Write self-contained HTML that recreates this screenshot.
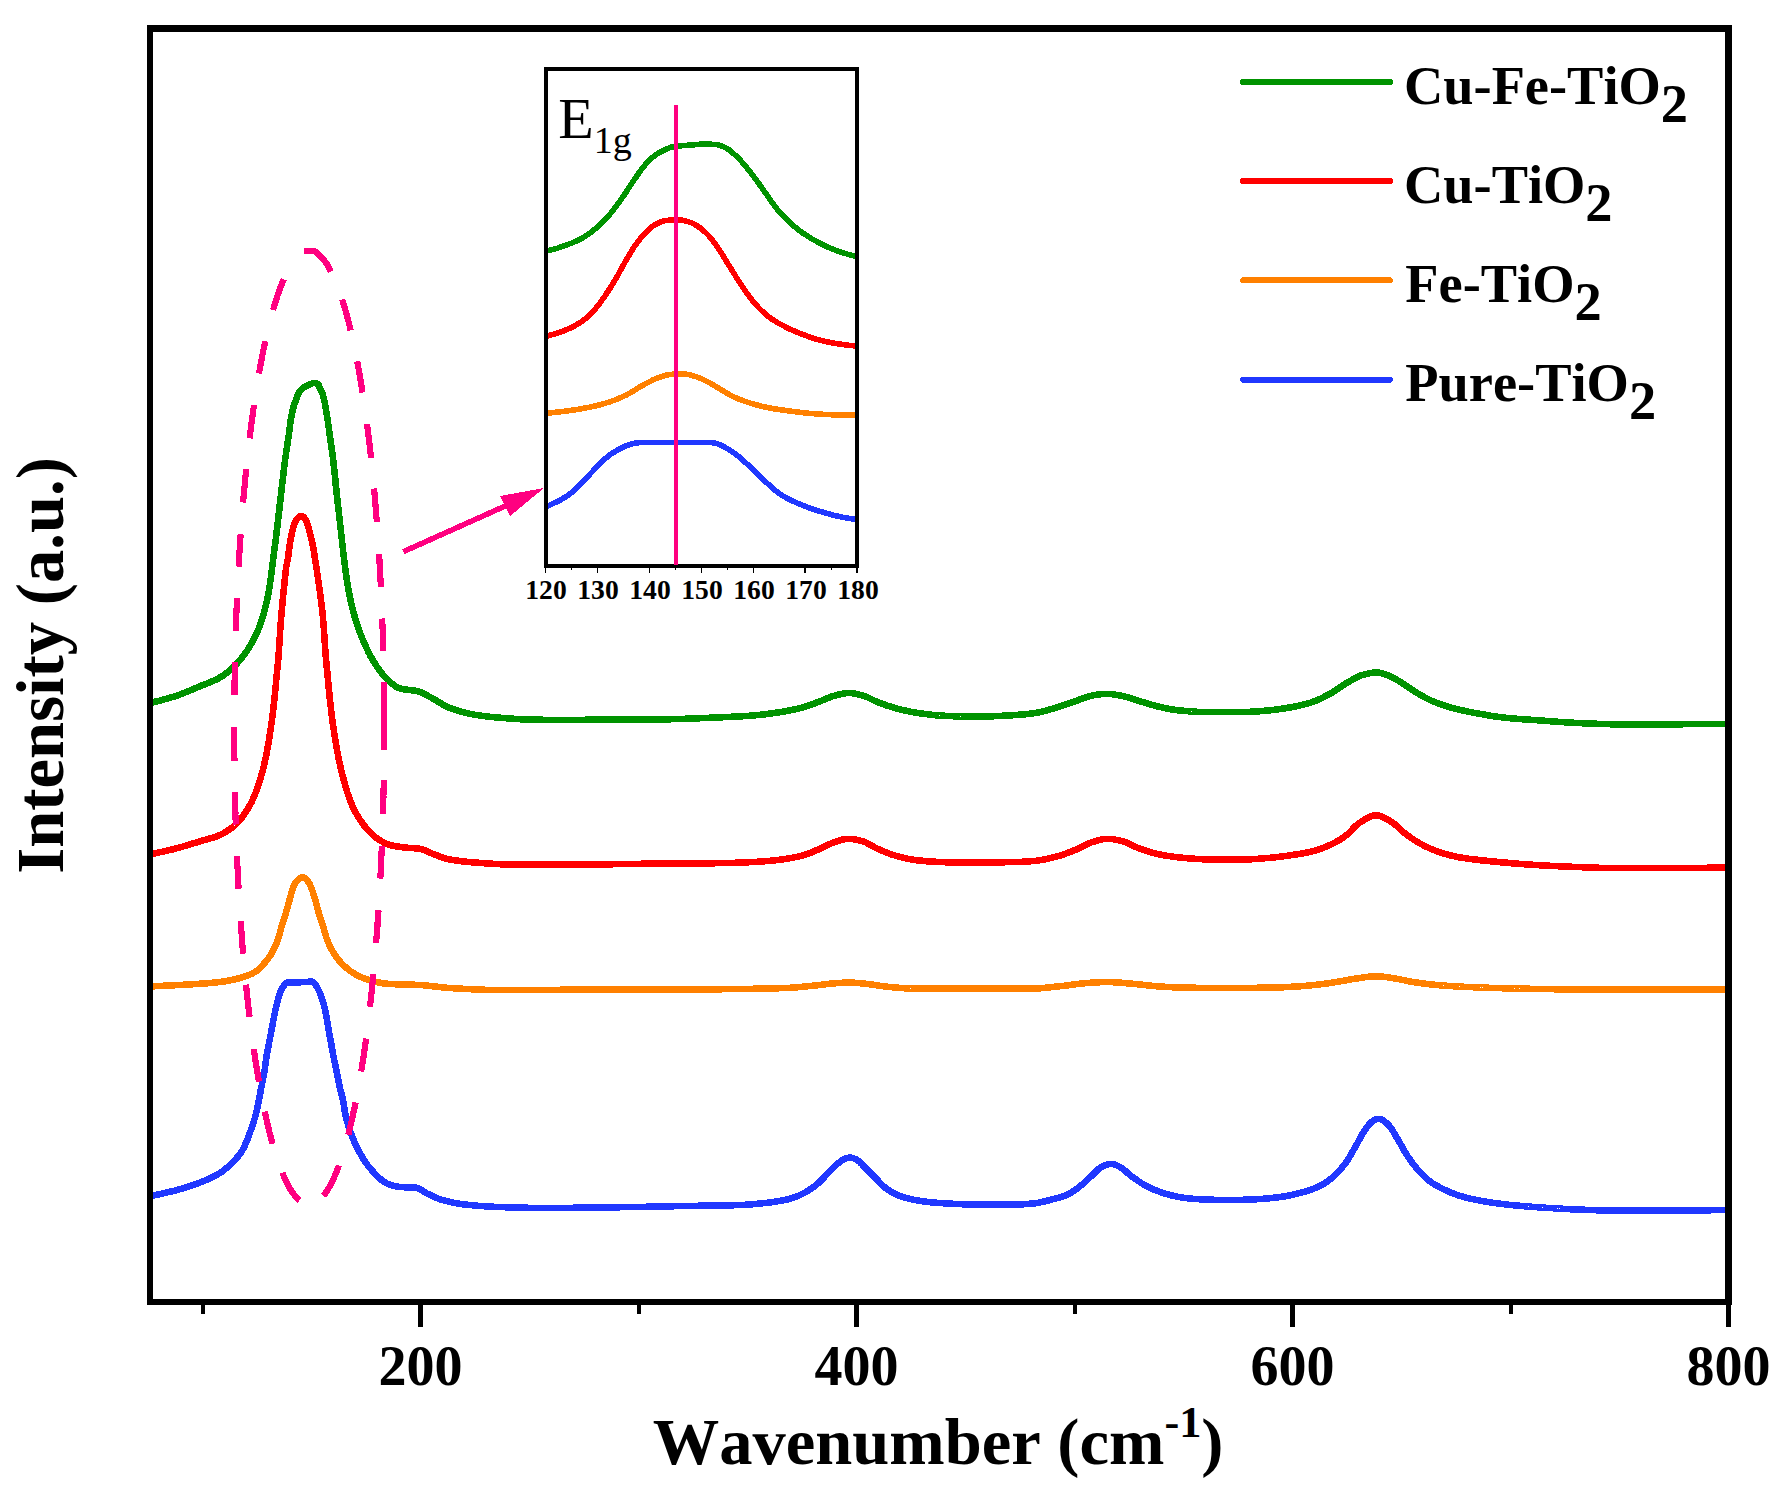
<!DOCTYPE html>
<html lang="en"><head><meta charset="utf-8"><title>Raman spectra</title>
<style>html,body{margin:0;padding:0;background:#fff}svg{display:block}text{font-kerning:none}</style></head>
<body>
<svg width="1788" height="1494" viewBox="0 0 1788 1494" shape-rendering="crispEdges">
<rect x="0" y="0" width="1788" height="1494" fill="#fff"/>
<defs>
<clipPath id="cm"><rect x="153" y="32" width="1572" height="1267"/></clipPath>
<clipPath id="ci"><rect x="548" y="71" width="307" height="493"/></clipPath>
</defs>
<g clip-path="url(#cm)" shape-rendering="crispEdges" fill="none" stroke-width="6.6" stroke-linejoin="round" stroke-linecap="butt">
<path d="M148.4,1196.4 L149.1,1196.3 L150.0,1196.1 L150.9,1195.9 L151.9,1195.7 L152.9,1195.5 L153.9,1195.3 L154.9,1195.1 L155.8,1194.9 L156.8,1194.7 L157.8,1194.5 L158.8,1194.3 L159.8,1194.1 L160.7,1193.9 L161.7,1193.7 L162.7,1193.4 L163.7,1193.2 L164.6,1193.0 L165.6,1192.8 L166.6,1192.6 L167.6,1192.3 L168.5,1192.1 L169.5,1191.9 L170.5,1191.6 L171.5,1191.4 L172.4,1191.2 L173.4,1190.9 L174.4,1190.7 L175.3,1190.4 L176.3,1190.2 L177.3,1189.9 L178.2,1189.6 L179.2,1189.4 L180.1,1189.1 L181.1,1188.8 L182.1,1188.5 L183.0,1188.2 L184.0,1187.9 L184.9,1187.7 L185.9,1187.4 L186.9,1187.1 L187.8,1186.8 L188.8,1186.4 L189.7,1186.1 L190.7,1185.8 L191.6,1185.5 L192.6,1185.2 L193.5,1184.9 L194.5,1184.5 L195.4,1184.2 L196.3,1183.9 L197.3,1183.5 L198.2,1183.2 L199.2,1182.8 L200.1,1182.5 L201.0,1182.1 L201.9,1181.7 L202.9,1181.4 L203.8,1181.0 L204.8,1180.6 L205.7,1180.2 L206.6,1179.9 L207.5,1179.5 L208.5,1179.1 L209.4,1178.6 L210.3,1178.2 L211.2,1177.8 L212.1,1177.4 L213.0,1176.9 L213.9,1176.5 L214.8,1176.0 L215.7,1175.5 L216.5,1175.1 L217.4,1174.6 L218.2,1174.1 L219.0,1173.5 L219.9,1173.0 L220.7,1172.4 L221.5,1171.9 L222.3,1171.3 L223.2,1170.7 L224.0,1170.1 L224.8,1169.4 L225.5,1168.8 L226.3,1168.2 L227.1,1167.5 L227.9,1166.8 L228.6,1166.2 L229.4,1165.5 L230.1,1164.8 L230.8,1164.1 L231.5,1163.4 L232.2,1162.7 L232.9,1162.0 L233.6,1161.3 L234.3,1160.6 L235.0,1159.9 L235.7,1159.1 L236.4,1158.4 L237.0,1157.6 L237.7,1156.8 L238.3,1156.0 L238.9,1155.2 L239.5,1154.4 L240.1,1153.6 L240.7,1152.8 L241.3,1152.0 L241.8,1151.1 L242.3,1150.3 L242.8,1149.5 L243.3,1148.6 L243.7,1147.7 L244.2,1146.8 L244.6,1146.0 L245.0,1145.1 L245.4,1144.1 L245.8,1143.2 L246.2,1142.3 L246.6,1141.4 L247.0,1140.4 L247.4,1139.5 L247.7,1138.5 L248.1,1137.6 L248.5,1136.7 L248.8,1135.7 L249.2,1134.8 L249.5,1133.8 L249.9,1132.9 L250.2,1131.9 L250.5,1131.0 L250.9,1130.1 L251.2,1129.1 L251.5,1128.2 L251.9,1127.2 L252.2,1126.3 L252.5,1125.3 L252.8,1124.4 L253.2,1123.4 L253.5,1122.5 L253.8,1121.5 L254.1,1120.6 L254.3,1119.6 L254.6,1118.7 L254.9,1117.7 L255.2,1116.7 L255.4,1115.8 L255.7,1114.8 L256.0,1113.8 L256.2,1112.9 L256.4,1111.9 L256.7,1110.9 L256.9,1110.0 L257.1,1109.0 L257.3,1108.0 L257.5,1107.0 L257.7,1106.0 L257.9,1105.1 L258.1,1104.1 L258.3,1103.1 L258.5,1102.1 L258.7,1101.1 L258.9,1100.2 L259.1,1099.2 L259.3,1098.2 L259.5,1097.2 L259.7,1096.2 L259.9,1095.2 L260.0,1094.3 L260.2,1093.3 L260.4,1092.3 L260.6,1091.3 L260.7,1090.3 L260.9,1089.3 L261.1,1088.4 L261.3,1087.4 L261.5,1086.4 L261.7,1085.4 L261.9,1084.4 L262.1,1083.4 L262.3,1082.5 L262.5,1081.5 L262.7,1080.5 L262.9,1079.5 L263.1,1078.6 L263.3,1077.6 L263.5,1076.6 L263.7,1075.6 L263.9,1074.6 L264.1,1073.6 L264.2,1072.7 L264.4,1071.7 L264.5,1070.7 L264.7,1069.7 L264.8,1068.7 L264.9,1067.7 L265.1,1066.7 L265.2,1065.7 L265.3,1064.7 L265.5,1063.7 L265.6,1062.8 L265.7,1061.8 L265.9,1060.8 L266.0,1059.8 L266.2,1058.8 L266.3,1057.8 L266.5,1056.8 L266.6,1055.8 L266.8,1054.8 L267.0,1053.9 L267.2,1052.9 L267.3,1051.9 L267.5,1050.9 L267.7,1049.9 L267.9,1048.9 L268.1,1048.0 L268.3,1047.0 L268.5,1046.0 L268.7,1045.0 L268.9,1044.0 L269.0,1043.1 L269.2,1042.1 L269.4,1041.1 L269.6,1040.1 L269.8,1039.1 L270.0,1038.1 L270.2,1037.2 L270.4,1036.2 L270.6,1035.2 L270.8,1034.2 L271.0,1033.2 L271.1,1032.3 L271.3,1031.3 L271.5,1030.3 L271.7,1029.3 L271.9,1028.3 L272.1,1027.3 L272.2,1026.4 L272.4,1025.4 L272.6,1024.4 L272.8,1023.4 L273.0,1022.4 L273.1,1021.4 L273.3,1020.5 L273.5,1019.5 L273.7,1018.5 L273.9,1017.5 L274.1,1016.5 L274.3,1015.6 L274.5,1014.6 L274.7,1013.6 L274.9,1012.6 L275.1,1011.6 L275.3,1010.7 L275.6,1009.7 L275.8,1008.7 L276.0,1007.7 L276.2,1006.8 L276.5,1005.8 L276.7,1004.8 L276.9,1003.8 L277.2,1002.9 L277.4,1001.9 L277.7,1000.9 L277.9,999.9 L278.2,999.0 L278.4,998.0 L278.7,997.0 L278.9,996.0 L279.2,995.1 L279.5,994.1 L279.8,993.2 L280.2,992.2 L280.5,991.3 L280.9,990.4 L281.3,989.5 L281.8,988.7 L282.3,987.8 L282.9,987.0 L283.5,986.1 L284.0,985.3 L284.6,984.5 L285.3,983.8 L286.1,983.2 L287.0,982.7 L287.9,982.4 L288.8,982.2 L289.8,982.2 L290.8,982.2 L291.8,982.2 L292.8,982.2 L293.8,982.2 L294.8,982.2 L295.8,982.2 L296.8,982.2 L297.9,982.2 L298.9,982.2 L299.9,982.2 L300.9,982.2 L301.9,982.1 L302.9,982.1 L303.9,982.1 L304.9,982.1 L305.9,982.0 L306.9,981.9 L307.9,981.8 L308.9,981.6 L309.8,981.5 L310.8,981.5 L311.7,981.6 L312.6,982.0 L313.5,982.6 L314.2,983.2 L314.9,984.0 L315.5,984.7 L316.1,985.6 L316.6,986.5 L317.1,987.3 L317.6,988.2 L318.0,989.1 L318.5,990.0 L318.9,990.9 L319.4,991.8 L319.8,992.7 L320.1,993.6 L320.5,994.6 L320.9,995.5 L321.2,996.4 L321.6,997.4 L321.9,998.3 L322.2,999.3 L322.5,1000.2 L322.8,1001.2 L323.1,1002.1 L323.4,1003.1 L323.6,1004.1 L323.9,1005.0 L324.1,1006.0 L324.4,1007.0 L324.6,1007.9 L324.8,1008.9 L325.0,1009.9 L325.3,1010.9 L325.5,1011.8 L325.7,1012.8 L325.9,1013.8 L326.1,1014.8 L326.3,1015.8 L326.4,1016.8 L326.6,1017.7 L326.8,1018.7 L327.0,1019.7 L327.1,1020.7 L327.3,1021.7 L327.5,1022.7 L327.6,1023.7 L327.8,1024.6 L327.9,1025.6 L328.1,1026.6 L328.2,1027.6 L328.4,1028.6 L328.6,1029.6 L328.7,1030.6 L328.9,1031.6 L329.1,1032.5 L329.3,1033.5 L329.4,1034.5 L329.6,1035.5 L329.8,1036.5 L330.0,1037.4 L330.2,1038.4 L330.4,1039.4 L330.6,1040.4 L330.7,1041.4 L330.9,1042.4 L331.1,1043.3 L331.3,1044.3 L331.5,1045.3 L331.6,1046.3 L331.8,1047.3 L332.0,1048.3 L332.2,1049.3 L332.3,1050.2 L332.5,1051.2 L332.7,1052.2 L332.9,1053.2 L333.0,1054.2 L333.2,1055.2 L333.4,1056.1 L333.6,1057.1 L333.8,1058.1 L334.0,1059.1 L334.2,1060.1 L334.4,1061.0 L334.6,1062.0 L334.8,1063.0 L335.0,1064.0 L335.3,1064.9 L335.5,1065.9 L335.7,1066.9 L335.9,1067.9 L336.1,1068.9 L336.3,1069.8 L336.5,1070.8 L336.7,1071.8 L336.9,1072.8 L337.1,1073.8 L337.3,1074.7 L337.5,1075.7 L337.7,1076.7 L337.9,1077.7 L338.0,1078.7 L338.2,1079.7 L338.4,1080.6 L338.6,1081.6 L338.8,1082.6 L339.0,1083.6 L339.2,1084.6 L339.4,1085.5 L339.6,1086.5 L339.9,1087.5 L340.1,1088.5 L340.3,1089.4 L340.6,1090.4 L340.8,1091.4 L341.1,1092.3 L341.3,1093.3 L341.6,1094.3 L341.8,1095.2 L342.1,1096.2 L342.3,1097.2 L342.5,1098.2 L342.7,1099.1 L343.0,1100.1 L343.1,1101.1 L343.3,1102.1 L343.5,1103.1 L343.7,1104.0 L343.8,1105.0 L344.0,1106.0 L344.1,1107.0 L344.3,1108.0 L344.4,1109.0 L344.6,1110.0 L344.7,1111.0 L344.9,1112.0 L345.1,1112.9 L345.3,1113.9 L345.5,1114.9 L345.7,1115.9 L345.9,1116.8 L346.2,1117.8 L346.4,1118.8 L346.6,1119.7 L346.9,1120.7 L347.2,1121.7 L347.4,1122.6 L347.7,1123.6 L348.0,1124.6 L348.3,1125.5 L348.6,1126.5 L348.9,1127.5 L349.2,1128.4 L349.5,1129.4 L349.9,1130.3 L350.2,1131.3 L350.5,1132.2 L350.9,1133.1 L351.2,1134.1 L351.6,1135.0 L351.9,1136.0 L352.3,1136.9 L352.6,1137.8 L353.0,1138.7 L353.4,1139.6 L353.8,1140.6 L354.1,1141.5 L354.5,1142.4 L355.0,1143.3 L355.4,1144.2 L355.8,1145.2 L356.2,1146.1 L356.7,1147.0 L357.1,1147.9 L357.6,1148.8 L358.0,1149.7 L358.5,1150.5 L359.0,1151.4 L359.5,1152.3 L360.0,1153.2 L360.5,1154.1 L361.0,1154.9 L361.5,1155.8 L362.0,1156.6 L362.5,1157.5 L363.0,1158.3 L363.5,1159.2 L364.1,1160.0 L364.6,1160.8 L365.2,1161.7 L365.8,1162.5 L366.4,1163.3 L366.9,1164.1 L367.5,1165.0 L368.1,1165.8 L368.8,1166.6 L369.4,1167.4 L370.0,1168.1 L370.7,1168.9 L371.3,1169.7 L372.0,1170.5 L372.6,1171.2 L373.3,1171.9 L374.0,1172.7 L374.6,1173.4 L375.3,1174.1 L376.0,1174.8 L376.7,1175.5 L377.5,1176.2 L378.2,1176.9 L379.0,1177.7 L379.7,1178.4 L380.5,1179.1 L381.3,1179.7 L382.1,1180.4 L382.9,1181.0 L383.7,1181.6 L384.5,1182.1 L385.3,1182.6 L386.2,1183.1 L387.0,1183.5 L387.9,1183.9 L388.8,1184.3 L389.7,1184.6 L390.7,1184.9 L391.6,1185.2 L392.6,1185.6 L393.6,1185.8 L394.6,1186.1 L395.6,1186.3 L396.6,1186.5 L397.6,1186.7 L398.6,1186.8 L399.5,1186.9 L400.5,1187.0 L401.5,1187.1 L402.5,1187.1 L403.5,1187.2 L404.6,1187.2 L405.6,1187.2 L406.6,1187.2 L407.6,1187.2 L408.6,1187.3 L409.6,1187.3 L410.6,1187.3 L411.6,1187.3 L412.6,1187.4 L413.6,1187.4 L414.5,1187.5 L415.5,1187.6 L416.4,1187.8 L417.3,1188.1 L418.2,1188.4 L419.1,1188.8 L420.0,1189.3 L420.9,1189.8 L421.8,1190.3 L422.7,1190.9 L423.5,1191.5 L424.4,1192.0 L425.3,1192.6 L426.2,1193.1 L427.1,1193.5 L428.0,1194.0 L428.9,1194.4 L429.8,1194.8 L430.7,1195.3 L431.7,1195.7 L432.6,1196.1 L433.5,1196.5 L434.4,1196.9 L435.3,1197.3 L436.2,1197.7 L437.2,1198.1 L438.1,1198.5 L439.0,1198.9 L440.0,1199.2 L440.9,1199.5 L441.9,1199.8 L442.8,1200.1 L443.8,1200.3 L444.7,1200.6 L445.7,1200.8 L446.6,1201.1 L447.6,1201.3 L448.6,1201.6 L449.6,1201.8 L450.5,1202.0 L451.5,1202.2 L452.5,1202.5 L453.5,1202.7 L454.5,1202.9 L455.5,1203.1 L456.4,1203.2 L457.4,1203.4 L458.4,1203.6 L459.4,1203.7 L460.4,1203.9 L461.4,1204.0 L462.4,1204.2 L463.4,1204.3 L464.4,1204.4 L465.4,1204.5 L466.4,1204.6 L467.3,1204.7 L468.3,1204.9 L469.3,1205.0 L470.3,1205.0 L471.3,1205.1 L472.3,1205.2 L473.3,1205.3 L474.3,1205.4 L475.3,1205.5 L476.3,1205.6 L477.3,1205.7 L478.3,1205.8 L479.3,1205.8 L480.3,1205.9 L481.3,1206.0 L482.3,1206.1 L483.3,1206.1 L484.3,1206.2 L485.3,1206.3 L486.3,1206.3 L487.3,1206.4 L488.3,1206.5 L489.3,1206.5 L490.3,1206.6 L491.3,1206.6 L492.3,1206.7 L493.3,1206.7 L494.3,1206.8 L495.3,1206.8 L496.3,1206.9 L497.3,1206.9 L498.3,1206.9 L499.3,1207.0 L500.3,1207.0 L501.3,1207.0 L502.3,1207.1 L503.3,1207.1 L504.3,1207.1 L505.3,1207.2 L506.3,1207.2 L507.3,1207.2 L508.3,1207.3 L509.3,1207.3 L510.3,1207.3 L511.3,1207.3 L512.3,1207.4 L513.3,1207.4 L514.3,1207.4 L515.3,1207.5 L516.3,1207.5 L517.3,1207.5 L518.3,1207.5 L519.3,1207.6 L520.3,1207.6 L521.3,1207.6 L522.3,1207.6 L523.3,1207.7 L524.3,1207.7 L525.3,1207.7 L526.3,1207.7 L527.3,1207.7 L528.3,1207.8 L529.3,1207.8 L530.3,1207.8 L531.3,1207.8 L532.3,1207.8 L533.3,1207.9 L534.3,1207.9 L535.3,1207.9 L536.3,1207.9 L537.3,1207.9 L538.3,1207.9 L539.3,1207.9 L540.3,1207.9 L541.3,1208.0 L542.3,1208.0 L543.3,1208.0 L544.3,1208.0 L545.3,1208.0 L546.3,1208.0 L547.3,1208.0 L548.3,1208.0 L549.3,1208.0 L550.3,1208.0 L551.3,1208.0 L552.3,1208.0 L553.3,1208.0 L554.3,1208.0 L555.3,1208.0 L556.3,1208.0 L557.3,1208.0 L558.3,1208.0 L559.3,1208.0 L560.3,1207.9 L561.3,1207.9 L562.3,1207.9 L563.3,1207.9 L564.3,1207.9 L565.3,1207.9 L566.3,1207.9 L567.3,1207.9 L568.3,1207.8 L569.3,1207.8 L570.3,1207.8 L571.3,1207.8 L572.3,1207.8 L573.3,1207.8 L574.3,1207.7 L575.3,1207.7 L576.3,1207.7 L577.3,1207.7 L578.3,1207.7 L579.3,1207.7 L580.3,1207.6 L581.3,1207.6 L582.3,1207.6 L583.3,1207.6 L584.3,1207.6 L585.3,1207.6 L586.3,1207.5 L587.3,1207.5 L588.3,1207.5 L589.3,1207.5 L590.3,1207.5 L591.3,1207.5 L592.3,1207.5 L593.3,1207.5 L594.3,1207.4 L595.3,1207.4 L596.3,1207.4 L597.3,1207.4 L598.3,1207.4 L599.3,1207.4 L600.3,1207.4 L601.3,1207.4 L602.3,1207.4 L603.3,1207.4 L604.3,1207.3 L605.3,1207.3 L606.3,1207.3 L607.3,1207.3 L608.3,1207.3 L609.3,1207.3 L610.3,1207.3 L611.3,1207.3 L612.3,1207.3 L613.3,1207.2 L614.3,1207.2 L615.3,1207.2 L616.3,1207.2 L617.3,1207.2 L618.3,1207.2 L619.3,1207.2 L620.3,1207.2 L621.3,1207.1 L622.3,1207.1 L623.3,1207.1 L624.3,1207.1 L625.3,1207.1 L626.3,1207.1 L627.3,1207.1 L628.3,1207.1 L629.3,1207.0 L630.3,1207.0 L631.3,1207.0 L632.3,1207.0 L633.3,1207.0 L634.3,1207.0 L635.3,1207.0 L636.3,1206.9 L637.3,1206.9 L638.3,1206.9 L639.3,1206.9 L640.3,1206.9 L641.3,1206.9 L642.3,1206.8 L643.3,1206.8 L644.3,1206.8 L645.3,1206.8 L646.3,1206.8 L647.3,1206.7 L648.3,1206.7 L649.3,1206.7 L650.3,1206.7 L651.3,1206.7 L652.3,1206.6 L653.3,1206.6 L654.3,1206.6 L655.3,1206.6 L656.3,1206.6 L657.3,1206.5 L658.3,1206.5 L659.3,1206.5 L660.3,1206.5 L661.3,1206.4 L662.3,1206.4 L663.3,1206.4 L664.3,1206.4 L665.3,1206.4 L666.3,1206.3 L667.3,1206.3 L668.3,1206.3 L669.3,1206.3 L670.3,1206.2 L671.3,1206.2 L672.3,1206.2 L673.3,1206.2 L674.3,1206.2 L675.3,1206.1 L676.3,1206.1 L677.3,1206.1 L678.3,1206.1 L679.3,1206.1 L680.3,1206.0 L681.3,1206.0 L682.3,1206.0 L683.2,1206.0 L684.2,1206.0 L685.2,1206.0 L686.2,1205.9 L687.2,1205.9 L688.2,1205.9 L689.3,1205.9 L690.3,1205.9 L691.3,1205.9 L692.3,1205.8 L693.3,1205.8 L694.3,1205.8 L695.3,1205.8 L696.3,1205.8 L697.3,1205.8 L698.3,1205.8 L699.3,1205.7 L700.3,1205.7 L701.3,1205.7 L702.3,1205.7 L703.3,1205.7 L704.3,1205.7 L705.3,1205.7 L706.3,1205.7 L707.3,1205.6 L708.3,1205.6 L709.3,1205.6 L710.3,1205.6 L711.3,1205.6 L712.3,1205.6 L713.3,1205.6 L714.3,1205.5 L715.3,1205.5 L716.3,1205.5 L717.3,1205.5 L718.3,1205.5 L719.3,1205.5 L720.3,1205.5 L721.3,1205.4 L722.3,1205.4 L723.3,1205.4 L724.3,1205.4 L725.3,1205.4 L726.3,1205.3 L727.3,1205.3 L728.3,1205.3 L729.3,1205.3 L730.3,1205.3 L731.3,1205.2 L732.3,1205.2 L733.3,1205.2 L734.3,1205.2 L735.2,1205.1 L736.2,1205.1 L737.2,1205.1 L738.2,1205.1 L739.2,1205.0 L740.2,1205.0 L741.2,1205.0 L742.2,1204.9 L743.2,1204.9 L744.2,1204.8 L745.2,1204.8 L746.2,1204.7 L747.2,1204.6 L748.2,1204.6 L749.2,1204.5 L750.2,1204.4 L751.2,1204.3 L752.2,1204.3 L753.2,1204.2 L754.2,1204.1 L755.2,1204.0 L756.2,1203.9 L757.2,1203.8 L758.2,1203.7 L759.2,1203.6 L760.2,1203.5 L761.2,1203.4 L762.2,1203.3 L763.2,1203.2 L764.2,1203.1 L765.2,1203.0 L766.2,1202.9 L767.1,1202.8 L768.1,1202.6 L769.1,1202.5 L770.1,1202.4 L771.1,1202.3 L772.1,1202.1 L773.1,1202.0 L774.1,1201.8 L775.1,1201.7 L776.1,1201.5 L777.1,1201.4 L778.1,1201.2 L779.1,1201.0 L780.1,1200.9 L781.1,1200.7 L782.1,1200.5 L783.0,1200.3 L784.0,1200.1 L785.0,1199.9 L786.0,1199.7 L786.9,1199.5 L787.9,1199.3 L788.9,1199.0 L789.8,1198.8 L790.8,1198.5 L791.7,1198.3 L792.7,1198.0 L793.6,1197.6 L794.6,1197.3 L795.5,1197.0 L796.4,1196.6 L797.4,1196.2 L798.3,1195.8 L799.2,1195.4 L800.1,1194.9 L801.0,1194.5 L801.9,1194.1 L802.8,1193.6 L803.7,1193.2 L804.6,1192.7 L805.5,1192.2 L806.3,1191.7 L807.2,1191.2 L808.0,1190.7 L808.9,1190.2 L809.7,1189.6 L810.6,1189.1 L811.4,1188.5 L812.2,1187.9 L813.0,1187.3 L813.8,1186.7 L814.6,1186.1 L815.4,1185.5 L816.2,1184.8 L817.0,1184.2 L817.7,1183.6 L818.5,1182.9 L819.2,1182.2 L819.9,1181.6 L820.6,1180.9 L821.3,1180.2 L822.0,1179.4 L822.7,1178.7 L823.4,1178.0 L824.1,1177.3 L824.8,1176.5 L825.5,1175.8 L826.2,1175.1 L826.9,1174.4 L827.6,1173.6 L828.3,1172.9 L829.0,1172.2 L829.7,1171.5 L830.4,1170.7 L831.1,1170.0 L831.8,1169.3 L832.4,1168.5 L833.1,1167.8 L833.8,1167.1 L834.6,1166.4 L835.3,1165.7 L836.0,1165.0 L836.8,1164.4 L837.5,1163.7 L838.3,1163.1 L839.1,1162.5 L839.9,1161.9 L840.7,1161.2 L841.5,1160.7 L842.4,1160.1 L843.2,1159.6 L844.1,1159.2 L845.0,1158.8 L845.9,1158.4 L846.9,1158.1 L847.9,1157.9 L848.9,1157.7 L849.8,1157.6 L850.8,1157.6 L851.8,1157.8 L852.8,1158.1 L853.8,1158.4 L854.7,1158.8 L855.6,1159.2 L856.5,1159.7 L857.3,1160.1 L858.1,1160.7 L858.8,1161.3 L859.6,1161.9 L860.3,1162.6 L861.0,1163.4 L861.8,1164.1 L862.5,1164.9 L863.2,1165.6 L863.9,1166.4 L864.6,1167.1 L865.3,1167.8 L866.0,1168.5 L866.7,1169.2 L867.5,1169.9 L868.2,1170.6 L868.9,1171.3 L869.6,1172.0 L870.3,1172.7 L871.0,1173.4 L871.7,1174.1 L872.4,1174.9 L873.1,1175.6 L873.8,1176.3 L874.5,1177.0 L875.2,1177.7 L875.9,1178.4 L876.6,1179.2 L877.3,1179.9 L878.0,1180.6 L878.7,1181.4 L879.3,1182.1 L880.0,1182.8 L880.7,1183.6 L881.4,1184.3 L882.1,1185.0 L882.9,1185.7 L883.6,1186.3 L884.4,1187.0 L885.1,1187.6 L885.9,1188.2 L886.7,1188.8 L887.5,1189.3 L888.3,1189.9 L889.2,1190.5 L890.0,1191.0 L890.9,1191.6 L891.8,1192.1 L892.6,1192.6 L893.5,1193.1 L894.4,1193.6 L895.3,1194.0 L896.2,1194.4 L897.1,1194.8 L898.0,1195.2 L898.9,1195.5 L899.9,1195.9 L900.8,1196.2 L901.7,1196.6 L902.7,1196.9 L903.6,1197.2 L904.6,1197.5 L905.6,1197.8 L906.5,1198.1 L907.5,1198.3 L908.5,1198.6 L909.5,1198.8 L910.5,1199.1 L911.4,1199.3 L912.4,1199.5 L913.4,1199.7 L914.4,1199.9 L915.4,1200.1 L916.3,1200.2 L917.3,1200.4 L918.3,1200.5 L919.3,1200.7 L920.3,1200.9 L921.3,1201.0 L922.2,1201.1 L923.2,1201.3 L924.2,1201.4 L925.2,1201.6 L926.2,1201.7 L927.2,1201.8 L928.2,1201.9 L929.2,1202.0 L930.2,1202.2 L931.2,1202.3 L932.2,1202.4 L933.2,1202.5 L934.2,1202.6 L935.2,1202.6 L936.2,1202.7 L937.2,1202.8 L938.2,1202.9 L939.2,1202.9 L940.2,1203.0 L941.2,1203.1 L942.2,1203.1 L943.2,1203.2 L944.2,1203.3 L945.2,1203.3 L946.2,1203.4 L947.2,1203.4 L948.2,1203.5 L949.2,1203.5 L950.2,1203.6 L951.2,1203.7 L952.2,1203.7 L953.2,1203.8 L954.2,1203.8 L955.2,1203.9 L956.2,1203.9 L957.2,1204.0 L958.2,1204.0 L959.2,1204.1 L960.2,1204.1 L961.2,1204.1 L962.2,1204.2 L963.2,1204.2 L964.2,1204.3 L965.2,1204.3 L966.2,1204.3 L967.2,1204.3 L968.2,1204.4 L969.2,1204.4 L970.2,1204.4 L971.2,1204.4 L972.2,1204.5 L973.2,1204.5 L974.2,1204.5 L975.2,1204.5 L976.2,1204.5 L977.2,1204.5 L978.2,1204.5 L979.2,1204.5 L980.2,1204.5 L981.2,1204.5 L982.2,1204.5 L983.2,1204.5 L984.2,1204.5 L985.2,1204.5 L986.2,1204.5 L987.2,1204.5 L988.2,1204.5 L989.2,1204.5 L990.2,1204.5 L991.2,1204.5 L992.2,1204.5 L993.2,1204.5 L994.2,1204.5 L995.2,1204.5 L996.2,1204.5 L997.2,1204.5 L998.2,1204.5 L999.2,1204.5 L1000.2,1204.5 L1001.2,1204.5 L1002.2,1204.5 L1003.2,1204.5 L1004.2,1204.5 L1005.2,1204.5 L1006.2,1204.5 L1007.2,1204.5 L1008.2,1204.5 L1009.2,1204.5 L1010.2,1204.5 L1011.2,1204.5 L1012.2,1204.5 L1013.2,1204.5 L1014.2,1204.5 L1015.2,1204.5 L1016.2,1204.5 L1017.2,1204.5 L1018.2,1204.5 L1019.2,1204.4 L1020.2,1204.4 L1021.2,1204.3 L1022.2,1204.3 L1023.2,1204.2 L1024.2,1204.2 L1025.2,1204.1 L1026.2,1204.1 L1027.2,1204.0 L1028.2,1203.9 L1029.2,1203.8 L1030.1,1203.7 L1031.1,1203.7 L1032.1,1203.6 L1033.1,1203.5 L1034.1,1203.4 L1035.1,1203.3 L1036.1,1203.1 L1037.1,1203.0 L1038.1,1202.8 L1039.0,1202.6 L1040.0,1202.4 L1041.0,1202.2 L1042.0,1202.0 L1043.0,1201.8 L1043.9,1201.5 L1044.9,1201.3 L1045.9,1201.0 L1046.9,1200.8 L1047.8,1200.5 L1048.8,1200.3 L1049.8,1200.1 L1050.7,1199.8 L1051.7,1199.6 L1052.7,1199.3 L1053.7,1199.1 L1054.6,1198.8 L1055.6,1198.5 L1056.6,1198.3 L1057.6,1198.0 L1058.5,1197.7 L1059.5,1197.4 L1060.5,1197.1 L1061.4,1196.8 L1062.4,1196.5 L1063.3,1196.2 L1064.2,1195.8 L1065.2,1195.5 L1066.1,1195.1 L1067.0,1194.7 L1067.9,1194.3 L1068.8,1193.9 L1069.6,1193.4 L1070.5,1192.9 L1071.3,1192.4 L1072.2,1191.9 L1073.0,1191.4 L1073.9,1190.8 L1074.7,1190.2 L1075.5,1189.6 L1076.4,1189.0 L1077.2,1188.4 L1078.0,1187.8 L1078.8,1187.2 L1079.6,1186.6 L1080.3,1186.0 L1081.1,1185.4 L1081.9,1184.7 L1082.7,1184.1 L1083.4,1183.4 L1084.1,1182.8 L1084.9,1182.1 L1085.6,1181.4 L1086.4,1180.7 L1087.1,1180.0 L1087.8,1179.3 L1088.5,1178.7 L1089.3,1178.0 L1090.0,1177.3 L1090.7,1176.6 L1091.5,1175.9 L1092.2,1175.2 L1093.0,1174.6 L1093.7,1173.9 L1094.4,1173.1 L1095.2,1172.4 L1095.9,1171.6 L1096.6,1170.9 L1097.3,1170.2 L1098.1,1169.5 L1098.8,1168.8 L1099.6,1168.2 L1100.3,1167.6 L1101.1,1167.0 L1102.0,1166.6 L1102.8,1166.1 L1103.7,1165.7 L1104.6,1165.4 L1105.6,1165.0 L1106.6,1164.7 L1107.6,1164.4 L1108.5,1164.1 L1109.5,1163.9 L1110.5,1163.8 L1111.5,1163.8 L1112.4,1163.9 L1113.4,1164.1 L1114.4,1164.4 L1115.3,1164.7 L1116.3,1165.1 L1117.2,1165.6 L1118.1,1166.0 L1119.0,1166.5 L1119.9,1167.0 L1120.8,1167.5 L1121.6,1168.0 L1122.4,1168.5 L1123.2,1169.1 L1123.9,1169.8 L1124.7,1170.4 L1125.5,1171.1 L1126.2,1171.8 L1127.0,1172.5 L1127.7,1173.1 L1128.5,1173.8 L1129.3,1174.4 L1130.1,1175.1 L1130.9,1175.7 L1131.7,1176.3 L1132.5,1176.9 L1133.3,1177.5 L1134.1,1178.1 L1134.9,1178.7 L1135.7,1179.2 L1136.5,1179.8 L1137.4,1180.4 L1138.2,1181.0 L1139.0,1181.5 L1139.8,1182.1 L1140.7,1182.6 L1141.5,1183.2 L1142.4,1183.7 L1143.2,1184.2 L1144.1,1184.7 L1145.0,1185.2 L1145.8,1185.6 L1146.7,1186.1 L1147.6,1186.6 L1148.5,1187.0 L1149.4,1187.5 L1150.3,1187.9 L1151.2,1188.3 L1152.1,1188.8 L1153.0,1189.2 L1154.0,1189.6 L1154.9,1189.9 L1155.8,1190.3 L1156.7,1190.7 L1157.7,1191.0 L1158.6,1191.4 L1159.5,1191.7 L1160.5,1192.1 L1161.4,1192.4 L1162.4,1192.7 L1163.3,1193.1 L1164.3,1193.4 L1165.2,1193.7 L1166.2,1194.0 L1167.2,1194.2 L1168.1,1194.5 L1169.1,1194.8 L1170.1,1195.0 L1171.0,1195.3 L1172.0,1195.5 L1173.0,1195.7 L1173.9,1196.0 L1174.9,1196.2 L1175.9,1196.4 L1176.9,1196.6 L1177.9,1196.8 L1178.8,1197.0 L1179.8,1197.2 L1180.8,1197.4 L1181.8,1197.6 L1182.8,1197.7 L1183.8,1197.8 L1184.8,1198.0 L1185.8,1198.1 L1186.7,1198.2 L1187.7,1198.3 L1188.7,1198.4 L1189.7,1198.5 L1190.7,1198.6 L1191.7,1198.7 L1192.7,1198.8 L1193.7,1198.8 L1194.7,1198.9 L1195.7,1199.0 L1196.7,1199.1 L1197.7,1199.1 L1198.7,1199.2 L1199.7,1199.3 L1200.7,1199.3 L1201.7,1199.4 L1202.7,1199.4 L1203.7,1199.5 L1204.7,1199.5 L1205.7,1199.5 L1206.7,1199.6 L1207.7,1199.6 L1208.7,1199.6 L1209.7,1199.6 L1210.7,1199.7 L1211.7,1199.7 L1212.7,1199.7 L1213.7,1199.8 L1214.7,1199.8 L1215.7,1199.8 L1216.7,1199.8 L1217.7,1199.9 L1218.7,1199.9 L1219.7,1199.9 L1220.7,1199.9 L1221.7,1199.9 L1222.7,1199.9 L1223.7,1200.0 L1224.7,1200.0 L1225.7,1200.0 L1226.7,1200.0 L1227.7,1200.0 L1228.7,1200.0 L1229.7,1200.0 L1230.7,1200.0 L1231.7,1200.0 L1232.7,1200.0 L1233.7,1200.0 L1234.7,1200.0 L1235.7,1199.9 L1236.7,1199.9 L1237.7,1199.9 L1238.7,1199.9 L1239.7,1199.9 L1240.7,1199.8 L1241.7,1199.8 L1242.7,1199.8 L1243.7,1199.7 L1244.7,1199.7 L1245.7,1199.6 L1246.7,1199.6 L1247.7,1199.6 L1248.7,1199.5 L1249.7,1199.5 L1250.7,1199.4 L1251.7,1199.4 L1252.7,1199.4 L1253.7,1199.3 L1254.7,1199.3 L1255.7,1199.2 L1256.7,1199.2 L1257.7,1199.1 L1258.7,1199.1 L1259.7,1199.0 L1260.7,1198.9 L1261.7,1198.9 L1262.7,1198.8 L1263.7,1198.7 L1264.7,1198.6 L1265.7,1198.5 L1266.7,1198.5 L1267.7,1198.4 L1268.7,1198.3 L1269.7,1198.2 L1270.7,1198.1 L1271.7,1198.0 L1272.6,1197.9 L1273.6,1197.8 L1274.6,1197.6 L1275.6,1197.5 L1276.6,1197.4 L1277.6,1197.3 L1278.6,1197.2 L1279.6,1197.0 L1280.6,1196.9 L1281.6,1196.8 L1282.6,1196.6 L1283.5,1196.5 L1284.5,1196.3 L1285.5,1196.2 L1286.5,1196.0 L1287.5,1195.8 L1288.5,1195.6 L1289.5,1195.4 L1290.4,1195.2 L1291.4,1195.0 L1292.4,1194.8 L1293.4,1194.6 L1294.4,1194.4 L1295.3,1194.1 L1296.3,1193.9 L1297.3,1193.7 L1298.3,1193.4 L1299.2,1193.2 L1300.2,1192.9 L1301.1,1192.7 L1302.1,1192.4 L1303.1,1192.2 L1304.0,1191.9 L1305.0,1191.6 L1306.0,1191.3 L1306.9,1191.0 L1307.9,1190.7 L1308.9,1190.4 L1309.8,1190.1 L1310.8,1189.7 L1311.7,1189.4 L1312.6,1189.0 L1313.6,1188.7 L1314.5,1188.3 L1315.4,1187.9 L1316.3,1187.5 L1317.2,1187.1 L1318.1,1186.7 L1319.0,1186.3 L1319.9,1185.8 L1320.8,1185.4 L1321.7,1184.9 L1322.5,1184.4 L1323.4,1183.9 L1324.3,1183.4 L1325.2,1182.8 L1326.0,1182.3 L1326.8,1181.7 L1327.7,1181.1 L1328.5,1180.6 L1329.3,1180.0 L1330.1,1179.4 L1330.9,1178.8 L1331.7,1178.2 L1332.4,1177.5 L1333.2,1176.9 L1333.9,1176.3 L1334.7,1175.6 L1335.4,1174.9 L1336.1,1174.2 L1336.8,1173.5 L1337.5,1172.8 L1338.2,1172.0 L1338.9,1171.3 L1339.5,1170.5 L1340.2,1169.8 L1340.9,1169.0 L1341.5,1168.2 L1342.2,1167.4 L1342.8,1166.6 L1343.4,1165.8 L1344.0,1165.1 L1344.6,1164.3 L1345.2,1163.5 L1345.8,1162.7 L1346.3,1161.8 L1346.9,1161.0 L1347.5,1160.2 L1348.0,1159.4 L1348.5,1158.5 L1349.1,1157.7 L1349.6,1156.8 L1350.1,1155.9 L1350.6,1155.1 L1351.1,1154.2 L1351.6,1153.3 L1352.1,1152.5 L1352.6,1151.6 L1353.1,1150.7 L1353.6,1149.9 L1354.1,1149.0 L1354.6,1148.1 L1355.1,1147.3 L1355.6,1146.4 L1356.1,1145.5 L1356.6,1144.6 L1357.1,1143.8 L1357.6,1142.9 L1358.1,1142.0 L1358.5,1141.1 L1359.0,1140.2 L1359.5,1139.3 L1359.9,1138.4 L1360.4,1137.6 L1360.9,1136.7 L1361.4,1135.8 L1361.9,1134.9 L1362.4,1134.1 L1362.9,1133.2 L1363.4,1132.4 L1364.0,1131.5 L1364.5,1130.7 L1365.1,1129.9 L1365.6,1129.1 L1366.2,1128.2 L1366.8,1127.4 L1367.4,1126.5 L1368.1,1125.7 L1368.7,1124.9 L1369.4,1124.1 L1370.0,1123.4 L1370.7,1122.7 L1371.5,1122.1 L1372.2,1121.5 L1373.0,1121.0 L1373.9,1120.4 L1374.8,1120.0 L1375.7,1119.5 L1376.7,1119.2 L1377.7,1119.0 L1378.6,1118.9 L1379.5,1118.9 L1380.4,1119.2 L1381.4,1119.5 L1382.3,1120.0 L1383.2,1120.5 L1384.1,1121.2 L1384.9,1121.8 L1385.7,1122.4 L1386.5,1123.1 L1387.2,1123.7 L1387.9,1124.4 L1388.6,1125.1 L1389.2,1125.8 L1389.8,1126.5 L1390.4,1127.3 L1391.0,1128.2 L1391.6,1129.0 L1392.1,1129.8 L1392.7,1130.7 L1393.2,1131.6 L1393.8,1132.5 L1394.3,1133.4 L1394.8,1134.3 L1395.4,1135.1 L1395.9,1136.0 L1396.4,1136.9 L1396.9,1137.7 L1397.5,1138.6 L1398.0,1139.4 L1398.5,1140.3 L1399.0,1141.2 L1399.4,1142.0 L1399.9,1142.9 L1400.4,1143.8 L1400.9,1144.7 L1401.4,1145.6 L1401.8,1146.5 L1402.3,1147.3 L1402.8,1148.2 L1403.3,1149.1 L1403.8,1150.0 L1404.3,1150.8 L1404.8,1151.7 L1405.3,1152.5 L1405.8,1153.4 L1406.3,1154.2 L1406.9,1155.1 L1407.4,1155.9 L1408.0,1156.7 L1408.5,1157.6 L1409.1,1158.4 L1409.7,1159.2 L1410.3,1160.0 L1410.9,1160.8 L1411.4,1161.7 L1412.0,1162.5 L1412.6,1163.3 L1413.3,1164.1 L1413.9,1164.9 L1414.5,1165.7 L1415.1,1166.4 L1415.7,1167.2 L1416.4,1168.0 L1417.0,1168.8 L1417.7,1169.5 L1418.3,1170.2 L1419.0,1171.0 L1419.7,1171.7 L1420.3,1172.5 L1421.0,1173.2 L1421.7,1173.9 L1422.4,1174.6 L1423.1,1175.3 L1423.9,1176.1 L1424.6,1176.8 L1425.3,1177.4 L1426.1,1178.1 L1426.8,1178.8 L1427.6,1179.5 L1428.4,1180.1 L1429.1,1180.7 L1429.9,1181.3 L1430.7,1181.9 L1431.5,1182.5 L1432.3,1183.0 L1433.1,1183.6 L1434.0,1184.1 L1434.8,1184.6 L1435.7,1185.2 L1436.6,1185.7 L1437.4,1186.1 L1438.3,1186.6 L1439.2,1187.1 L1440.1,1187.6 L1441.0,1188.0 L1441.9,1188.5 L1442.8,1188.9 L1443.7,1189.3 L1444.6,1189.8 L1445.5,1190.2 L1446.5,1190.6 L1447.4,1191.0 L1448.3,1191.4 L1449.2,1191.8 L1450.1,1192.2 L1451.0,1192.6 L1452.0,1192.9 L1452.9,1193.3 L1453.8,1193.7 L1454.8,1194.1 L1455.7,1194.4 L1456.7,1194.8 L1457.6,1195.1 L1458.6,1195.4 L1459.5,1195.7 L1460.5,1196.0 L1461.4,1196.3 L1462.4,1196.6 L1463.3,1196.9 L1464.3,1197.1 L1465.2,1197.4 L1466.2,1197.6 L1467.2,1197.9 L1468.1,1198.1 L1469.1,1198.3 L1470.1,1198.6 L1471.0,1198.8 L1472.0,1199.0 L1473.0,1199.2 L1474.0,1199.4 L1475.0,1199.7 L1475.9,1199.9 L1476.9,1200.1 L1477.9,1200.2 L1478.9,1200.4 L1479.9,1200.6 L1480.9,1200.8 L1481.9,1201.0 L1482.9,1201.2 L1483.8,1201.3 L1484.8,1201.5 L1485.8,1201.7 L1486.8,1201.8 L1487.8,1202.0 L1488.8,1202.2 L1489.8,1202.3 L1490.8,1202.5 L1491.7,1202.6 L1492.7,1202.8 L1493.7,1202.9 L1494.7,1203.0 L1495.7,1203.2 L1496.7,1203.3 L1497.7,1203.4 L1498.7,1203.6 L1499.7,1203.7 L1500.7,1203.8 L1501.6,1204.0 L1502.6,1204.1 L1503.6,1204.2 L1504.6,1204.3 L1505.6,1204.4 L1506.6,1204.5 L1507.6,1204.7 L1508.6,1204.8 L1509.6,1204.9 L1510.6,1205.0 L1511.6,1205.1 L1512.6,1205.2 L1513.6,1205.3 L1514.6,1205.4 L1515.6,1205.5 L1516.6,1205.6 L1517.6,1205.6 L1518.6,1205.7 L1519.6,1205.8 L1520.6,1205.9 L1521.5,1206.0 L1522.5,1206.1 L1523.5,1206.2 L1524.5,1206.2 L1525.5,1206.3 L1526.5,1206.4 L1527.5,1206.5 L1528.5,1206.6 L1529.5,1206.6 L1530.5,1206.7 L1531.5,1206.8 L1532.5,1206.9 L1533.5,1207.0 L1534.5,1207.0 L1535.5,1207.1 L1536.5,1207.2 L1537.5,1207.2 L1538.5,1207.3 L1539.5,1207.4 L1540.5,1207.4 L1541.5,1207.5 L1542.5,1207.6 L1543.5,1207.6 L1544.5,1207.7 L1545.5,1207.8 L1546.5,1207.8 L1547.5,1207.9 L1548.5,1208.0 L1549.5,1208.0 L1550.5,1208.1 L1551.5,1208.1 L1552.5,1208.2 L1553.5,1208.2 L1554.5,1208.3 L1555.5,1208.4 L1556.5,1208.4 L1557.5,1208.5 L1558.5,1208.5 L1559.5,1208.6 L1560.5,1208.6 L1561.5,1208.7 L1562.5,1208.8 L1563.5,1208.8 L1564.5,1208.9 L1565.5,1208.9 L1566.5,1209.0 L1567.5,1209.0 L1568.5,1209.1 L1569.5,1209.1 L1570.4,1209.2 L1571.4,1209.2 L1572.4,1209.3 L1573.4,1209.3 L1574.4,1209.4 L1575.4,1209.4 L1576.4,1209.5 L1577.4,1209.5 L1578.4,1209.5 L1579.4,1209.6 L1580.4,1209.6 L1581.4,1209.7 L1582.4,1209.7 L1583.4,1209.7 L1584.4,1209.8 L1585.4,1209.8 L1586.4,1209.9 L1587.4,1209.9 L1588.4,1209.9 L1589.4,1210.0 L1590.4,1210.0 L1591.4,1210.0 L1592.4,1210.0 L1593.4,1210.1 L1594.4,1210.1 L1595.4,1210.1 L1596.4,1210.2 L1597.4,1210.2 L1598.4,1210.2 L1599.4,1210.2 L1600.4,1210.3 L1601.4,1210.3 L1602.4,1210.3 L1603.4,1210.3 L1604.4,1210.4 L1605.4,1210.4 L1606.4,1210.4 L1607.4,1210.5 L1608.4,1210.5 L1609.4,1210.5 L1610.4,1210.5 L1611.4,1210.5 L1612.4,1210.6 L1613.4,1210.6 L1614.4,1210.6 L1615.4,1210.6 L1616.4,1210.6 L1617.4,1210.7 L1618.4,1210.7 L1619.4,1210.7 L1620.4,1210.7 L1621.4,1210.7 L1622.4,1210.7 L1623.4,1210.7 L1624.4,1210.7 L1625.4,1210.7 L1626.4,1210.7 L1627.4,1210.7 L1628.4,1210.7 L1629.4,1210.7 L1630.4,1210.7 L1631.4,1210.7 L1632.4,1210.7 L1633.4,1210.7 L1634.4,1210.7 L1635.4,1210.7 L1636.4,1210.7 L1637.4,1210.7 L1638.4,1210.7 L1639.4,1210.7 L1640.4,1210.7 L1641.4,1210.7 L1642.4,1210.7 L1643.4,1210.7 L1644.4,1210.7 L1645.4,1210.7 L1646.4,1210.7 L1647.4,1210.7 L1648.4,1210.6 L1649.4,1210.6 L1650.4,1210.6 L1651.4,1210.6 L1652.4,1210.6 L1653.4,1210.6 L1654.4,1210.6 L1655.4,1210.6 L1656.4,1210.6 L1657.4,1210.6 L1658.4,1210.6 L1659.4,1210.6 L1660.4,1210.5 L1661.4,1210.5 L1662.4,1210.5 L1663.4,1210.5 L1664.4,1210.5 L1665.4,1210.5 L1666.4,1210.5 L1667.4,1210.5 L1668.4,1210.5 L1669.4,1210.5 L1670.4,1210.5 L1671.4,1210.5 L1672.4,1210.5 L1673.4,1210.4 L1674.4,1210.4 L1675.4,1210.4 L1676.4,1210.4 L1677.4,1210.4 L1678.4,1210.4 L1679.4,1210.4 L1680.4,1210.4 L1681.4,1210.4 L1682.4,1210.4 L1683.4,1210.4 L1684.4,1210.4 L1685.4,1210.4 L1686.4,1210.3 L1687.4,1210.3 L1688.4,1210.3 L1689.4,1210.3 L1690.4,1210.3 L1691.4,1210.3 L1692.4,1210.3 L1693.4,1210.3 L1694.4,1210.3 L1695.4,1210.3 L1696.4,1210.3 L1697.4,1210.3 L1698.4,1210.3 L1699.4,1210.2 L1700.4,1210.2 L1701.4,1210.2 L1702.4,1210.2 L1703.4,1210.2 L1704.4,1210.2 L1705.4,1210.2 L1706.4,1210.2 L1707.4,1210.2 L1708.4,1210.2 L1709.4,1210.2 L1710.4,1210.2 L1711.4,1210.2 L1712.4,1210.1 L1713.4,1210.1 L1714.4,1210.1 L1715.4,1210.1 L1716.4,1210.1 L1717.4,1210.1 L1718.4,1210.1 L1719.4,1210.1 L1720.4,1210.1 L1721.4,1210.1 L1722.4,1210.1 L1723.4,1210.1 L1724.4,1210.0 L1725.4,1210.0 L1726.4,1210.0 L1727.4,1210.0 L1728.4,1210.0 L1729.2,1210.0 L1729.7,1210.0" stroke="#2038ff"/>
<path d="M148.4,986.5 L149.1,986.4 L150.0,986.4 L151.0,986.4 L152.0,986.3 L153.0,986.3 L154.0,986.2 L155.0,986.2 L156.0,986.1 L157.0,986.1 L158.0,986.0 L159.0,986.0 L160.0,985.9 L161.0,985.9 L162.0,985.8 L163.0,985.8 L164.0,985.7 L165.0,985.7 L166.0,985.6 L167.0,985.6 L168.0,985.5 L169.0,985.5 L170.0,985.4 L171.0,985.4 L172.0,985.3 L173.0,985.3 L174.0,985.2 L175.0,985.2 L176.0,985.1 L177.0,985.1 L178.0,985.0 L179.0,985.0 L180.0,984.9 L181.0,984.9 L182.0,984.8 L183.0,984.8 L184.0,984.7 L185.0,984.7 L186.0,984.6 L187.0,984.5 L187.9,984.5 L188.9,984.4 L189.9,984.4 L190.9,984.3 L191.9,984.2 L192.9,984.2 L193.9,984.1 L194.9,984.0 L195.9,984.0 L196.9,983.9 L197.9,983.9 L198.9,983.8 L199.9,983.7 L200.9,983.7 L201.9,983.6 L202.9,983.5 L203.9,983.5 L204.9,983.4 L205.9,983.3 L206.9,983.2 L207.9,983.2 L208.9,983.1 L209.9,983.0 L210.9,982.9 L211.9,982.8 L212.9,982.7 L213.9,982.6 L214.9,982.5 L215.9,982.4 L216.9,982.3 L217.9,982.2 L218.9,982.1 L219.9,982.0 L220.8,981.9 L221.8,981.8 L222.8,981.6 L223.8,981.5 L224.8,981.3 L225.8,981.2 L226.8,981.0 L227.8,980.8 L228.8,980.6 L229.7,980.4 L230.7,980.2 L231.7,980.0 L232.7,979.8 L233.7,979.6 L234.7,979.4 L235.6,979.1 L236.6,978.9 L237.6,978.6 L238.5,978.4 L239.5,978.1 L240.4,977.9 L241.4,977.6 L242.4,977.3 L243.3,977.0 L244.3,976.7 L245.3,976.4 L246.2,976.0 L247.2,975.7 L248.1,975.3 L249.1,974.9 L250.0,974.5 L250.9,974.1 L251.8,973.7 L252.7,973.2 L253.6,972.8 L254.4,972.3 L255.2,971.8 L256.0,971.3 L256.8,970.7 L257.6,970.1 L258.3,969.5 L259.1,968.8 L259.8,968.1 L260.5,967.4 L261.3,966.6 L262.0,965.9 L262.6,965.1 L263.3,964.4 L264.0,963.6 L264.6,962.8 L265.3,962.1 L265.9,961.3 L266.6,960.5 L267.2,959.8 L267.8,959.0 L268.4,958.2 L269.0,957.3 L269.6,956.5 L270.1,955.7 L270.7,954.8 L271.2,954.0 L271.7,953.1 L272.2,952.3 L272.7,951.4 L273.2,950.5 L273.6,949.7 L274.1,948.8 L274.5,947.9 L274.9,946.9 L275.4,946.0 L275.8,945.1 L276.2,944.2 L276.5,943.3 L276.9,942.3 L277.3,941.4 L277.6,940.4 L277.9,939.5 L278.3,938.6 L278.6,937.6 L278.9,936.7 L279.2,935.7 L279.4,934.7 L279.7,933.8 L279.9,932.8 L280.2,931.8 L280.4,930.9 L280.7,929.9 L280.9,928.9 L281.2,928.0 L281.5,927.0 L281.7,926.0 L282.0,925.1 L282.3,924.1 L282.6,923.2 L282.9,922.2 L283.2,921.3 L283.5,920.3 L283.8,919.4 L284.1,918.4 L284.5,917.5 L284.8,916.5 L285.1,915.5 L285.4,914.6 L285.7,913.6 L286.0,912.7 L286.3,911.7 L286.6,910.8 L286.8,909.8 L287.1,908.8 L287.4,907.9 L287.6,906.9 L287.9,906.0 L288.1,905.0 L288.4,904.0 L288.7,903.1 L288.9,902.1 L289.2,901.1 L289.5,900.2 L289.7,899.2 L290.0,898.2 L290.3,897.3 L290.5,896.3 L290.8,895.3 L291.1,894.3 L291.3,893.3 L291.6,892.4 L291.9,891.4 L292.1,890.4 L292.4,889.5 L292.8,888.5 L293.1,887.6 L293.4,886.7 L293.8,885.8 L294.2,884.9 L294.7,884.0 L295.2,883.1 L295.8,882.3 L296.4,881.5 L297.0,880.7 L297.7,880.0 L298.5,879.3 L299.3,878.7 L300.1,878.1 L301.0,877.6 L301.9,877.4 L302.8,877.4 L303.7,877.6 L304.6,878.1 L305.5,878.7 L306.2,879.3 L306.9,880.0 L307.5,880.8 L308.1,881.6 L308.7,882.4 L309.2,883.3 L309.7,884.2 L310.1,885.1 L310.5,886.0 L310.9,886.9 L311.3,887.9 L311.7,888.8 L312.0,889.7 L312.4,890.7 L312.7,891.6 L313.0,892.6 L313.3,893.5 L313.6,894.5 L313.9,895.5 L314.2,896.4 L314.5,897.4 L314.8,898.3 L315.1,899.3 L315.4,900.2 L315.6,901.2 L315.9,902.2 L316.2,903.1 L316.4,904.1 L316.7,905.1 L316.9,906.1 L317.2,907.0 L317.4,908.0 L317.7,909.0 L317.9,909.9 L318.2,910.9 L318.5,911.8 L318.7,912.8 L319.0,913.8 L319.3,914.7 L319.6,915.7 L319.9,916.6 L320.3,917.6 L320.6,918.5 L320.9,919.5 L321.2,920.4 L321.5,921.4 L321.8,922.3 L322.1,923.3 L322.4,924.2 L322.7,925.2 L323.0,926.1 L323.3,927.1 L323.6,928.1 L323.9,929.0 L324.1,930.0 L324.4,931.0 L324.7,931.9 L324.9,932.9 L325.2,933.9 L325.5,934.8 L325.8,935.8 L326.1,936.7 L326.4,937.7 L326.7,938.6 L327.1,939.5 L327.4,940.5 L327.8,941.4 L328.2,942.3 L328.6,943.2 L329.0,944.1 L329.4,945.1 L329.9,946.0 L330.3,946.9 L330.8,947.8 L331.2,948.7 L331.7,949.5 L332.2,950.4 L332.7,951.3 L333.2,952.1 L333.7,953.0 L334.2,953.8 L334.8,954.7 L335.3,955.5 L335.9,956.4 L336.5,957.2 L337.1,958.0 L337.7,958.8 L338.3,959.6 L338.9,960.4 L339.6,961.1 L340.2,961.9 L340.9,962.6 L341.6,963.3 L342.3,964.0 L343.0,964.8 L343.7,965.5 L344.4,966.2 L345.2,966.8 L345.9,967.5 L346.7,968.2 L347.5,968.8 L348.2,969.5 L349.0,970.1 L349.8,970.7 L350.7,971.3 L351.5,971.8 L352.3,972.4 L353.1,972.9 L354.0,973.4 L354.8,973.9 L355.7,974.4 L356.6,974.9 L357.5,975.3 L358.4,975.8 L359.3,976.2 L360.2,976.7 L361.1,977.1 L362.1,977.5 L363.0,977.9 L363.9,978.3 L364.9,978.6 L365.8,978.9 L366.7,979.3 L367.7,979.5 L368.6,979.8 L369.6,980.1 L370.5,980.4 L371.5,980.7 L372.5,980.9 L373.4,981.2 L374.4,981.4 L375.4,981.7 L376.4,981.9 L377.3,982.2 L378.3,982.4 L379.3,982.6 L380.3,982.8 L381.3,983.0 L382.3,983.1 L383.3,983.3 L384.3,983.4 L385.3,983.5 L386.3,983.6 L387.2,983.7 L388.2,983.8 L389.2,983.9 L390.2,983.9 L391.2,984.0 L392.2,984.0 L393.2,984.1 L394.2,984.1 L395.2,984.2 L396.2,984.2 L397.2,984.2 L398.2,984.3 L399.2,984.3 L400.2,984.3 L401.2,984.4 L402.2,984.4 L403.2,984.4 L404.2,984.4 L405.2,984.5 L406.2,984.5 L407.2,984.5 L408.2,984.5 L409.2,984.6 L410.2,984.6 L411.2,984.6 L412.2,984.7 L413.2,984.7 L414.2,984.7 L415.2,984.8 L416.2,984.8 L417.2,984.9 L418.2,984.9 L419.2,985.0 L420.2,985.0 L421.2,985.1 L422.2,985.1 L423.2,985.2 L424.2,985.3 L425.2,985.4 L426.2,985.5 L427.2,985.6 L428.2,985.7 L429.2,985.8 L430.2,985.9 L431.2,986.0 L432.2,986.1 L433.2,986.3 L434.2,986.4 L435.1,986.5 L436.1,986.6 L437.1,986.7 L438.1,986.9 L439.1,987.0 L440.1,987.1 L441.1,987.2 L442.1,987.3 L443.1,987.4 L444.1,987.5 L445.1,987.6 L446.1,987.7 L447.1,987.8 L448.1,987.9 L449.1,987.9 L450.1,988.0 L451.1,988.1 L452.1,988.1 L453.1,988.2 L454.1,988.2 L455.1,988.3 L456.1,988.4 L457.1,988.4 L458.1,988.5 L459.0,988.5 L460.0,988.6 L461.0,988.6 L462.0,988.7 L463.0,988.8 L464.0,988.8 L465.0,988.9 L466.0,988.9 L467.0,989.0 L468.0,989.0 L469.0,989.1 L470.0,989.1 L471.0,989.2 L472.0,989.2 L473.0,989.3 L474.0,989.3 L475.0,989.4 L476.0,989.4 L477.0,989.5 L478.0,989.5 L479.0,989.5 L480.0,989.6 L481.0,989.6 L482.0,989.7 L483.0,989.7 L484.0,989.7 L485.0,989.8 L486.0,989.8 L487.0,989.8 L488.0,989.8 L489.0,989.9 L490.0,989.9 L491.0,989.9 L492.0,989.9 L493.0,989.9 L494.0,990.0 L495.0,990.0 L496.0,990.0 L497.0,990.0 L498.0,990.0 L499.0,990.0 L500.0,990.0 L501.0,990.0 L502.0,990.0 L503.0,990.0 L504.0,990.0 L505.0,990.0 L506.0,990.0 L507.0,990.0 L508.0,990.0 L509.0,990.0 L510.0,990.0 L511.0,990.0 L512.0,990.0 L513.0,990.0 L514.0,990.0 L515.0,990.0 L516.0,990.0 L517.0,990.0 L518.0,990.0 L519.0,990.0 L520.0,990.0 L521.0,990.0 L522.0,990.0 L523.0,990.0 L524.0,989.9 L525.0,989.9 L526.0,989.9 L527.0,989.9 L528.0,989.9 L529.0,989.9 L530.0,989.9 L531.0,989.9 L532.0,989.9 L533.0,989.9 L534.0,989.9 L535.0,989.9 L536.0,989.9 L537.0,989.9 L538.0,989.9 L539.0,989.9 L540.0,989.9 L541.0,989.9 L542.0,989.9 L543.0,989.9 L544.0,989.8 L545.0,989.8 L546.0,989.8 L547.0,989.8 L548.0,989.8 L549.0,989.8 L550.0,989.8 L551.0,989.8 L552.0,989.8 L553.0,989.8 L554.0,989.8 L555.0,989.8 L556.0,989.8 L557.0,989.8 L558.0,989.8 L559.0,989.8 L560.0,989.8 L561.0,989.7 L562.0,989.7 L563.0,989.7 L564.0,989.7 L565.0,989.7 L566.0,989.7 L567.0,989.7 L568.0,989.7 L569.0,989.7 L570.0,989.7 L571.0,989.7 L572.0,989.7 L573.0,989.7 L574.0,989.7 L575.0,989.7 L576.0,989.7 L577.0,989.7 L578.0,989.7 L579.0,989.6 L580.0,989.6 L581.0,989.6 L582.0,989.6 L583.0,989.6 L584.0,989.6 L585.0,989.6 L586.0,989.6 L587.0,989.6 L588.0,989.6 L589.0,989.6 L590.0,989.6 L591.0,989.6 L592.0,989.6 L593.0,989.6 L594.0,989.6 L595.0,989.6 L596.0,989.6 L597.0,989.6 L598.0,989.6 L599.0,989.6 L600.0,989.6 L601.0,989.6 L602.0,989.6 L603.0,989.6 L604.0,989.6 L605.0,989.6 L606.0,989.5 L607.0,989.5 L608.0,989.5 L609.0,989.5 L610.0,989.5 L611.0,989.5 L612.0,989.5 L613.0,989.5 L614.0,989.5 L615.0,989.5 L616.0,989.5 L617.0,989.5 L618.0,989.5 L619.0,989.5 L620.0,989.5 L621.0,989.5 L622.0,989.5 L623.0,989.5 L624.0,989.5 L625.0,989.5 L626.0,989.5 L627.0,989.5 L628.0,989.5 L629.0,989.5 L630.0,989.5 L631.0,989.5 L632.0,989.5 L633.0,989.5 L634.0,989.5 L635.0,989.5 L636.0,989.5 L637.0,989.5 L638.0,989.5 L639.0,989.5 L640.0,989.5 L641.0,989.5 L642.0,989.5 L643.0,989.5 L644.0,989.5 L645.0,989.5 L646.0,989.5 L647.0,989.5 L648.0,989.5 L649.0,989.4 L650.0,989.4 L651.0,989.4 L652.0,989.4 L653.0,989.4 L654.0,989.4 L655.0,989.4 L656.0,989.4 L657.0,989.4 L658.0,989.4 L659.0,989.4 L660.0,989.4 L661.0,989.4 L662.0,989.4 L663.0,989.4 L664.0,989.4 L665.0,989.4 L666.0,989.4 L667.0,989.4 L668.0,989.4 L669.0,989.4 L670.0,989.4 L671.0,989.4 L672.0,989.4 L673.0,989.4 L674.0,989.4 L675.0,989.4 L676.0,989.4 L677.0,989.4 L678.0,989.4 L679.0,989.4 L680.0,989.4 L681.0,989.4 L682.0,989.4 L683.0,989.4 L684.0,989.4 L685.0,989.3 L686.0,989.3 L687.0,989.3 L688.0,989.3 L689.0,989.3 L690.0,989.3 L691.0,989.3 L692.0,989.3 L693.0,989.3 L694.0,989.3 L695.0,989.3 L696.0,989.3 L697.0,989.3 L698.0,989.3 L699.0,989.3 L700.0,989.3 L701.0,989.3 L702.0,989.3 L703.0,989.3 L704.0,989.3 L705.0,989.3 L706.0,989.3 L707.0,989.3 L708.0,989.2 L709.0,989.2 L710.0,989.2 L711.0,989.2 L712.0,989.2 L713.0,989.2 L714.0,989.2 L715.0,989.2 L716.0,989.2 L717.0,989.2 L718.0,989.2 L719.0,989.2 L720.0,989.2 L721.0,989.2 L722.0,989.2 L723.0,989.1 L724.0,989.1 L725.0,989.1 L726.0,989.1 L727.0,989.1 L728.0,989.1 L729.0,989.1 L730.0,989.1 L731.0,989.1 L732.0,989.1 L733.0,989.0 L734.0,989.0 L735.0,989.0 L736.0,989.0 L737.0,989.0 L738.0,989.0 L739.0,989.0 L740.0,989.0 L741.0,988.9 L742.0,988.9 L743.0,988.9 L744.0,988.9 L745.0,988.9 L746.0,988.9 L747.0,988.9 L748.0,988.8 L749.0,988.8 L750.0,988.8 L751.0,988.8 L752.0,988.8 L753.0,988.8 L754.0,988.7 L755.0,988.7 L756.0,988.7 L757.0,988.7 L758.0,988.7 L759.0,988.6 L760.0,988.6 L761.0,988.6 L762.0,988.6 L763.0,988.6 L764.0,988.5 L765.0,988.5 L766.0,988.5 L767.0,988.5 L768.0,988.4 L769.0,988.4 L770.0,988.4 L771.0,988.4 L772.0,988.4 L773.0,988.3 L774.0,988.3 L775.0,988.3 L776.0,988.3 L777.0,988.2 L778.0,988.2 L779.0,988.2 L780.0,988.1 L781.0,988.1 L782.0,988.1 L783.0,988.1 L784.0,988.0 L785.0,988.0 L786.0,988.0 L787.0,987.9 L788.0,987.9 L789.0,987.8 L790.0,987.8 L791.0,987.7 L792.0,987.6 L793.0,987.6 L794.0,987.5 L795.0,987.4 L796.0,987.4 L797.0,987.3 L798.0,987.2 L799.0,987.1 L800.0,987.0 L801.0,986.9 L802.0,986.8 L803.0,986.7 L804.0,986.6 L805.0,986.5 L806.0,986.4 L807.0,986.3 L807.9,986.2 L808.9,986.1 L809.9,986.0 L810.9,985.9 L811.9,985.8 L812.9,985.7 L813.9,985.6 L814.9,985.5 L815.9,985.4 L816.9,985.3 L817.9,985.2 L818.9,985.1 L819.9,985.0 L820.9,984.8 L821.9,984.7 L822.9,984.6 L823.9,984.5 L824.9,984.3 L825.8,984.2 L826.8,984.1 L827.8,984.0 L828.8,983.8 L829.8,983.7 L830.8,983.6 L831.8,983.5 L832.8,983.4 L833.8,983.3 L834.8,983.3 L835.8,983.2 L836.8,983.1 L837.8,983.0 L838.8,983.0 L839.8,982.9 L840.8,982.8 L841.8,982.8 L842.8,982.7 L843.8,982.6 L844.8,982.6 L845.8,982.6 L846.8,982.5 L847.8,982.5 L848.8,982.5 L849.8,982.5 L850.8,982.5 L851.8,982.6 L852.8,982.6 L853.8,982.7 L854.8,982.8 L855.8,982.8 L856.8,982.9 L857.7,983.0 L858.7,983.1 L859.7,983.2 L860.7,983.3 L861.7,983.4 L862.7,983.5 L863.7,983.6 L864.7,983.7 L865.7,983.8 L866.7,983.9 L867.7,984.0 L868.7,984.2 L869.7,984.3 L870.7,984.4 L871.7,984.5 L872.7,984.7 L873.7,984.8 L874.6,985.0 L875.6,985.1 L876.6,985.3 L877.6,985.4 L878.6,985.6 L879.6,985.7 L880.6,985.9 L881.6,986.0 L882.6,986.1 L883.6,986.3 L884.5,986.4 L885.5,986.5 L886.5,986.6 L887.5,986.8 L888.5,986.9 L889.5,987.0 L890.5,987.0 L891.5,987.1 L892.5,987.2 L893.5,987.3 L894.5,987.4 L895.5,987.5 L896.5,987.6 L897.5,987.7 L898.5,987.8 L899.5,987.8 L900.5,987.9 L901.5,988.0 L902.5,988.1 L903.5,988.1 L904.5,988.2 L905.5,988.3 L906.5,988.3 L907.5,988.4 L908.5,988.4 L909.5,988.4 L910.5,988.5 L911.5,988.5 L912.5,988.5 L913.5,988.5 L914.5,988.5 L915.5,988.5 L916.5,988.5 L917.5,988.5 L918.5,988.5 L919.5,988.5 L920.5,988.5 L921.5,988.5 L922.5,988.5 L923.4,988.6 L924.4,988.6 L925.4,988.6 L926.4,988.6 L927.4,988.6 L928.4,988.6 L929.4,988.6 L930.4,988.6 L931.4,988.6 L932.4,988.6 L933.4,988.6 L934.4,988.6 L935.4,988.6 L936.4,988.6 L937.4,988.6 L938.4,988.6 L939.4,988.6 L940.4,988.6 L941.4,988.6 L942.4,988.6 L943.4,988.6 L944.5,988.6 L945.5,988.6 L946.5,988.6 L947.5,988.6 L948.5,988.6 L949.5,988.6 L950.5,988.7 L951.5,988.7 L952.5,988.7 L953.5,988.7 L954.5,988.7 L955.5,988.7 L956.5,988.7 L957.5,988.7 L958.5,988.7 L959.5,988.7 L960.5,988.7 L961.5,988.7 L962.5,988.7 L963.5,988.7 L964.5,988.7 L965.5,988.7 L966.5,988.7 L967.5,988.7 L968.5,988.7 L969.5,988.7 L970.5,988.7 L971.5,988.7 L972.5,988.7 L973.5,988.7 L974.5,988.7 L975.5,988.7 L976.5,988.7 L977.5,988.7 L978.5,988.7 L979.5,988.7 L980.5,988.7 L981.5,988.7 L982.5,988.7 L983.5,988.7 L984.5,988.7 L985.5,988.7 L986.5,988.7 L987.5,988.7 L988.5,988.7 L989.5,988.7 L990.5,988.7 L991.5,988.7 L992.5,988.7 L993.5,988.7 L994.5,988.7 L995.5,988.7 L996.5,988.7 L997.5,988.7 L998.5,988.7 L999.5,988.7 L1000.5,988.7 L1001.5,988.7 L1002.5,988.7 L1003.5,988.7 L1004.5,988.7 L1005.5,988.7 L1006.5,988.7 L1007.5,988.7 L1008.5,988.7 L1009.5,988.7 L1010.5,988.7 L1011.5,988.7 L1012.5,988.7 L1013.5,988.7 L1014.5,988.7 L1015.5,988.7 L1016.5,988.7 L1017.5,988.7 L1018.5,988.7 L1019.5,988.7 L1020.5,988.7 L1021.5,988.7 L1022.5,988.7 L1023.5,988.7 L1024.5,988.7 L1025.5,988.7 L1026.5,988.7 L1027.5,988.7 L1028.5,988.7 L1029.5,988.7 L1030.5,988.7 L1031.5,988.7 L1032.5,988.7 L1033.5,988.7 L1034.4,988.7 L1035.4,988.6 L1036.4,988.6 L1037.4,988.5 L1038.4,988.4 L1039.4,988.4 L1040.4,988.3 L1041.4,988.2 L1042.4,988.1 L1043.4,988.0 L1044.4,987.9 L1045.4,987.8 L1046.4,987.7 L1047.4,987.6 L1048.4,987.5 L1049.4,987.4 L1050.4,987.3 L1051.4,987.2 L1052.4,987.1 L1053.4,987.0 L1054.4,986.8 L1055.4,986.7 L1056.4,986.6 L1057.4,986.5 L1058.4,986.4 L1059.4,986.3 L1060.4,986.2 L1061.3,986.1 L1062.3,986.0 L1063.3,985.9 L1064.3,985.8 L1065.3,985.6 L1066.3,985.5 L1067.3,985.4 L1068.3,985.3 L1069.3,985.1 L1070.3,985.0 L1071.3,984.9 L1072.3,984.7 L1073.3,984.6 L1074.3,984.5 L1075.2,984.3 L1076.2,984.2 L1077.2,984.1 L1078.2,983.9 L1079.2,983.8 L1080.2,983.7 L1081.2,983.6 L1082.2,983.5 L1083.2,983.4 L1084.2,983.3 L1085.2,983.2 L1086.2,983.1 L1087.2,983.0 L1088.2,983.0 L1089.2,982.9 L1090.2,982.8 L1091.2,982.7 L1092.2,982.7 L1093.2,982.6 L1094.1,982.5 L1095.1,982.5 L1096.1,982.4 L1097.1,982.4 L1098.1,982.3 L1099.1,982.2 L1100.1,982.2 L1101.1,982.1 L1102.1,982.1 L1103.1,982.1 L1104.1,982.0 L1105.1,982.0 L1106.1,982.0 L1107.1,982.0 L1108.1,982.0 L1109.1,982.0 L1110.1,982.0 L1111.1,982.1 L1112.1,982.1 L1113.1,982.2 L1114.1,982.2 L1115.1,982.3 L1116.1,982.3 L1117.1,982.4 L1118.1,982.5 L1119.1,982.6 L1120.1,982.6 L1121.1,982.7 L1122.1,982.8 L1123.1,982.9 L1124.1,983.0 L1125.1,983.1 L1126.1,983.2 L1127.1,983.3 L1128.1,983.3 L1129.1,983.4 L1130.1,983.5 L1131.1,983.6 L1132.1,983.7 L1133.1,983.8 L1134.1,983.9 L1135.1,984.0 L1136.1,984.1 L1137.1,984.2 L1138.1,984.3 L1139.0,984.4 L1140.0,984.5 L1141.0,984.6 L1142.0,984.7 L1143.0,984.8 L1144.0,985.0 L1145.0,985.1 L1146.0,985.2 L1147.0,985.3 L1148.0,985.4 L1149.0,985.5 L1150.0,985.6 L1151.0,985.7 L1152.0,985.8 L1153.0,985.9 L1154.0,986.0 L1155.0,986.1 L1156.0,986.2 L1157.0,986.3 L1157.9,986.4 L1158.9,986.4 L1159.9,986.5 L1160.9,986.6 L1161.9,986.6 L1162.9,986.7 L1163.9,986.7 L1164.9,986.8 L1165.9,986.9 L1166.9,986.9 L1167.9,987.0 L1168.9,987.0 L1169.9,987.1 L1170.9,987.1 L1171.9,987.2 L1172.9,987.2 L1173.9,987.3 L1174.9,987.3 L1175.9,987.4 L1176.9,987.4 L1177.9,987.5 L1178.9,987.5 L1179.9,987.6 L1180.9,987.6 L1181.9,987.6 L1182.9,987.6 L1183.9,987.7 L1184.9,987.7 L1185.9,987.7 L1186.9,987.7 L1187.9,987.7 L1188.9,987.7 L1189.9,987.7 L1190.9,987.7 L1191.9,987.7 L1192.9,987.7 L1193.9,987.7 L1194.9,987.7 L1195.9,987.8 L1196.9,987.8 L1197.9,987.8 L1198.9,987.8 L1199.9,987.8 L1200.9,987.8 L1201.9,987.8 L1202.9,987.8 L1203.9,987.8 L1204.9,987.8 L1205.9,987.8 L1206.9,987.8 L1207.9,987.8 L1208.9,987.8 L1209.9,987.8 L1210.9,987.8 L1211.9,987.8 L1212.9,987.8 L1213.9,987.8 L1214.9,987.8 L1215.9,987.8 L1216.9,987.8 L1217.9,987.8 L1218.9,987.8 L1219.9,987.8 L1220.9,987.8 L1221.9,987.8 L1222.9,987.8 L1223.9,987.8 L1224.9,987.8 L1225.9,987.8 L1226.9,987.8 L1227.9,987.8 L1228.9,987.8 L1229.9,987.8 L1230.9,987.8 L1231.9,987.8 L1232.9,987.8 L1233.9,987.8 L1234.9,987.8 L1235.9,987.8 L1236.9,987.8 L1237.9,987.8 L1238.9,987.8 L1239.9,987.8 L1240.9,987.8 L1241.9,987.8 L1242.9,987.8 L1243.9,987.8 L1244.9,987.8 L1245.9,987.8 L1246.9,987.8 L1247.9,987.8 L1248.9,987.8 L1249.9,987.8 L1250.9,987.8 L1251.9,987.8 L1252.9,987.8 L1253.9,987.8 L1254.9,987.8 L1255.9,987.8 L1256.9,987.8 L1257.9,987.7 L1258.9,987.7 L1259.9,987.7 L1260.9,987.7 L1261.9,987.7 L1262.9,987.7 L1263.9,987.7 L1264.9,987.7 L1265.9,987.7 L1266.9,987.7 L1267.9,987.7 L1268.9,987.7 L1269.9,987.7 L1270.9,987.6 L1271.9,987.6 L1272.9,987.6 L1273.9,987.6 L1274.9,987.5 L1275.9,987.5 L1276.9,987.5 L1277.9,987.4 L1278.9,987.4 L1279.9,987.3 L1280.9,987.3 L1281.9,987.2 L1282.9,987.2 L1283.9,987.2 L1284.9,987.1 L1285.9,987.1 L1286.9,987.0 L1287.9,986.9 L1288.9,986.9 L1289.9,986.8 L1290.9,986.8 L1291.9,986.7 L1292.9,986.7 L1293.9,986.6 L1294.9,986.6 L1295.9,986.5 L1296.9,986.4 L1297.9,986.4 L1298.9,986.3 L1299.9,986.3 L1300.9,986.2 L1301.9,986.1 L1302.9,986.1 L1303.9,986.0 L1304.9,985.9 L1305.9,985.8 L1306.9,985.7 L1307.9,985.6 L1308.9,985.5 L1309.8,985.5 L1310.8,985.4 L1311.8,985.2 L1312.8,985.1 L1313.8,985.0 L1314.8,984.9 L1315.8,984.8 L1316.8,984.7 L1317.8,984.6 L1318.8,984.5 L1319.8,984.3 L1320.8,984.2 L1321.8,984.1 L1322.8,984.0 L1323.8,983.8 L1324.8,983.7 L1325.7,983.6 L1326.7,983.4 L1327.7,983.3 L1328.7,983.2 L1329.7,983.0 L1330.7,982.9 L1331.7,982.8 L1332.7,982.6 L1333.7,982.5 L1334.7,982.3 L1335.6,982.1 L1336.6,982.0 L1337.6,981.8 L1338.6,981.6 L1339.6,981.4 L1340.6,981.2 L1341.5,981.1 L1342.5,980.9 L1343.5,980.7 L1344.5,980.5 L1345.5,980.3 L1346.5,980.2 L1347.5,980.0 L1348.4,979.8 L1349.4,979.6 L1350.4,979.5 L1351.4,979.3 L1352.4,979.1 L1353.4,979.0 L1354.4,978.8 L1355.3,978.7 L1356.3,978.6 L1357.3,978.4 L1358.3,978.3 L1359.3,978.1 L1360.3,978.0 L1361.3,977.8 L1362.3,977.6 L1363.3,977.5 L1364.3,977.3 L1365.3,977.2 L1366.3,977.1 L1367.3,976.9 L1368.3,976.8 L1369.2,976.7 L1370.2,976.6 L1371.2,976.5 L1372.2,976.4 L1373.2,976.4 L1374.2,976.3 L1375.2,976.3 L1376.2,976.3 L1377.2,976.3 L1378.2,976.3 L1379.2,976.3 L1380.2,976.4 L1381.2,976.5 L1382.2,976.6 L1383.2,976.7 L1384.2,976.8 L1385.2,976.9 L1386.2,977.1 L1387.1,977.2 L1388.1,977.4 L1389.1,977.5 L1390.1,977.7 L1391.1,977.9 L1392.1,978.0 L1393.1,978.2 L1394.1,978.3 L1395.1,978.5 L1396.1,978.6 L1397.0,978.8 L1398.0,979.0 L1399.0,979.2 L1400.0,979.4 L1401.0,979.6 L1401.9,979.8 L1402.9,980.0 L1403.9,980.2 L1404.9,980.4 L1405.9,980.7 L1406.8,980.9 L1407.8,981.1 L1408.8,981.3 L1409.8,981.5 L1410.8,981.7 L1411.7,981.8 L1412.7,982.0 L1413.7,982.2 L1414.7,982.3 L1415.7,982.4 L1416.7,982.6 L1417.7,982.7 L1418.7,982.9 L1419.6,983.0 L1420.6,983.1 L1421.6,983.3 L1422.6,983.4 L1423.6,983.5 L1424.6,983.6 L1425.6,983.8 L1426.6,983.9 L1427.6,984.0 L1428.6,984.1 L1429.6,984.2 L1430.6,984.4 L1431.6,984.5 L1432.6,984.6 L1433.6,984.7 L1434.6,984.8 L1435.5,984.9 L1436.5,985.0 L1437.5,985.1 L1438.5,985.2 L1439.5,985.2 L1440.5,985.3 L1441.5,985.4 L1442.5,985.5 L1443.5,985.6 L1444.5,985.6 L1445.5,985.7 L1446.5,985.8 L1447.5,985.8 L1448.5,985.9 L1449.5,986.0 L1450.5,986.0 L1451.5,986.1 L1452.5,986.2 L1453.5,986.2 L1454.5,986.3 L1455.5,986.3 L1456.5,986.4 L1457.5,986.4 L1458.5,986.5 L1459.5,986.6 L1460.5,986.6 L1461.5,986.7 L1462.5,986.7 L1463.5,986.8 L1464.5,986.8 L1465.5,986.9 L1466.5,986.9 L1467.5,986.9 L1468.5,987.0 L1469.5,987.0 L1470.5,987.1 L1471.5,987.1 L1472.5,987.2 L1473.5,987.2 L1474.5,987.2 L1475.5,987.3 L1476.5,987.3 L1477.5,987.4 L1478.5,987.4 L1479.5,987.4 L1480.5,987.5 L1481.5,987.5 L1482.5,987.6 L1483.5,987.6 L1484.5,987.6 L1485.5,987.7 L1486.5,987.7 L1487.5,987.7 L1488.5,987.8 L1489.5,987.8 L1490.5,987.8 L1491.5,987.9 L1492.5,987.9 L1493.5,987.9 L1494.5,988.0 L1495.5,988.0 L1496.5,988.0 L1497.5,988.0 L1498.5,988.1 L1499.5,988.1 L1500.5,988.1 L1501.5,988.2 L1502.5,988.2 L1503.5,988.2 L1504.5,988.2 L1505.5,988.3 L1506.5,988.3 L1507.5,988.3 L1508.5,988.3 L1509.5,988.4 L1510.5,988.4 L1511.5,988.4 L1512.5,988.4 L1513.5,988.4 L1514.5,988.5 L1515.5,988.5 L1516.5,988.5 L1517.5,988.5 L1518.5,988.5 L1519.5,988.6 L1520.5,988.6 L1521.5,988.6 L1522.5,988.6 L1523.5,988.6 L1524.5,988.7 L1525.5,988.7 L1526.5,988.7 L1527.5,988.7 L1528.5,988.7 L1529.5,988.8 L1530.5,988.8 L1531.5,988.8 L1532.5,988.8 L1533.5,988.8 L1534.5,988.9 L1535.4,988.9 L1536.4,988.9 L1537.4,988.9 L1538.4,988.9 L1539.4,988.9 L1540.4,989.0 L1541.4,989.0 L1542.4,989.0 L1543.4,989.0 L1544.4,989.0 L1545.4,989.0 L1546.4,989.0 L1547.4,989.1 L1548.4,989.1 L1549.4,989.1 L1550.4,989.1 L1551.4,989.1 L1552.4,989.1 L1553.4,989.1 L1554.4,989.2 L1555.4,989.2 L1556.4,989.2 L1557.4,989.2 L1558.4,989.2 L1559.4,989.2 L1560.4,989.2 L1561.4,989.2 L1562.4,989.2 L1563.4,989.2 L1564.4,989.2 L1565.4,989.2 L1566.4,989.3 L1567.4,989.3 L1568.4,989.3 L1569.4,989.3 L1570.4,989.3 L1571.4,989.3 L1572.4,989.3 L1573.4,989.3 L1574.4,989.3 L1575.4,989.3 L1576.4,989.3 L1577.4,989.3 L1578.4,989.3 L1579.4,989.3 L1580.4,989.3 L1581.4,989.3 L1582.4,989.3 L1583.4,989.3 L1584.4,989.3 L1585.4,989.4 L1586.4,989.4 L1587.4,989.4 L1588.4,989.4 L1589.4,989.4 L1590.4,989.4 L1591.4,989.4 L1592.4,989.4 L1593.4,989.4 L1594.4,989.4 L1595.4,989.4 L1596.4,989.4 L1597.4,989.4 L1598.4,989.4 L1599.4,989.4 L1600.4,989.4 L1601.4,989.4 L1602.4,989.4 L1603.4,989.4 L1604.4,989.4 L1605.4,989.4 L1606.4,989.4 L1607.4,989.4 L1608.4,989.4 L1609.4,989.4 L1610.4,989.5 L1611.4,989.5 L1612.4,989.5 L1613.4,989.5 L1614.4,989.5 L1615.4,989.5 L1616.4,989.5 L1617.4,989.5 L1618.4,989.5 L1619.4,989.5 L1620.4,989.5 L1621.4,989.5 L1622.4,989.5 L1623.4,989.5 L1624.4,989.5 L1625.4,989.5 L1626.4,989.5 L1627.4,989.5 L1628.4,989.5 L1629.4,989.5 L1630.4,989.5 L1631.4,989.5 L1632.4,989.5 L1633.4,989.5 L1634.4,989.5 L1635.4,989.5 L1636.4,989.5 L1637.4,989.5 L1638.4,989.5 L1639.4,989.5 L1640.4,989.5 L1641.4,989.5 L1642.4,989.5 L1643.4,989.5 L1644.4,989.5 L1645.4,989.5 L1646.4,989.5 L1647.4,989.5 L1648.4,989.5 L1649.4,989.5 L1650.4,989.5 L1651.4,989.5 L1652.4,989.5 L1653.4,989.5 L1654.4,989.5 L1655.4,989.5 L1656.4,989.5 L1657.4,989.5 L1658.4,989.5 L1659.4,989.5 L1660.4,989.5 L1661.4,989.5 L1662.4,989.5 L1663.4,989.5 L1664.4,989.5 L1665.4,989.5 L1666.4,989.5 L1667.4,989.5 L1668.4,989.5 L1669.4,989.5 L1670.4,989.5 L1671.4,989.5 L1672.4,989.5 L1673.4,989.5 L1674.4,989.5 L1675.4,989.5 L1676.4,989.5 L1677.4,989.5 L1678.4,989.5 L1679.4,989.5 L1680.4,989.5 L1681.4,989.5 L1682.4,989.5 L1683.4,989.5 L1684.4,989.5 L1685.4,989.5 L1686.4,989.5 L1687.4,989.5 L1688.4,989.5 L1689.4,989.5 L1690.4,989.5 L1691.4,989.5 L1692.4,989.5 L1693.4,989.5 L1694.4,989.5 L1695.4,989.5 L1696.4,989.5 L1697.4,989.5 L1698.4,989.5 L1699.4,989.5 L1700.4,989.5 L1701.4,989.5 L1702.4,989.5 L1703.4,989.5 L1704.4,989.5 L1705.4,989.5 L1706.4,989.5 L1707.4,989.5 L1708.4,989.5 L1709.4,989.5 L1710.4,989.5 L1711.4,989.5 L1712.4,989.5 L1713.4,989.5 L1714.4,989.5 L1715.4,989.5 L1716.4,989.5 L1717.4,989.5 L1718.4,989.5 L1719.4,989.5 L1720.4,989.5 L1721.4,989.5 L1722.4,989.5 L1723.4,989.5 L1724.4,989.5 L1725.4,989.5 L1726.4,989.5 L1727.4,989.5 L1728.4,989.5 L1729.2,989.5 L1729.7,989.5" stroke="#ff8000"/>
<path d="M148.4,854.7 L149.1,854.6 L150.0,854.4 L150.9,854.2 L151.9,854.0 L152.9,853.8 L153.9,853.6 L154.8,853.4 L155.8,853.1 L156.8,852.9 L157.8,852.7 L158.8,852.5 L159.7,852.3 L160.7,852.1 L161.7,851.9 L162.7,851.7 L163.6,851.4 L164.6,851.2 L165.6,851.0 L166.6,850.8 L167.6,850.6 L168.5,850.3 L169.5,850.1 L170.5,849.9 L171.4,849.6 L172.4,849.4 L173.4,849.2 L174.4,848.9 L175.3,848.7 L176.3,848.4 L177.2,848.2 L178.2,847.9 L179.2,847.6 L180.1,847.3 L181.1,847.1 L182.1,846.8 L183.0,846.5 L184.0,846.2 L184.9,845.9 L185.9,845.6 L186.8,845.4 L187.8,845.1 L188.8,844.8 L189.7,844.5 L190.7,844.2 L191.6,843.9 L192.6,843.6 L193.5,843.3 L194.5,843.0 L195.4,842.7 L196.4,842.4 L197.4,842.1 L198.3,841.8 L199.3,841.5 L200.2,841.2 L201.2,840.9 L202.1,840.6 L203.1,840.3 L204.1,840.1 L205.1,839.8 L206.0,839.5 L207.0,839.3 L208.0,839.0 L209.0,838.7 L209.9,838.4 L210.9,838.2 L211.9,837.9 L212.8,837.6 L213.8,837.3 L214.7,837.0 L215.7,836.7 L216.6,836.3 L217.5,836.0 L218.4,835.6 L219.3,835.3 L220.2,834.9 L221.1,834.5 L222.0,834.0 L222.9,833.6 L223.8,833.1 L224.7,832.6 L225.5,832.1 L226.4,831.5 L227.3,831.0 L228.1,830.4 L229.0,829.8 L229.8,829.2 L230.6,828.6 L231.4,828.0 L232.2,827.4 L233.0,826.8 L233.7,826.1 L234.5,825.5 L235.2,824.8 L235.9,824.2 L236.6,823.5 L237.2,822.8 L237.9,822.1 L238.6,821.3 L239.3,820.6 L239.9,819.8 L240.6,819.1 L241.2,818.3 L241.9,817.5 L242.5,816.7 L243.1,815.9 L243.7,815.0 L244.3,814.2 L244.9,813.4 L245.5,812.5 L246.0,811.7 L246.6,810.8 L247.1,810.0 L247.7,809.1 L248.2,808.2 L248.7,807.4 L249.2,806.5 L249.6,805.6 L250.1,804.8 L250.6,803.9 L251.0,803.0 L251.5,802.2 L251.9,801.3 L252.3,800.4 L252.7,799.5 L253.1,798.6 L253.5,797.7 L253.9,796.7 L254.3,795.8 L254.7,794.9 L255.1,793.9 L255.5,793.0 L255.8,792.1 L256.2,791.1 L256.6,790.2 L256.9,789.2 L257.3,788.3 L257.6,787.3 L257.9,786.4 L258.2,785.4 L258.6,784.5 L258.9,783.5 L259.2,782.5 L259.5,781.6 L259.8,780.6 L260.1,779.7 L260.4,778.7 L260.7,777.8 L260.9,776.8 L261.2,775.9 L261.5,774.9 L261.8,774.0 L262.0,773.0 L262.3,772.0 L262.5,771.1 L262.8,770.1 L263.0,769.1 L263.3,768.1 L263.5,767.2 L263.8,766.2 L264.0,765.2 L264.2,764.2 L264.5,763.3 L264.7,762.3 L264.9,761.3 L265.1,760.3 L265.3,759.4 L265.5,758.4 L265.8,757.4 L266.0,756.4 L266.2,755.4 L266.4,754.5 L266.6,753.5 L266.7,752.5 L266.9,751.5 L267.1,750.5 L267.3,749.6 L267.5,748.6 L267.7,747.6 L267.8,746.6 L268.0,745.6 L268.2,744.6 L268.4,743.6 L268.5,742.7 L268.7,741.7 L268.8,740.7 L269.0,739.7 L269.2,738.7 L269.3,737.7 L269.5,736.7 L269.6,735.7 L269.8,734.8 L269.9,733.8 L270.1,732.8 L270.2,731.8 L270.4,730.8 L270.5,729.8 L270.7,728.8 L270.8,727.8 L271.0,726.8 L271.1,725.9 L271.2,724.9 L271.4,723.9 L271.5,722.9 L271.6,721.9 L271.8,720.9 L271.9,719.9 L272.0,718.9 L272.2,717.9 L272.3,716.9 L272.4,715.9 L272.6,714.9 L272.7,714.0 L272.8,713.0 L272.9,712.0 L273.0,711.0 L273.2,710.0 L273.3,709.0 L273.4,708.0 L273.5,707.0 L273.6,706.0 L273.7,705.0 L273.9,704.0 L274.0,703.0 L274.1,702.0 L274.2,701.0 L274.3,700.0 L274.4,699.1 L274.5,698.1 L274.6,697.1 L274.7,696.1 L274.8,695.1 L274.9,694.1 L275.0,693.1 L275.1,692.1 L275.2,691.1 L275.3,690.1 L275.4,689.1 L275.5,688.1 L275.6,687.1 L275.7,686.1 L275.8,685.1 L275.9,684.1 L275.9,683.1 L276.0,682.1 L276.1,681.1 L276.2,680.1 L276.3,679.1 L276.4,678.2 L276.5,677.2 L276.6,676.2 L276.7,675.2 L276.8,674.2 L276.9,673.2 L277.0,672.2 L277.1,671.2 L277.2,670.2 L277.3,669.2 L277.4,668.2 L277.5,667.2 L277.6,666.2 L277.7,665.2 L277.8,664.2 L277.9,663.2 L278.0,662.2 L278.1,661.2 L278.2,660.2 L278.2,659.2 L278.3,658.2 L278.4,657.2 L278.5,656.2 L278.6,655.3 L278.7,654.3 L278.7,653.3 L278.8,652.3 L278.9,651.3 L278.9,650.3 L279.0,649.3 L279.1,648.3 L279.1,647.3 L279.2,646.3 L279.3,645.3 L279.3,644.3 L279.4,643.3 L279.5,642.3 L279.5,641.3 L279.6,640.3 L279.6,639.3 L279.7,638.3 L279.8,637.3 L279.8,636.3 L279.9,635.3 L279.9,634.3 L280.0,633.3 L280.1,632.3 L280.1,631.3 L280.2,630.3 L280.3,629.3 L280.3,628.3 L280.4,627.3 L280.5,626.3 L280.5,625.3 L280.6,624.3 L280.7,623.3 L280.8,622.3 L280.8,621.3 L280.9,620.3 L281.0,619.3 L281.1,618.3 L281.2,617.3 L281.3,616.3 L281.3,615.3 L281.4,614.4 L281.5,613.4 L281.6,612.4 L281.7,611.4 L281.8,610.4 L281.9,609.4 L282.0,608.4 L282.1,607.4 L282.2,606.4 L282.3,605.4 L282.4,604.4 L282.5,603.4 L282.6,602.4 L282.7,601.4 L282.7,600.4 L282.8,599.4 L282.9,598.4 L283.0,597.4 L283.1,596.4 L283.2,595.4 L283.3,594.4 L283.4,593.4 L283.5,592.5 L283.6,591.5 L283.7,590.5 L283.8,589.5 L283.9,588.5 L284.0,587.5 L284.1,586.5 L284.2,585.5 L284.3,584.5 L284.4,583.5 L284.5,582.5 L284.6,581.5 L284.7,580.5 L284.8,579.5 L284.9,578.5 L285.0,577.5 L285.1,576.5 L285.2,575.5 L285.3,574.5 L285.4,573.5 L285.6,572.6 L285.7,571.6 L285.8,570.6 L285.9,569.6 L286.0,568.6 L286.1,567.6 L286.3,566.6 L286.5,565.6 L286.7,564.6 L286.9,563.7 L287.1,562.7 L287.3,561.7 L287.5,560.7 L287.7,559.7 L287.9,558.8 L288.0,557.8 L288.2,556.8 L288.3,555.8 L288.4,554.8 L288.5,553.8 L288.6,552.8 L288.7,551.8 L288.9,550.8 L289.0,549.8 L289.1,548.8 L289.3,547.9 L289.4,546.9 L289.6,545.9 L289.7,544.9 L289.9,543.9 L290.1,542.9 L290.2,541.9 L290.4,540.9 L290.6,540.0 L290.7,539.0 L290.9,538.0 L291.1,537.0 L291.3,536.0 L291.5,535.0 L291.7,534.1 L291.9,533.1 L292.2,532.1 L292.4,531.1 L292.6,530.2 L292.9,529.2 L293.1,528.2 L293.4,527.2 L293.7,526.3 L293.9,525.3 L294.3,524.4 L294.6,523.4 L295.0,522.5 L295.4,521.6 L295.9,520.7 L296.4,519.8 L297.0,519.0 L297.6,518.3 L298.4,517.6 L299.2,516.9 L300.0,516.4 L300.9,516.2 L301.8,516.2 L302.7,516.6 L303.5,517.1 L304.3,517.8 L304.9,518.6 L305.5,519.4 L305.9,520.3 L306.3,521.2 L306.7,522.2 L307.1,523.1 L307.4,524.1 L307.7,525.0 L308.0,526.0 L308.3,526.9 L308.5,527.9 L308.8,528.9 L309.1,529.8 L309.3,530.8 L309.6,531.8 L309.8,532.7 L310.1,533.7 L310.3,534.7 L310.6,535.7 L310.8,536.6 L311.0,537.6 L311.3,538.6 L311.5,539.5 L311.7,540.5 L311.9,541.5 L312.2,542.5 L312.4,543.4 L312.6,544.4 L312.8,545.4 L313.0,546.4 L313.2,547.4 L313.4,548.3 L313.6,549.3 L313.8,550.3 L313.9,551.3 L314.1,552.3 L314.2,553.3 L314.4,554.3 L314.5,555.2 L314.6,556.2 L314.8,557.2 L314.9,558.2 L315.1,559.2 L315.2,560.2 L315.4,561.2 L315.6,562.2 L315.7,563.2 L315.9,564.1 L316.1,565.1 L316.2,566.1 L316.4,567.1 L316.5,568.1 L316.7,569.1 L316.8,570.1 L317.0,571.1 L317.1,572.0 L317.2,573.0 L317.4,574.0 L317.5,575.0 L317.6,576.0 L317.8,577.0 L317.9,578.0 L318.1,579.0 L318.2,580.0 L318.3,581.0 L318.5,582.0 L318.6,582.9 L318.8,583.9 L318.9,584.9 L319.0,585.9 L319.2,586.9 L319.3,587.9 L319.5,588.9 L319.6,589.9 L319.8,590.9 L319.9,591.9 L320.0,592.8 L320.2,593.8 L320.3,594.8 L320.4,595.8 L320.6,596.8 L320.7,597.8 L320.8,598.8 L321.0,599.8 L321.1,600.8 L321.2,601.8 L321.3,602.8 L321.5,603.8 L321.6,604.7 L321.7,605.7 L321.8,606.7 L321.9,607.7 L322.0,608.7 L322.2,609.7 L322.3,610.7 L322.4,611.7 L322.5,612.7 L322.6,613.7 L322.7,614.7 L322.8,615.7 L322.9,616.7 L322.9,617.7 L323.0,618.7 L323.1,619.7 L323.2,620.7 L323.3,621.7 L323.4,622.7 L323.5,623.6 L323.5,624.6 L323.6,625.6 L323.7,626.6 L323.8,627.6 L323.8,628.6 L323.9,629.6 L324.0,630.6 L324.1,631.6 L324.1,632.6 L324.2,633.6 L324.3,634.6 L324.3,635.6 L324.4,636.6 L324.5,637.6 L324.5,638.6 L324.6,639.6 L324.7,640.6 L324.7,641.6 L324.8,642.6 L324.9,643.6 L324.9,644.6 L325.0,645.6 L325.1,646.6 L325.1,647.6 L325.2,648.6 L325.3,649.6 L325.4,650.6 L325.4,651.6 L325.5,652.6 L325.6,653.6 L325.7,654.6 L325.7,655.6 L325.8,656.6 L325.9,657.6 L326.0,658.6 L326.1,659.6 L326.2,660.6 L326.3,661.5 L326.3,662.5 L326.4,663.5 L326.5,664.5 L326.6,665.5 L326.7,666.5 L326.8,667.5 L326.9,668.5 L327.0,669.5 L327.1,670.5 L327.2,671.5 L327.3,672.5 L327.4,673.5 L327.5,674.5 L327.6,675.5 L327.7,676.5 L327.8,677.5 L327.9,678.5 L327.9,679.5 L328.0,680.5 L328.1,681.5 L328.2,682.5 L328.3,683.4 L328.4,684.4 L328.5,685.4 L328.6,686.4 L328.7,687.4 L328.8,688.4 L328.9,689.4 L329.0,690.4 L329.1,691.4 L329.2,692.4 L329.3,693.4 L329.4,694.4 L329.5,695.4 L329.6,696.4 L329.7,697.4 L329.8,698.4 L329.9,699.4 L330.0,700.4 L330.1,701.4 L330.2,702.4 L330.3,703.4 L330.4,704.3 L330.5,705.3 L330.7,706.3 L330.8,707.3 L330.9,708.3 L331.0,709.3 L331.1,710.3 L331.2,711.3 L331.4,712.3 L331.5,713.3 L331.6,714.3 L331.7,715.3 L331.9,716.3 L332.0,717.3 L332.1,718.2 L332.2,719.2 L332.4,720.2 L332.5,721.2 L332.6,722.2 L332.8,723.2 L332.9,724.2 L333.1,725.2 L333.2,726.2 L333.3,727.2 L333.5,728.2 L333.6,729.1 L333.8,730.1 L333.9,731.1 L334.1,732.1 L334.2,733.1 L334.4,734.1 L334.5,735.1 L334.7,736.1 L334.8,737.0 L335.0,738.0 L335.1,739.0 L335.3,740.0 L335.5,741.0 L335.6,742.0 L335.8,743.0 L336.0,744.0 L336.1,744.9 L336.3,745.9 L336.5,746.9 L336.7,747.9 L336.8,748.9 L337.0,749.9 L337.2,750.8 L337.4,751.8 L337.6,752.8 L337.8,753.8 L338.0,754.8 L338.2,755.8 L338.3,756.7 L338.5,757.7 L338.7,758.7 L338.9,759.7 L339.1,760.7 L339.4,761.6 L339.6,762.6 L339.8,763.6 L340.0,764.6 L340.2,765.6 L340.4,766.5 L340.6,767.5 L340.9,768.5 L341.1,769.5 L341.3,770.4 L341.6,771.4 L341.8,772.4 L342.0,773.3 L342.3,774.3 L342.5,775.3 L342.8,776.3 L343.0,777.2 L343.3,778.2 L343.5,779.2 L343.8,780.1 L344.0,781.1 L344.3,782.0 L344.6,783.0 L344.8,784.0 L345.1,784.9 L345.4,785.9 L345.7,786.9 L346.0,787.8 L346.3,788.8 L346.5,789.8 L346.8,790.7 L347.1,791.7 L347.4,792.7 L347.8,793.6 L348.1,794.6 L348.4,795.5 L348.7,796.5 L349.0,797.4 L349.4,798.3 L349.7,799.3 L350.1,800.2 L350.4,801.1 L350.8,802.1 L351.2,803.0 L351.5,803.9 L351.9,804.8 L352.3,805.7 L352.7,806.6 L353.1,807.5 L353.6,808.4 L354.0,809.3 L354.5,810.2 L354.9,811.1 L355.4,812.0 L355.9,812.9 L356.4,813.8 L356.9,814.7 L357.4,815.5 L357.9,816.4 L358.4,817.3 L359.0,818.1 L359.5,819.0 L360.1,819.8 L360.6,820.7 L361.2,821.5 L361.8,822.3 L362.3,823.1 L362.9,823.9 L363.5,824.7 L364.1,825.5 L364.7,826.2 L365.3,827.0 L366.0,827.8 L366.6,828.6 L367.3,829.3 L368.0,830.1 L368.6,830.9 L369.3,831.6 L370.1,832.3 L370.8,833.1 L371.5,833.8 L372.2,834.5 L373.0,835.2 L373.7,835.8 L374.5,836.5 L375.3,837.1 L376.0,837.7 L376.8,838.3 L377.6,838.8 L378.4,839.4 L379.3,839.9 L380.1,840.4 L381.0,841.0 L381.9,841.5 L382.8,842.0 L383.7,842.5 L384.6,842.9 L385.5,843.3 L386.4,843.8 L387.4,844.1 L388.3,844.5 L389.2,844.8 L390.2,845.0 L391.1,845.3 L392.1,845.5 L393.0,845.7 L394.0,845.9 L395.0,846.1 L396.0,846.3 L397.0,846.4 L398.0,846.6 L399.0,846.7 L400.0,846.9 L401.0,847.0 L402.0,847.1 L403.0,847.3 L404.0,847.4 L405.0,847.5 L406.0,847.6 L407.0,847.7 L408.0,847.8 L409.0,847.8 L410.0,847.9 L411.0,848.0 L412.0,848.0 L413.0,848.1 L414.0,848.2 L415.0,848.2 L416.0,848.3 L417.0,848.4 L418.0,848.5 L418.9,848.6 L419.9,848.8 L420.9,848.9 L421.8,849.2 L422.8,849.5 L423.7,849.8 L424.6,850.2 L425.5,850.6 L426.5,851.0 L427.4,851.4 L428.3,851.9 L429.2,852.3 L430.1,852.7 L431.1,853.2 L432.0,853.5 L432.9,853.9 L433.9,854.3 L434.8,854.6 L435.7,855.0 L436.7,855.3 L437.6,855.7 L438.6,856.0 L439.5,856.4 L440.5,856.7 L441.4,857.1 L442.4,857.4 L443.3,857.7 L444.3,858.0 L445.2,858.3 L446.2,858.6 L447.1,858.9 L448.1,859.1 L449.1,859.3 L450.0,859.5 L451.0,859.7 L452.0,859.8 L453.0,860.0 L453.9,860.2 L454.9,860.3 L455.9,860.5 L456.9,860.6 L457.9,860.7 L458.9,860.9 L459.9,861.0 L460.9,861.1 L461.9,861.3 L462.9,861.4 L463.9,861.5 L464.9,861.6 L465.9,861.7 L466.9,861.8 L467.9,861.9 L468.9,862.0 L469.9,862.1 L470.9,862.2 L471.9,862.2 L472.9,862.3 L473.9,862.4 L474.9,862.5 L475.9,862.6 L476.8,862.6 L477.8,862.7 L478.8,862.8 L479.8,862.9 L480.8,862.9 L481.8,863.0 L482.8,863.1 L483.8,863.2 L484.8,863.2 L485.8,863.3 L486.8,863.4 L487.8,863.4 L488.8,863.5 L489.8,863.6 L490.8,863.6 L491.8,863.7 L492.8,863.8 L493.8,863.8 L494.8,863.9 L495.8,863.9 L496.8,864.0 L497.8,864.1 L498.8,864.1 L499.8,864.2 L500.8,864.2 L501.8,864.2 L502.8,864.3 L503.8,864.3 L504.8,864.3 L505.8,864.4 L506.8,864.4 L507.8,864.4 L508.8,864.5 L509.8,864.5 L510.8,864.5 L511.8,864.5 L512.8,864.5 L513.8,864.5 L514.8,864.5 L515.8,864.5 L516.8,864.5 L517.8,864.5 L518.8,864.5 L519.8,864.5 L520.8,864.5 L521.8,864.5 L522.8,864.6 L523.8,864.6 L524.8,864.6 L525.8,864.6 L526.8,864.6 L527.8,864.6 L528.8,864.6 L529.8,864.6 L530.8,864.6 L531.8,864.6 L532.8,864.6 L533.8,864.6 L534.8,864.6 L535.8,864.6 L536.8,864.6 L537.8,864.6 L538.8,864.6 L539.8,864.6 L540.8,864.6 L541.8,864.6 L542.8,864.6 L543.8,864.6 L544.8,864.6 L545.8,864.6 L546.8,864.6 L547.8,864.6 L548.8,864.6 L549.8,864.6 L550.8,864.7 L551.8,864.7 L552.8,864.7 L553.8,864.7 L554.8,864.7 L555.8,864.7 L556.8,864.7 L557.8,864.7 L558.8,864.7 L559.8,864.7 L560.8,864.7 L561.8,864.7 L562.8,864.7 L563.8,864.7 L564.8,864.7 L565.8,864.7 L566.8,864.7 L567.8,864.7 L568.8,864.7 L569.8,864.7 L570.8,864.7 L571.8,864.7 L572.8,864.7 L573.8,864.7 L574.8,864.7 L575.8,864.7 L576.8,864.7 L577.8,864.7 L578.8,864.7 L579.8,864.7 L580.8,864.7 L581.8,864.7 L582.8,864.7 L583.8,864.7 L584.8,864.7 L585.8,864.7 L586.8,864.7 L587.8,864.7 L588.8,864.7 L589.8,864.7 L590.8,864.7 L591.8,864.7 L592.8,864.7 L593.8,864.7 L594.8,864.7 L595.8,864.6 L596.8,864.6 L597.8,864.6 L598.8,864.6 L599.8,864.6 L600.8,864.5 L601.8,864.5 L602.8,864.5 L603.8,864.4 L604.8,864.4 L605.8,864.4 L606.8,864.3 L607.8,864.3 L608.8,864.3 L609.8,864.3 L610.8,864.2 L611.8,864.2 L612.8,864.2 L613.8,864.1 L614.8,864.1 L615.8,864.1 L616.8,864.1 L617.8,864.0 L618.8,864.0 L619.8,864.0 L620.8,864.0 L621.8,864.0 L622.8,864.0 L623.8,863.9 L624.8,863.9 L625.8,863.9 L626.8,863.9 L627.8,863.9 L628.8,863.9 L629.8,863.9 L630.8,863.9 L631.8,863.8 L632.8,863.8 L633.8,863.8 L634.8,863.8 L635.8,863.8 L636.8,863.8 L637.8,863.8 L638.8,863.8 L639.8,863.8 L640.8,863.8 L641.8,863.7 L642.8,863.7 L643.8,863.7 L644.8,863.7 L645.8,863.7 L646.8,863.7 L647.8,863.7 L648.8,863.7 L649.8,863.7 L650.8,863.7 L651.8,863.7 L652.8,863.7 L653.8,863.7 L654.8,863.6 L655.8,863.6 L656.8,863.6 L657.8,863.6 L658.8,863.6 L659.8,863.6 L660.8,863.6 L661.8,863.6 L662.8,863.6 L663.8,863.6 L664.8,863.6 L665.8,863.6 L666.8,863.6 L667.8,863.6 L668.8,863.6 L669.8,863.5 L670.8,863.5 L671.8,863.5 L672.8,863.5 L673.8,863.5 L674.8,863.5 L675.8,863.5 L676.8,863.5 L677.8,863.5 L678.8,863.5 L679.8,863.5 L680.8,863.5 L681.8,863.5 L682.8,863.5 L683.8,863.5 L684.8,863.4 L685.8,863.4 L686.8,863.4 L687.8,863.4 L688.8,863.4 L689.8,863.4 L690.8,863.4 L691.8,863.4 L692.8,863.4 L693.8,863.4 L694.8,863.4 L695.8,863.4 L696.8,863.4 L697.8,863.3 L698.8,863.3 L699.8,863.3 L700.8,863.3 L701.8,863.3 L702.8,863.3 L703.8,863.3 L704.8,863.3 L705.8,863.3 L706.8,863.3 L707.8,863.2 L708.8,863.2 L709.8,863.2 L710.8,863.2 L711.8,863.2 L712.8,863.2 L713.8,863.2 L714.8,863.2 L715.8,863.1 L716.8,863.1 L717.8,863.1 L718.8,863.1 L719.8,863.1 L720.8,863.1 L721.8,863.1 L722.8,863.0 L723.8,863.0 L724.8,863.0 L725.8,863.0 L726.8,863.0 L727.8,862.9 L728.8,862.9 L729.8,862.9 L730.8,862.9 L731.8,862.8 L732.8,862.8 L733.8,862.8 L734.8,862.8 L735.8,862.7 L736.8,862.7 L737.8,862.6 L738.8,862.6 L739.8,862.6 L740.8,862.5 L741.8,862.5 L742.8,862.5 L743.8,862.4 L744.8,862.4 L745.8,862.3 L746.8,862.3 L747.8,862.2 L748.8,862.2 L749.8,862.1 L750.8,862.1 L751.8,862.0 L752.8,862.0 L753.8,861.9 L754.8,861.9 L755.8,861.8 L756.8,861.8 L757.8,861.7 L758.8,861.6 L759.8,861.6 L760.8,861.5 L761.8,861.4 L762.8,861.4 L763.8,861.3 L764.8,861.2 L765.8,861.1 L766.7,861.0 L767.7,861.0 L768.7,860.9 L769.7,860.8 L770.7,860.7 L771.7,860.6 L772.7,860.5 L773.7,860.4 L774.7,860.3 L775.7,860.2 L776.7,860.1 L777.7,860.0 L778.7,859.9 L779.7,859.7 L780.7,859.6 L781.7,859.5 L782.7,859.4 L783.6,859.2 L784.6,859.1 L785.6,858.9 L786.6,858.8 L787.6,858.6 L788.6,858.4 L789.6,858.3 L790.6,858.1 L791.6,857.9 L792.6,857.7 L793.5,857.5 L794.5,857.3 L795.5,857.1 L796.5,856.9 L797.5,856.7 L798.4,856.5 L799.4,856.2 L800.4,856.0 L801.3,855.8 L802.3,855.5 L803.2,855.3 L804.2,855.0 L805.1,854.7 L806.1,854.4 L807.0,854.1 L808.0,853.8 L808.9,853.4 L809.8,853.1 L810.8,852.7 L811.7,852.3 L812.6,851.9 L813.6,851.5 L814.5,851.1 L815.4,850.7 L816.3,850.3 L817.3,849.9 L818.2,849.5 L819.1,849.1 L820.0,848.7 L820.9,848.3 L821.9,847.9 L822.8,847.5 L823.7,847.1 L824.6,846.6 L825.5,846.2 L826.4,845.7 L827.3,845.3 L828.2,844.8 L829.1,844.4 L830.0,844.0 L830.9,843.6 L831.8,843.2 L832.7,842.8 L833.7,842.5 L834.6,842.1 L835.6,841.8 L836.5,841.5 L837.5,841.2 L838.4,840.9 L839.4,840.6 L840.4,840.3 L841.3,840.0 L842.3,839.7 L843.3,839.5 L844.3,839.3 L845.3,839.1 L846.3,838.9 L847.2,838.8 L848.2,838.8 L849.2,838.8 L850.2,838.8 L851.2,838.9 L852.2,839.0 L853.2,839.1 L854.2,839.3 L855.2,839.5 L856.2,839.7 L857.1,839.9 L858.1,840.1 L859.1,840.4 L860.1,840.6 L861.0,840.9 L862.0,841.1 L862.9,841.4 L863.9,841.7 L864.8,842.1 L865.7,842.4 L866.6,842.8 L867.5,843.3 L868.4,843.8 L869.3,844.2 L870.1,844.7 L871.0,845.3 L871.9,845.8 L872.8,846.3 L873.7,846.8 L874.5,847.3 L875.4,847.7 L876.3,848.2 L877.2,848.6 L878.1,849.0 L879.1,849.4 L880.0,849.8 L880.9,850.2 L881.8,850.6 L882.7,851.0 L883.7,851.4 L884.6,851.8 L885.5,852.2 L886.5,852.5 L887.4,852.9 L888.3,853.3 L889.3,853.6 L890.2,853.9 L891.2,854.3 L892.1,854.6 L893.1,854.9 L894.0,855.2 L895.0,855.5 L895.9,855.8 L896.9,856.0 L897.8,856.3 L898.8,856.6 L899.8,856.8 L900.7,857.1 L901.7,857.3 L902.7,857.6 L903.6,857.8 L904.6,858.1 L905.6,858.3 L906.6,858.5 L907.6,858.7 L908.5,858.9 L909.5,859.1 L910.5,859.3 L911.5,859.5 L912.5,859.6 L913.5,859.8 L914.5,859.9 L915.4,860.0 L916.4,860.2 L917.4,860.3 L918.4,860.4 L919.4,860.5 L920.4,860.6 L921.4,860.7 L922.4,860.8 L923.4,860.9 L924.4,861.0 L925.4,861.1 L926.4,861.2 L927.4,861.3 L928.4,861.3 L929.4,861.4 L930.4,861.5 L931.4,861.6 L932.4,861.6 L933.4,861.7 L934.4,861.7 L935.4,861.8 L936.4,861.9 L937.4,861.9 L938.4,861.9 L939.4,862.0 L940.4,862.0 L941.4,862.0 L942.4,862.1 L943.4,862.1 L944.4,862.1 L945.4,862.2 L946.4,862.2 L947.4,862.2 L948.4,862.2 L949.4,862.3 L950.4,862.3 L951.4,862.3 L952.4,862.3 L953.4,862.4 L954.4,862.4 L955.4,862.4 L956.4,862.4 L957.4,862.4 L958.4,862.5 L959.4,862.5 L960.4,862.5 L961.4,862.5 L962.4,862.5 L963.4,862.5 L964.4,862.5 L965.4,862.5 L966.4,862.5 L967.4,862.5 L968.4,862.5 L969.4,862.5 L970.4,862.5 L971.4,862.5 L972.4,862.5 L973.4,862.5 L974.4,862.5 L975.4,862.5 L976.4,862.5 L977.4,862.5 L978.4,862.5 L979.4,862.5 L980.4,862.4 L981.4,862.4 L982.4,862.4 L983.4,862.4 L984.4,862.4 L985.4,862.4 L986.4,862.4 L987.4,862.4 L988.4,862.4 L989.4,862.4 L990.4,862.4 L991.4,862.4 L992.4,862.3 L993.4,862.3 L994.4,862.3 L995.4,862.3 L996.4,862.3 L997.4,862.3 L998.4,862.3 L999.4,862.3 L1000.4,862.2 L1001.4,862.2 L1002.4,862.2 L1003.4,862.2 L1004.4,862.2 L1005.4,862.2 L1006.4,862.1 L1007.4,862.1 L1008.4,862.1 L1009.4,862.1 L1010.4,862.1 L1011.4,862.1 L1012.4,862.0 L1013.4,862.0 L1014.4,862.0 L1015.4,862.0 L1016.4,862.0 L1017.4,861.9 L1018.4,861.9 L1019.4,861.9 L1020.4,861.8 L1021.4,861.8 L1022.4,861.8 L1023.4,861.7 L1024.4,861.7 L1025.4,861.6 L1026.4,861.6 L1027.4,861.5 L1028.4,861.4 L1029.4,861.4 L1030.4,861.3 L1031.4,861.2 L1032.3,861.1 L1033.3,861.1 L1034.3,861.0 L1035.3,860.9 L1036.3,860.8 L1037.3,860.6 L1038.3,860.5 L1039.3,860.3 L1040.3,860.2 L1041.3,860.0 L1042.3,859.8 L1043.2,859.7 L1044.2,859.5 L1045.2,859.3 L1046.2,859.1 L1047.2,858.8 L1048.2,858.6 L1049.1,858.4 L1050.1,858.2 L1051.1,857.9 L1052.1,857.7 L1053.0,857.5 L1054.0,857.2 L1055.0,857.0 L1055.9,856.8 L1056.9,856.5 L1057.8,856.2 L1058.8,856.0 L1059.8,855.7 L1060.7,855.4 L1061.7,855.0 L1062.6,854.7 L1063.6,854.4 L1064.5,854.1 L1065.4,853.7 L1066.4,853.4 L1067.3,853.0 L1068.3,852.7 L1069.2,852.3 L1070.1,851.9 L1071.1,851.6 L1072.0,851.2 L1072.9,850.8 L1073.9,850.5 L1074.8,850.1 L1075.7,849.7 L1076.6,849.3 L1077.5,848.9 L1078.4,848.5 L1079.4,848.0 L1080.3,847.6 L1081.2,847.1 L1082.1,846.6 L1082.9,846.2 L1083.8,845.7 L1084.7,845.3 L1085.6,844.8 L1086.5,844.4 L1087.5,844.0 L1088.4,843.5 L1089.3,843.2 L1090.2,842.8 L1091.1,842.5 L1092.1,842.1 L1093.0,841.9 L1094.0,841.6 L1094.9,841.3 L1095.9,841.0 L1096.9,840.7 L1097.8,840.4 L1098.8,840.1 L1099.8,839.9 L1100.8,839.7 L1101.8,839.4 L1102.7,839.2 L1103.7,839.1 L1104.7,838.9 L1105.7,838.9 L1106.7,838.8 L1107.7,838.8 L1108.7,838.8 L1109.7,838.8 L1110.6,838.9 L1111.6,839.0 L1112.6,839.2 L1113.6,839.3 L1114.6,839.5 L1115.6,839.7 L1116.6,839.9 L1117.6,840.1 L1118.6,840.3 L1119.6,840.6 L1120.5,840.8 L1121.5,841.0 L1122.5,841.3 L1123.4,841.5 L1124.4,841.8 L1125.3,842.1 L1126.2,842.5 L1127.1,842.8 L1128.1,843.2 L1129.0,843.7 L1129.9,844.1 L1130.8,844.5 L1131.7,845.0 L1132.6,845.4 L1133.5,845.9 L1134.4,846.3 L1135.3,846.8 L1136.2,847.2 L1137.2,847.6 L1138.1,848.0 L1139.0,848.4 L1139.9,848.7 L1140.9,849.1 L1141.8,849.4 L1142.8,849.7 L1143.7,850.0 L1144.7,850.3 L1145.6,850.6 L1146.6,850.9 L1147.5,851.2 L1148.5,851.5 L1149.5,851.8 L1150.4,852.1 L1151.4,852.4 L1152.4,852.7 L1153.3,852.9 L1154.3,853.2 L1155.3,853.4 L1156.2,853.7 L1157.2,853.9 L1158.2,854.1 L1159.1,854.3 L1160.1,854.5 L1161.1,854.7 L1162.1,854.9 L1163.1,855.1 L1164.0,855.3 L1165.0,855.4 L1166.0,855.6 L1167.0,855.8 L1168.0,855.9 L1169.0,856.1 L1170.0,856.2 L1171.0,856.4 L1172.0,856.5 L1172.9,856.7 L1173.9,856.8 L1174.9,856.9 L1175.9,857.1 L1176.9,857.2 L1177.9,857.3 L1178.9,857.4 L1179.9,857.5 L1180.9,857.6 L1181.9,857.7 L1182.9,857.8 L1183.9,857.9 L1184.9,858.0 L1185.9,858.1 L1186.9,858.2 L1187.9,858.2 L1188.9,858.3 L1189.9,858.4 L1190.9,858.5 L1191.9,858.6 L1192.9,858.7 L1193.9,858.7 L1194.9,858.8 L1195.8,858.9 L1196.8,858.9 L1197.8,859.0 L1198.8,859.0 L1199.8,859.1 L1200.8,859.1 L1201.8,859.2 L1202.8,859.2 L1203.8,859.2 L1204.8,859.2 L1205.8,859.3 L1206.8,859.3 L1207.8,859.3 L1208.8,859.3 L1209.8,859.3 L1210.8,859.3 L1211.8,859.3 L1212.8,859.3 L1213.8,859.4 L1214.8,859.4 L1215.8,859.4 L1216.8,859.4 L1217.8,859.4 L1218.8,859.4 L1219.8,859.4 L1220.8,859.4 L1221.8,859.4 L1222.8,859.4 L1223.8,859.4 L1224.8,859.4 L1225.8,859.4 L1226.8,859.5 L1227.8,859.5 L1228.8,859.5 L1229.8,859.5 L1230.8,859.5 L1231.8,859.5 L1232.8,859.5 L1233.8,859.5 L1234.8,859.5 L1235.8,859.5 L1236.8,859.5 L1237.8,859.5 L1238.8,859.5 L1239.8,859.5 L1240.8,859.5 L1241.8,859.5 L1242.8,859.5 L1243.8,859.5 L1244.8,859.5 L1245.8,859.5 L1246.8,859.4 L1247.8,859.4 L1248.8,859.4 L1249.8,859.3 L1250.8,859.3 L1251.8,859.2 L1252.8,859.1 L1253.8,859.1 L1254.8,859.0 L1255.8,858.9 L1256.8,858.9 L1257.8,858.8 L1258.8,858.7 L1259.8,858.6 L1260.8,858.6 L1261.8,858.5 L1262.8,858.4 L1263.8,858.3 L1264.8,858.2 L1265.8,858.1 L1266.8,858.1 L1267.8,858.0 L1268.8,857.9 L1269.8,857.8 L1270.8,857.7 L1271.8,857.6 L1272.8,857.5 L1273.8,857.4 L1274.8,857.3 L1275.8,857.2 L1276.7,857.1 L1277.7,857.0 L1278.7,856.9 L1279.7,856.7 L1280.7,856.6 L1281.7,856.5 L1282.7,856.4 L1283.7,856.2 L1284.7,856.1 L1285.7,856.0 L1286.7,855.8 L1287.7,855.7 L1288.7,855.6 L1289.6,855.4 L1290.6,855.3 L1291.6,855.1 L1292.6,855.0 L1293.6,854.8 L1294.6,854.7 L1295.6,854.5 L1296.6,854.4 L1297.6,854.2 L1298.6,854.1 L1299.5,853.9 L1300.5,853.7 L1301.5,853.5 L1302.5,853.4 L1303.5,853.2 L1304.5,853.0 L1305.5,852.8 L1306.4,852.6 L1307.4,852.4 L1308.4,852.2 L1309.4,852.0 L1310.3,851.8 L1311.3,851.5 L1312.3,851.3 L1313.2,851.1 L1314.2,850.8 L1315.2,850.5 L1316.1,850.2 L1317.1,850.0 L1318.0,849.7 L1319.0,849.3 L1319.9,849.0 L1320.9,848.7 L1321.8,848.3 L1322.8,848.0 L1323.7,847.6 L1324.7,847.3 L1325.6,846.9 L1326.5,846.5 L1327.4,846.1 L1328.4,845.7 L1329.3,845.3 L1330.2,844.9 L1331.1,844.5 L1332.0,844.1 L1332.9,843.6 L1333.8,843.2 L1334.6,842.7 L1335.5,842.2 L1336.4,841.7 L1337.3,841.2 L1338.2,840.7 L1339.0,840.2 L1339.9,839.7 L1340.7,839.1 L1341.6,838.6 L1342.4,838.0 L1343.2,837.5 L1344.0,836.9 L1344.8,836.3 L1345.6,835.7 L1346.4,835.1 L1347.2,834.5 L1347.9,833.8 L1348.6,833.1 L1349.4,832.4 L1350.1,831.7 L1350.8,830.9 L1351.5,830.2 L1352.2,829.5 L1352.9,828.7 L1353.6,828.0 L1354.3,827.3 L1355.0,826.5 L1355.8,825.9 L1356.5,825.2 L1357.2,824.5 L1358.0,823.9 L1358.8,823.3 L1359.6,822.8 L1360.4,822.3 L1361.2,821.7 L1362.1,821.2 L1363.0,820.7 L1363.9,820.1 L1364.8,819.6 L1365.7,819.0 L1366.6,818.5 L1367.5,818.0 L1368.5,817.6 L1369.4,817.1 L1370.4,816.7 L1371.3,816.3 L1372.2,816.0 L1373.2,815.7 L1374.1,815.5 L1375.1,815.4 L1376.0,815.3 L1376.9,815.3 L1377.8,815.4 L1378.8,815.6 L1379.7,815.8 L1380.7,816.1 L1381.6,816.4 L1382.5,816.8 L1383.5,817.3 L1384.4,817.8 L1385.4,818.2 L1386.3,818.8 L1387.2,819.3 L1388.1,819.8 L1389.0,820.3 L1389.8,820.9 L1390.7,821.4 L1391.5,821.9 L1392.3,822.4 L1393.1,823.0 L1393.9,823.6 L1394.7,824.2 L1395.4,824.9 L1396.2,825.5 L1396.9,826.2 L1397.7,826.9 L1398.4,827.5 L1399.2,828.2 L1399.9,828.9 L1400.7,829.6 L1401.4,830.3 L1402.2,831.0 L1402.9,831.7 L1403.7,832.3 L1404.5,832.9 L1405.3,833.6 L1406.1,834.2 L1406.9,834.8 L1407.7,835.3 L1408.5,835.9 L1409.3,836.5 L1410.1,837.1 L1410.9,837.7 L1411.7,838.3 L1412.6,838.8 L1413.4,839.4 L1414.2,840.0 L1415.1,840.5 L1415.9,841.1 L1416.8,841.6 L1417.6,842.1 L1418.5,842.6 L1419.3,843.1 L1420.2,843.6 L1421.1,844.1 L1422.0,844.5 L1422.8,845.0 L1423.7,845.4 L1424.6,845.9 L1425.5,846.3 L1426.4,846.8 L1427.3,847.2 L1428.2,847.6 L1429.2,848.1 L1430.1,848.5 L1431.0,848.9 L1431.9,849.3 L1432.8,849.7 L1433.8,850.0 L1434.7,850.4 L1435.6,850.8 L1436.6,851.1 L1437.5,851.5 L1438.5,851.8 L1439.4,852.1 L1440.3,852.4 L1441.3,852.7 L1442.2,853.0 L1443.2,853.3 L1444.1,853.6 L1445.1,853.9 L1446.1,854.2 L1447.0,854.4 L1448.0,854.7 L1449.0,855.0 L1449.9,855.2 L1450.9,855.5 L1451.9,855.7 L1452.9,855.9 L1453.8,856.2 L1454.8,856.4 L1455.8,856.6 L1456.8,856.8 L1457.8,857.0 L1458.8,857.2 L1459.7,857.4 L1460.7,857.5 L1461.7,857.7 L1462.7,857.9 L1463.7,858.0 L1464.6,858.2 L1465.6,858.3 L1466.6,858.5 L1467.6,858.6 L1468.6,858.7 L1469.6,858.9 L1470.6,859.0 L1471.6,859.1 L1472.6,859.2 L1473.6,859.4 L1474.6,859.5 L1475.6,859.6 L1476.5,859.7 L1477.5,859.8 L1478.5,859.9 L1479.5,860.1 L1480.5,860.2 L1481.5,860.3 L1482.5,860.4 L1483.5,860.5 L1484.5,860.6 L1485.5,860.7 L1486.5,860.8 L1487.5,860.9 L1488.5,861.0 L1489.5,861.1 L1490.5,861.2 L1491.5,861.3 L1492.5,861.4 L1493.5,861.5 L1494.5,861.6 L1495.5,861.7 L1496.5,861.8 L1497.5,861.9 L1498.4,862.0 L1499.4,862.1 L1500.4,862.2 L1501.4,862.3 L1502.4,862.4 L1503.4,862.5 L1504.4,862.6 L1505.4,862.7 L1506.4,862.7 L1507.4,862.8 L1508.4,862.9 L1509.4,863.0 L1510.4,863.1 L1511.4,863.2 L1512.4,863.3 L1513.4,863.4 L1514.4,863.4 L1515.4,863.5 L1516.4,863.6 L1517.4,863.7 L1518.4,863.8 L1519.4,863.8 L1520.4,863.9 L1521.4,864.0 L1522.4,864.1 L1523.4,864.1 L1524.4,864.2 L1525.4,864.3 L1526.4,864.4 L1527.4,864.4 L1528.3,864.5 L1529.3,864.6 L1530.3,864.6 L1531.3,864.7 L1532.3,864.7 L1533.3,864.8 L1534.3,864.9 L1535.3,864.9 L1536.3,865.0 L1537.3,865.1 L1538.3,865.1 L1539.3,865.2 L1540.3,865.2 L1541.3,865.3 L1542.3,865.4 L1543.3,865.4 L1544.3,865.5 L1545.3,865.5 L1546.3,865.6 L1547.3,865.6 L1548.3,865.7 L1549.3,865.7 L1550.3,865.8 L1551.3,865.8 L1552.3,865.9 L1553.3,865.9 L1554.3,866.0 L1555.3,866.0 L1556.3,866.1 L1557.3,866.1 L1558.3,866.2 L1559.3,866.2 L1560.3,866.3 L1561.3,866.3 L1562.3,866.3 L1563.3,866.4 L1564.3,866.4 L1565.3,866.5 L1566.3,866.5 L1567.3,866.6 L1568.3,866.6 L1569.3,866.6 L1570.3,866.7 L1571.3,866.7 L1572.3,866.8 L1573.3,866.8 L1574.3,866.8 L1575.3,866.9 L1576.3,866.9 L1577.3,867.0 L1578.3,867.0 L1579.3,867.0 L1580.3,867.1 L1581.3,867.1 L1582.3,867.2 L1583.3,867.2 L1584.3,867.2 L1585.3,867.3 L1586.3,867.3 L1587.3,867.4 L1588.3,867.4 L1589.3,867.4 L1590.3,867.5 L1591.3,867.5 L1592.3,867.5 L1593.3,867.6 L1594.3,867.6 L1595.3,867.6 L1596.3,867.7 L1597.3,867.7 L1598.3,867.7 L1599.3,867.8 L1600.3,867.8 L1601.3,867.8 L1602.3,867.8 L1603.3,867.9 L1604.3,867.9 L1605.3,867.9 L1606.3,867.9 L1607.3,867.9 L1608.3,867.9 L1609.3,868.0 L1610.3,868.0 L1611.3,868.0 L1612.3,868.0 L1613.3,868.0 L1614.3,868.0 L1615.3,868.0 L1616.3,868.0 L1617.3,868.0 L1618.3,868.0 L1619.3,868.0 L1620.3,868.0 L1621.3,868.0 L1622.3,868.0 L1623.3,868.0 L1624.3,868.0 L1625.3,868.0 L1626.3,868.0 L1627.3,868.0 L1628.3,868.0 L1629.3,868.0 L1630.3,868.0 L1631.3,868.0 L1632.3,868.0 L1633.3,868.0 L1634.3,868.0 L1635.3,868.0 L1636.3,868.0 L1637.3,868.0 L1638.3,868.0 L1639.3,868.0 L1640.3,868.0 L1641.3,868.0 L1642.3,868.0 L1643.3,868.0 L1644.3,868.0 L1645.3,868.0 L1646.3,868.0 L1647.3,868.0 L1648.3,868.0 L1649.3,868.0 L1650.3,868.0 L1651.3,868.0 L1652.3,868.0 L1653.3,868.0 L1654.3,868.0 L1655.3,868.0 L1656.3,868.0 L1657.3,868.0 L1658.3,868.0 L1659.3,868.0 L1660.3,868.0 L1661.3,868.0 L1662.3,868.0 L1663.3,868.0 L1664.3,868.0 L1665.3,868.0 L1666.3,868.0 L1667.3,868.0 L1668.3,868.0 L1669.3,868.0 L1670.3,868.0 L1671.3,868.0 L1672.3,868.0 L1673.3,868.0 L1674.3,868.0 L1675.3,868.0 L1676.3,868.0 L1677.3,868.0 L1678.3,868.0 L1679.3,868.0 L1680.3,868.0 L1681.3,868.0 L1682.3,868.0 L1683.3,868.0 L1684.3,867.9 L1685.3,867.9 L1686.3,867.9 L1687.3,867.9 L1688.3,867.9 L1689.3,867.9 L1690.3,867.9 L1691.3,867.9 L1692.3,867.9 L1693.3,867.9 L1694.3,867.9 L1695.3,867.9 L1696.3,867.9 L1697.3,867.9 L1698.3,867.8 L1699.3,867.8 L1700.3,867.8 L1701.3,867.8 L1702.3,867.8 L1703.3,867.8 L1704.3,867.8 L1705.3,867.8 L1706.3,867.8 L1707.3,867.8 L1708.3,867.7 L1709.3,867.7 L1710.3,867.7 L1711.3,867.7 L1712.3,867.7 L1713.3,867.7 L1714.3,867.7 L1715.3,867.7 L1716.3,867.7 L1717.3,867.7 L1718.3,867.6 L1719.3,867.6 L1720.3,867.6 L1721.3,867.6 L1722.3,867.6 L1723.3,867.6 L1724.3,867.6 L1725.3,867.6 L1726.3,867.5 L1727.3,867.5 L1728.2,867.5 L1729.1,867.5 L1729.6,867.5" stroke="#ff0000"/>
<path d="M148.4,703.4 L149.1,703.2 L150.0,703.0 L150.9,702.8 L151.9,702.6 L152.9,702.3 L153.8,702.1 L154.8,701.8 L155.8,701.6 L156.7,701.4 L157.7,701.1 L158.7,700.9 L159.7,700.6 L160.6,700.4 L161.6,700.1 L162.6,699.9 L163.5,699.6 L164.5,699.3 L165.5,699.1 L166.4,698.8 L167.4,698.5 L168.4,698.3 L169.3,698.0 L170.3,697.7 L171.2,697.4 L172.2,697.1 L173.1,696.8 L174.1,696.5 L175.0,696.2 L176.0,695.9 L176.9,695.6 L177.9,695.3 L178.8,694.9 L179.7,694.6 L180.7,694.2 L181.6,693.9 L182.5,693.5 L183.5,693.2 L184.4,692.8 L185.3,692.4 L186.3,692.1 L187.2,691.7 L188.1,691.3 L189.0,690.9 L190.0,690.5 L190.9,690.1 L191.8,689.7 L192.7,689.3 L193.7,688.9 L194.6,688.6 L195.5,688.2 L196.4,687.8 L197.3,687.4 L198.3,687.0 L199.2,686.6 L200.1,686.2 L201.0,685.8 L202.0,685.4 L202.9,685.1 L203.8,684.7 L204.8,684.3 L205.7,684.0 L206.7,683.6 L207.6,683.2 L208.5,682.8 L209.5,682.5 L210.4,682.1 L211.3,681.7 L212.3,681.3 L213.2,680.9 L214.1,680.5 L215.0,680.1 L215.9,679.7 L216.8,679.2 L217.7,678.8 L218.5,678.3 L219.4,677.8 L220.2,677.3 L221.1,676.8 L221.9,676.3 L222.7,675.8 L223.6,675.2 L224.4,674.6 L225.2,674.0 L226.0,673.4 L226.8,672.8 L227.6,672.2 L228.4,671.5 L229.2,670.9 L229.9,670.2 L230.7,669.6 L231.5,668.9 L232.2,668.2 L232.9,667.5 L233.6,666.8 L234.4,666.1 L235.0,665.4 L235.7,664.7 L236.4,664.0 L237.1,663.3 L237.8,662.6 L238.4,661.8 L239.1,661.1 L239.8,660.3 L240.4,659.5 L241.0,658.8 L241.7,658.0 L242.3,657.2 L242.9,656.4 L243.6,655.6 L244.2,654.8 L244.8,654.0 L245.4,653.1 L245.9,652.3 L246.5,651.5 L247.1,650.6 L247.6,649.8 L248.2,649.0 L248.7,648.1 L249.2,647.3 L249.7,646.4 L250.2,645.6 L250.7,644.7 L251.2,643.9 L251.7,643.0 L252.2,642.1 L252.7,641.3 L253.1,640.4 L253.6,639.5 L254.1,638.6 L254.5,637.7 L255.0,636.8 L255.4,635.9 L255.8,635.0 L256.3,634.1 L256.7,633.1 L257.1,632.2 L257.5,631.3 L257.9,630.4 L258.3,629.4 L258.7,628.5 L259.1,627.6 L259.4,626.6 L259.8,625.7 L260.1,624.8 L260.5,623.8 L260.8,622.9 L261.1,622.0 L261.4,621.0 L261.7,620.1 L262.0,619.1 L262.3,618.2 L262.6,617.2 L262.9,616.3 L263.2,615.3 L263.5,614.4 L263.7,613.4 L264.0,612.4 L264.3,611.5 L264.5,610.5 L264.8,609.5 L265.0,608.6 L265.3,607.6 L265.5,606.6 L265.8,605.6 L266.0,604.7 L266.2,603.7 L266.5,602.7 L266.7,601.7 L266.9,600.7 L267.1,599.8 L267.3,598.8 L267.5,597.8 L267.7,596.8 L267.9,595.8 L268.1,594.8 L268.3,593.9 L268.5,592.9 L268.7,591.9 L268.8,590.9 L269.0,589.9 L269.2,589.0 L269.3,588.0 L269.5,587.0 L269.6,586.0 L269.8,585.0 L269.9,584.0 L270.1,583.0 L270.2,582.1 L270.4,581.1 L270.5,580.1 L270.7,579.1 L270.8,578.1 L270.9,577.1 L271.1,576.1 L271.2,575.1 L271.3,574.1 L271.4,573.1 L271.6,572.1 L271.7,571.1 L271.8,570.1 L271.9,569.1 L272.1,568.2 L272.2,567.2 L272.3,566.2 L272.4,565.2 L272.5,564.2 L272.7,563.2 L272.8,562.2 L272.9,561.2 L273.1,560.2 L273.2,559.2 L273.3,558.2 L273.4,557.2 L273.6,556.2 L273.7,555.2 L273.8,554.3 L274.0,553.3 L274.1,552.3 L274.2,551.3 L274.3,550.3 L274.5,549.3 L274.6,548.3 L274.7,547.3 L274.9,546.3 L275.0,545.3 L275.1,544.3 L275.2,543.3 L275.4,542.4 L275.5,541.4 L275.6,540.4 L275.7,539.4 L275.9,538.4 L276.0,537.4 L276.1,536.4 L276.2,535.4 L276.4,534.4 L276.5,533.4 L276.6,532.4 L276.7,531.4 L276.8,530.4 L277.0,529.5 L277.1,528.5 L277.2,527.5 L277.3,526.5 L277.4,525.5 L277.6,524.5 L277.7,523.5 L277.8,522.5 L277.9,521.5 L278.0,520.5 L278.1,519.5 L278.3,518.5 L278.4,517.5 L278.5,516.5 L278.6,515.5 L278.7,514.6 L278.8,513.6 L278.9,512.6 L279.1,511.6 L279.2,510.6 L279.3,509.6 L279.4,508.6 L279.5,507.6 L279.6,506.6 L279.7,505.6 L279.8,504.6 L279.9,503.6 L280.1,502.6 L280.2,501.6 L280.3,500.6 L280.4,499.6 L280.5,498.7 L280.6,497.7 L280.7,496.7 L280.8,495.7 L281.0,494.7 L281.1,493.7 L281.2,492.7 L281.3,491.7 L281.4,490.7 L281.5,489.7 L281.6,488.7 L281.8,487.7 L281.9,486.7 L282.0,485.7 L282.1,484.7 L282.2,483.8 L282.3,482.8 L282.4,481.8 L282.6,480.8 L282.7,479.8 L282.8,478.8 L282.9,477.8 L283.0,476.8 L283.1,475.8 L283.3,474.8 L283.4,473.8 L283.5,472.8 L283.6,471.8 L283.7,470.8 L283.8,469.8 L284.0,468.9 L284.1,467.9 L284.2,466.9 L284.3,465.9 L284.5,464.9 L284.6,463.9 L284.7,462.9 L284.8,461.9 L285.0,460.9 L285.1,459.9 L285.2,458.9 L285.3,457.9 L285.5,457.0 L285.6,456.0 L285.8,455.0 L285.9,454.0 L286.1,453.0 L286.2,452.0 L286.3,451.0 L286.5,450.0 L286.6,449.0 L286.8,448.1 L287.0,447.1 L287.1,446.1 L287.3,445.1 L287.4,444.1 L287.6,443.1 L287.7,442.1 L287.9,441.1 L288.0,440.1 L288.2,439.2 L288.3,438.2 L288.5,437.2 L288.6,436.2 L288.8,435.2 L288.9,434.2 L289.0,433.2 L289.2,432.2 L289.3,431.2 L289.4,430.2 L289.6,429.2 L289.7,428.3 L289.8,427.3 L289.9,426.3 L290.0,425.3 L290.2,424.3 L290.3,423.3 L290.4,422.3 L290.6,421.3 L290.7,420.3 L290.9,419.3 L291.0,418.4 L291.2,417.4 L291.4,416.4 L291.6,415.4 L291.7,414.4 L291.9,413.4 L292.2,412.5 L292.4,411.5 L292.6,410.5 L292.8,409.5 L293.1,408.6 L293.4,407.6 L293.6,406.6 L293.9,405.7 L294.2,404.7 L294.5,403.8 L294.9,402.8 L295.2,401.9 L295.6,401.0 L295.9,400.0 L296.3,399.1 L296.7,398.2 L297.0,397.2 L297.4,396.3 L297.7,395.3 L298.1,394.4 L298.5,393.5 L299.0,392.6 L299.5,391.8 L300.1,390.9 L300.7,390.1 L301.4,389.3 L302.1,388.6 L302.8,387.9 L303.6,387.4 L304.4,386.9 L305.3,386.4 L306.2,386.0 L307.1,385.7 L308.1,385.3 L309.0,384.9 L309.9,384.4 L310.9,384.0 L311.8,383.6 L312.7,383.2 L313.7,383.0 L314.7,383.0 L315.6,383.1 L316.6,383.4 L317.5,383.9 L318.1,384.5 L318.7,385.2 L319.1,386.1 L319.5,387.0 L319.8,388.0 L320.2,389.0 L320.6,389.9 L321.1,390.8 L321.5,391.7 L322.0,392.6 L322.4,393.5 L322.7,394.5 L323.1,395.4 L323.3,396.4 L323.6,397.3 L323.8,398.3 L324.0,399.3 L324.3,400.3 L324.5,401.2 L324.7,402.2 L324.9,403.2 L325.0,404.2 L325.2,405.2 L325.4,406.2 L325.5,407.1 L325.7,408.1 L325.9,409.1 L326.1,410.1 L326.2,411.1 L326.4,412.1 L326.6,413.1 L326.7,414.0 L326.9,415.0 L327.1,416.0 L327.2,417.0 L327.4,418.0 L327.5,419.0 L327.7,420.0 L327.8,421.0 L328.0,421.9 L328.1,422.9 L328.2,423.9 L328.4,424.9 L328.5,425.9 L328.6,426.9 L328.8,427.9 L328.9,428.9 L329.0,429.9 L329.1,430.9 L329.3,431.9 L329.4,432.9 L329.5,433.8 L329.7,434.8 L329.8,435.8 L330.0,436.8 L330.1,437.8 L330.3,438.8 L330.4,439.8 L330.5,440.8 L330.7,441.8 L330.8,442.7 L331.0,443.7 L331.1,444.7 L331.3,445.7 L331.4,446.7 L331.6,447.7 L331.7,448.7 L331.8,449.7 L332.0,450.7 L332.1,451.7 L332.3,452.6 L332.4,453.6 L332.5,454.6 L332.7,455.6 L332.8,456.6 L332.9,457.6 L333.0,458.6 L333.2,459.6 L333.3,460.6 L333.4,461.6 L333.5,462.6 L333.6,463.6 L333.7,464.6 L333.8,465.5 L333.9,466.5 L334.0,467.5 L334.1,468.5 L334.2,469.5 L334.4,470.5 L334.5,471.5 L334.6,472.5 L334.7,473.5 L334.8,474.5 L334.9,475.5 L335.0,476.5 L335.1,477.5 L335.2,478.5 L335.3,479.5 L335.3,480.5 L335.4,481.5 L335.5,482.5 L335.6,483.5 L335.7,484.5 L335.8,485.4 L335.9,486.4 L336.1,487.4 L336.2,488.4 L336.3,489.4 L336.4,490.4 L336.5,491.4 L336.6,492.4 L336.7,493.4 L336.8,494.4 L336.9,495.4 L337.0,496.4 L337.1,497.4 L337.2,498.4 L337.3,499.4 L337.4,500.4 L337.6,501.4 L337.7,502.4 L337.8,503.3 L337.9,504.3 L338.0,505.3 L338.1,506.3 L338.2,507.3 L338.3,508.3 L338.4,509.3 L338.5,510.3 L338.7,511.3 L338.8,512.3 L338.9,513.3 L339.0,514.3 L339.1,515.3 L339.2,516.3 L339.3,517.3 L339.4,518.3 L339.6,519.2 L339.7,520.2 L339.8,521.2 L339.9,522.2 L340.0,523.2 L340.1,524.2 L340.2,525.2 L340.3,526.2 L340.4,527.2 L340.6,528.2 L340.7,529.2 L340.8,530.2 L340.9,531.2 L341.0,532.2 L341.1,533.2 L341.2,534.2 L341.3,535.1 L341.4,536.1 L341.5,537.1 L341.7,538.1 L341.8,539.1 L341.9,540.1 L342.0,541.1 L342.1,542.1 L342.2,543.1 L342.3,544.1 L342.4,545.1 L342.5,546.1 L342.7,547.1 L342.8,548.1 L342.9,549.1 L343.0,550.1 L343.1,551.0 L343.2,552.0 L343.4,553.0 L343.5,554.0 L343.6,555.0 L343.7,556.0 L343.8,557.0 L344.0,558.0 L344.1,559.0 L344.2,560.0 L344.3,561.0 L344.5,562.0 L344.6,563.0 L344.7,564.0 L344.8,564.9 L345.0,565.9 L345.1,566.9 L345.2,567.9 L345.4,568.9 L345.5,569.9 L345.6,570.9 L345.7,571.9 L345.9,572.9 L346.0,573.9 L346.2,574.9 L346.3,575.9 L346.4,576.9 L346.6,577.8 L346.7,578.8 L346.9,579.8 L347.0,580.8 L347.2,581.8 L347.3,582.8 L347.5,583.8 L347.6,584.8 L347.8,585.8 L347.9,586.7 L348.1,587.7 L348.3,588.7 L348.4,589.7 L348.6,590.7 L348.8,591.7 L349.0,592.6 L349.2,593.6 L349.4,594.6 L349.5,595.6 L349.7,596.6 L349.9,597.5 L350.2,598.5 L350.4,599.5 L350.6,600.5 L350.8,601.4 L351.0,602.4 L351.3,603.4 L351.5,604.4 L351.7,605.4 L352.0,606.3 L352.2,607.3 L352.4,608.3 L352.7,609.2 L352.9,610.2 L353.2,611.2 L353.5,612.2 L353.7,613.1 L354.0,614.1 L354.3,615.0 L354.5,616.0 L354.8,617.0 L355.1,617.9 L355.4,618.9 L355.6,619.8 L355.9,620.8 L356.2,621.7 L356.5,622.7 L356.8,623.6 L357.1,624.6 L357.4,625.5 L357.7,626.5 L358.1,627.4 L358.4,628.4 L358.7,629.3 L359.1,630.3 L359.4,631.2 L359.8,632.2 L360.1,633.1 L360.5,634.0 L360.9,635.0 L361.2,635.9 L361.6,636.8 L362.0,637.8 L362.4,638.7 L362.8,639.6 L363.1,640.5 L363.5,641.5 L363.9,642.4 L364.3,643.3 L364.7,644.2 L365.2,645.1 L365.6,646.0 L366.0,646.9 L366.4,647.8 L366.8,648.7 L367.3,649.6 L367.7,650.5 L368.1,651.4 L368.6,652.3 L369.0,653.2 L369.5,654.1 L370.0,655.0 L370.4,655.9 L370.9,656.8 L371.4,657.7 L371.9,658.5 L372.4,659.4 L372.9,660.3 L373.4,661.1 L373.9,662.0 L374.5,662.9 L375.0,663.7 L375.5,664.5 L376.1,665.4 L376.6,666.2 L377.2,667.0 L377.7,667.8 L378.3,668.6 L378.9,669.5 L379.5,670.3 L380.1,671.1 L380.7,671.9 L381.3,672.7 L381.9,673.5 L382.6,674.3 L383.2,675.1 L383.9,675.8 L384.5,676.6 L385.2,677.3 L385.9,678.1 L386.6,678.8 L387.3,679.5 L388.0,680.2 L388.7,680.9 L389.5,681.5 L390.2,682.2 L391.0,682.8 L391.8,683.5 L392.5,684.1 L393.4,684.7 L394.2,685.4 L395.0,686.0 L395.9,686.5 L396.8,687.1 L397.6,687.5 L398.5,687.9 L399.4,688.3 L400.3,688.6 L401.2,688.8 L402.2,689.0 L403.2,689.2 L404.1,689.3 L405.1,689.5 L406.1,689.6 L407.1,689.7 L408.1,689.9 L409.2,690.0 L410.2,690.1 L411.2,690.2 L412.2,690.3 L413.2,690.5 L414.2,690.6 L415.2,690.8 L416.2,691.0 L417.1,691.2 L418.1,691.4 L419.0,691.7 L420.0,692.0 L420.9,692.4 L421.8,692.8 L422.7,693.2 L423.6,693.7 L424.5,694.1 L425.4,694.6 L426.3,695.1 L427.2,695.5 L428.1,696.0 L429.0,696.5 L429.9,696.9 L430.8,697.4 L431.7,697.9 L432.5,698.4 L433.4,698.9 L434.3,699.4 L435.2,699.9 L436.0,700.4 L436.9,700.9 L437.7,701.5 L438.6,702.0 L439.5,702.5 L440.3,703.0 L441.2,703.6 L442.1,704.1 L442.9,704.6 L443.8,705.1 L444.7,705.5 L445.6,706.0 L446.4,706.4 L447.3,706.9 L448.2,707.3 L449.1,707.6 L450.0,708.0 L451.0,708.3 L451.9,708.7 L452.8,709.0 L453.8,709.3 L454.7,709.6 L455.7,710.0 L456.6,710.3 L457.6,710.6 L458.5,710.9 L459.5,711.1 L460.5,711.4 L461.4,711.7 L462.4,712.0 L463.4,712.2 L464.4,712.5 L465.3,712.7 L466.3,713.0 L467.3,713.2 L468.3,713.4 L469.3,713.6 L470.2,713.9 L471.2,714.1 L472.2,714.2 L473.2,714.4 L474.2,714.6 L475.1,714.8 L476.1,714.9 L477.1,715.1 L478.1,715.2 L479.1,715.4 L480.1,715.5 L481.1,715.7 L482.0,715.8 L483.0,716.0 L484.0,716.1 L485.0,716.2 L486.0,716.3 L487.0,716.5 L488.0,716.6 L489.0,716.7 L490.0,716.8 L491.0,716.9 L492.0,717.0 L493.0,717.1 L494.0,717.2 L495.0,717.3 L496.0,717.4 L497.0,717.5 L498.0,717.6 L499.0,717.7 L500.0,717.7 L501.0,717.8 L502.0,717.9 L503.0,718.0 L504.0,718.1 L505.0,718.1 L506.0,718.2 L506.9,718.3 L507.9,718.4 L508.9,718.4 L509.9,718.5 L510.9,718.6 L511.9,718.6 L512.9,718.7 L513.9,718.8 L514.9,718.9 L515.9,718.9 L516.9,719.0 L517.9,719.1 L518.9,719.1 L519.9,719.2 L520.9,719.2 L521.9,719.3 L522.9,719.3 L523.9,719.4 L524.9,719.4 L525.9,719.5 L526.9,719.5 L527.9,719.6 L528.9,719.6 L529.9,719.6 L530.9,719.7 L531.9,719.7 L532.9,719.7 L533.9,719.7 L534.9,719.7 L535.9,719.7 L536.9,719.7 L537.9,719.7 L538.9,719.7 L539.9,719.7 L540.9,719.7 L541.9,719.7 L542.9,719.8 L543.9,719.8 L544.9,719.8 L545.9,719.8 L546.9,719.8 L547.9,719.8 L548.9,719.8 L549.9,719.8 L550.9,719.8 L551.9,719.8 L552.9,719.8 L553.9,719.8 L554.9,719.8 L555.9,719.8 L556.9,719.8 L557.9,719.8 L558.9,719.8 L559.9,719.8 L560.9,719.8 L561.9,719.8 L562.9,719.8 L563.9,719.8 L564.9,719.8 L565.9,719.8 L566.9,719.8 L567.9,719.8 L568.9,719.8 L569.9,719.8 L570.9,719.8 L571.9,719.8 L572.9,719.8 L573.9,719.8 L574.9,719.8 L575.9,719.8 L576.9,719.8 L577.9,719.8 L578.9,719.8 L579.9,719.8 L580.9,719.8 L581.9,719.8 L582.9,719.8 L583.9,719.8 L584.9,719.8 L585.9,719.7 L586.9,719.7 L587.9,719.7 L588.9,719.7 L589.9,719.7 L590.9,719.7 L591.9,719.7 L592.9,719.7 L593.9,719.7 L594.9,719.7 L595.9,719.7 L596.9,719.7 L597.9,719.7 L598.9,719.7 L599.9,719.7 L600.9,719.7 L601.9,719.7 L602.9,719.7 L603.9,719.7 L604.9,719.7 L605.9,719.7 L606.9,719.7 L607.9,719.7 L608.9,719.7 L609.9,719.7 L610.9,719.7 L611.9,719.7 L612.9,719.7 L613.9,719.7 L614.9,719.7 L615.9,719.7 L616.9,719.7 L617.9,719.7 L618.9,719.7 L619.9,719.7 L620.9,719.7 L621.9,719.6 L622.9,719.6 L623.9,719.6 L624.9,719.6 L625.9,719.6 L626.9,719.6 L627.9,719.6 L628.9,719.6 L629.9,719.6 L630.9,719.6 L631.9,719.6 L632.9,719.6 L633.9,719.6 L634.9,719.6 L635.9,719.5 L636.9,719.5 L637.9,719.5 L638.9,719.5 L639.9,719.5 L640.9,719.5 L641.9,719.5 L642.9,719.5 L643.9,719.5 L644.9,719.5 L645.9,719.5 L646.9,719.4 L647.9,719.4 L648.9,719.4 L649.9,719.4 L650.9,719.4 L651.9,719.4 L652.9,719.4 L653.9,719.4 L654.9,719.4 L655.9,719.4 L656.9,719.3 L657.9,719.3 L658.9,719.3 L659.9,719.3 L660.9,719.3 L661.9,719.3 L662.9,719.3 L663.9,719.3 L664.9,719.3 L665.9,719.2 L666.9,719.2 L667.9,719.2 L668.9,719.2 L669.9,719.2 L670.9,719.2 L671.9,719.1 L672.9,719.1 L673.9,719.1 L674.9,719.1 L675.9,719.0 L676.9,719.0 L677.9,719.0 L678.9,719.0 L679.9,718.9 L680.9,718.9 L681.9,718.9 L682.9,718.8 L683.9,718.8 L684.9,718.8 L685.9,718.7 L686.9,718.7 L687.9,718.6 L688.9,718.6 L689.9,718.6 L690.9,718.5 L691.9,718.5 L692.9,718.5 L693.9,718.4 L694.9,718.4 L695.9,718.3 L696.9,718.3 L697.9,718.2 L698.9,718.2 L699.9,718.2 L700.9,718.1 L701.9,718.1 L702.9,718.0 L703.9,718.0 L704.9,717.9 L705.9,717.9 L706.9,717.9 L707.9,717.8 L708.9,717.8 L709.9,717.7 L710.9,717.7 L711.9,717.6 L712.9,717.6 L713.9,717.5 L714.9,717.5 L715.9,717.5 L716.9,717.4 L717.9,717.4 L718.9,717.3 L719.9,717.3 L720.9,717.2 L721.9,717.2 L722.9,717.2 L723.9,717.1 L724.9,717.1 L725.9,717.0 L726.9,717.0 L727.9,716.9 L728.9,716.9 L729.9,716.8 L730.9,716.8 L731.9,716.7 L732.9,716.7 L733.9,716.6 L734.9,716.6 L735.9,716.5 L736.9,716.5 L737.9,716.4 L738.9,716.4 L739.9,716.3 L740.9,716.3 L741.9,716.2 L742.9,716.2 L743.9,716.1 L744.9,716.0 L745.9,716.0 L746.9,715.9 L747.9,715.8 L748.8,715.8 L749.8,715.7 L750.8,715.6 L751.8,715.5 L752.8,715.5 L753.8,715.4 L754.8,715.3 L755.8,715.2 L756.8,715.1 L757.8,715.0 L758.8,714.9 L759.8,714.8 L760.8,714.7 L761.8,714.6 L762.8,714.5 L763.8,714.4 L764.8,714.3 L765.8,714.1 L766.8,714.0 L767.8,713.9 L768.7,713.7 L769.7,713.6 L770.7,713.5 L771.7,713.3 L772.7,713.2 L773.7,713.1 L774.7,712.9 L775.7,712.8 L776.7,712.6 L777.7,712.5 L778.6,712.3 L779.6,712.2 L780.6,712.0 L781.6,711.9 L782.6,711.7 L783.6,711.5 L784.6,711.4 L785.6,711.2 L786.5,711.0 L787.5,710.8 L788.5,710.6 L789.5,710.4 L790.5,710.2 L791.5,710.0 L792.4,709.8 L793.4,709.6 L794.4,709.4 L795.4,709.2 L796.4,709.0 L797.3,708.8 L798.3,708.5 L799.3,708.3 L800.2,708.1 L801.2,707.8 L802.2,707.6 L803.1,707.3 L804.1,707.1 L805.0,706.8 L806.0,706.5 L806.9,706.2 L807.9,705.8 L808.8,705.5 L809.8,705.2 L810.7,704.8 L811.6,704.5 L812.6,704.1 L813.5,703.7 L814.5,703.4 L815.4,703.0 L816.3,702.7 L817.3,702.3 L818.2,701.9 L819.1,701.6 L820.1,701.2 L821.0,700.9 L821.9,700.5 L822.9,700.1 L823.8,699.7 L824.7,699.3 L825.6,698.9 L826.6,698.5 L827.5,698.1 L828.4,697.8 L829.4,697.4 L830.3,697.0 L831.2,696.7 L832.2,696.4 L833.1,696.0 L834.1,695.8 L835.0,695.5 L836.0,695.3 L836.9,695.0 L837.9,694.8 L838.9,694.5 L839.9,694.3 L840.9,694.1 L841.9,693.8 L842.8,693.6 L843.8,693.5 L844.8,693.3 L845.8,693.2 L846.8,693.1 L847.8,693.0 L848.8,693.0 L849.8,693.0 L850.8,693.1 L851.8,693.2 L852.7,693.3 L853.7,693.5 L854.7,693.6 L855.7,693.8 L856.7,694.1 L857.7,694.3 L858.7,694.5 L859.7,694.8 L860.6,695.0 L861.6,695.3 L862.6,695.5 L863.5,695.8 L864.4,696.1 L865.4,696.4 L866.3,696.8 L867.2,697.2 L868.1,697.6 L869.0,698.0 L869.9,698.5 L870.8,698.9 L871.7,699.4 L872.7,699.8 L873.6,700.3 L874.5,700.7 L875.4,701.1 L876.3,701.5 L877.2,701.9 L878.2,702.3 L879.1,702.6 L880.0,703.0 L881.0,703.3 L881.9,703.7 L882.8,704.0 L883.8,704.4 L884.7,704.7 L885.7,705.0 L886.6,705.4 L887.6,705.7 L888.5,706.0 L889.5,706.3 L890.4,706.6 L891.4,706.9 L892.3,707.2 L893.3,707.5 L894.2,707.8 L895.2,708.1 L896.2,708.3 L897.1,708.6 L898.1,708.8 L899.1,709.1 L900.0,709.3 L901.0,709.6 L902.0,709.8 L903.0,710.1 L903.9,710.3 L904.9,710.5 L905.9,710.7 L906.9,710.9 L907.8,711.2 L908.8,711.4 L909.8,711.6 L910.8,711.8 L911.8,711.9 L912.8,712.1 L913.7,712.3 L914.7,712.5 L915.7,712.6 L916.7,712.8 L917.7,712.9 L918.7,713.1 L919.6,713.2 L920.6,713.4 L921.6,713.5 L922.6,713.7 L923.6,713.8 L924.6,713.9 L925.6,714.1 L926.6,714.2 L927.6,714.3 L928.6,714.4 L929.6,714.6 L930.6,714.7 L931.6,714.8 L932.6,714.9 L933.6,715.0 L934.6,715.1 L935.5,715.2 L936.5,715.3 L937.5,715.3 L938.5,715.4 L939.5,715.5 L940.5,715.5 L941.5,715.6 L942.5,715.7 L943.5,715.7 L944.5,715.8 L945.5,715.8 L946.5,715.9 L947.5,715.9 L948.5,716.0 L949.5,716.0 L950.5,716.1 L951.5,716.1 L952.5,716.2 L953.5,716.2 L954.5,716.3 L955.5,716.3 L956.5,716.3 L957.5,716.4 L958.5,716.4 L959.5,716.4 L960.5,716.5 L961.5,716.5 L962.5,716.5 L963.5,716.5 L964.5,716.5 L965.5,716.5 L966.5,716.5 L967.5,716.5 L968.5,716.5 L969.5,716.5 L970.5,716.5 L971.5,716.5 L972.5,716.5 L973.5,716.5 L974.5,716.5 L975.5,716.4 L976.5,716.4 L977.5,716.4 L978.5,716.4 L979.5,716.4 L980.5,716.4 L981.5,716.4 L982.5,716.4 L983.5,716.4 L984.5,716.3 L985.5,716.3 L986.5,716.3 L987.5,716.3 L988.5,716.3 L989.5,716.3 L990.5,716.2 L991.5,716.2 L992.5,716.2 L993.5,716.2 L994.5,716.1 L995.5,716.1 L996.5,716.1 L997.5,716.0 L998.5,716.0 L999.5,715.9 L1000.5,715.9 L1001.5,715.8 L1002.5,715.8 L1003.5,715.7 L1004.5,715.7 L1005.5,715.6 L1006.5,715.5 L1007.5,715.5 L1008.5,715.4 L1009.5,715.4 L1010.5,715.3 L1011.5,715.2 L1012.5,715.2 L1013.5,715.1 L1014.5,715.0 L1015.5,715.0 L1016.5,714.9 L1017.5,714.8 L1018.5,714.8 L1019.5,714.7 L1020.5,714.6 L1021.5,714.5 L1022.5,714.5 L1023.5,714.4 L1024.5,714.3 L1025.5,714.2 L1026.5,714.1 L1027.5,714.0 L1028.5,713.9 L1029.5,713.8 L1030.4,713.7 L1031.4,713.6 L1032.4,713.5 L1033.4,713.3 L1034.4,713.2 L1035.4,713.0 L1036.3,712.9 L1037.3,712.7 L1038.3,712.5 L1039.3,712.3 L1040.3,712.1 L1041.2,711.8 L1042.2,711.6 L1043.2,711.3 L1044.2,711.1 L1045.1,710.8 L1046.1,710.6 L1047.1,710.3 L1048.0,710.0 L1049.0,709.7 L1050.0,709.5 L1050.9,709.2 L1051.9,708.9 L1052.8,708.6 L1053.8,708.3 L1054.8,708.1 L1055.7,707.8 L1056.7,707.5 L1057.6,707.2 L1058.6,706.9 L1059.5,706.6 L1060.5,706.3 L1061.4,706.0 L1062.4,705.7 L1063.3,705.3 L1064.3,705.0 L1065.2,704.7 L1066.2,704.3 L1067.1,704.0 L1068.0,703.7 L1069.0,703.3 L1069.9,703.0 L1070.9,702.7 L1071.8,702.3 L1072.8,702.0 L1073.7,701.7 L1074.7,701.4 L1075.6,701.0 L1076.6,700.7 L1077.5,700.4 L1078.5,700.0 L1079.4,699.7 L1080.3,699.3 L1081.3,699.0 L1082.2,698.6 L1083.2,698.3 L1084.1,697.9 L1085.1,697.6 L1086.0,697.2 L1087.0,696.9 L1087.9,696.6 L1088.9,696.4 L1089.8,696.1 L1090.8,695.9 L1091.8,695.7 L1092.7,695.5 L1093.7,695.3 L1094.7,695.1 L1095.7,694.9 L1096.7,694.8 L1097.6,694.6 L1098.6,694.4 L1099.6,694.3 L1100.6,694.2 L1101.6,694.0 L1102.6,693.9 L1103.6,693.9 L1104.6,693.8 L1105.6,693.8 L1106.6,693.8 L1107.6,693.8 L1108.6,693.8 L1109.6,693.9 L1110.6,694.0 L1111.6,694.1 L1112.6,694.3 L1113.6,694.4 L1114.6,694.6 L1115.6,694.7 L1116.6,694.9 L1117.5,695.1 L1118.5,695.2 L1119.5,695.4 L1120.5,695.6 L1121.5,695.8 L1122.4,696.0 L1123.4,696.2 L1124.4,696.5 L1125.3,696.7 L1126.3,697.0 L1127.3,697.3 L1128.2,697.5 L1129.2,697.8 L1130.1,698.1 L1131.1,698.4 L1132.1,698.7 L1133.0,699.1 L1134.0,699.4 L1134.9,699.7 L1135.9,700.0 L1136.8,700.3 L1137.8,700.6 L1138.7,700.9 L1139.7,701.2 L1140.7,701.4 L1141.6,701.7 L1142.6,702.0 L1143.5,702.3 L1144.5,702.6 L1145.5,702.9 L1146.4,703.2 L1147.4,703.5 L1148.3,703.8 L1149.3,704.1 L1150.2,704.4 L1151.2,704.7 L1152.2,704.9 L1153.1,705.2 L1154.1,705.5 L1155.1,705.8 L1156.0,706.0 L1157.0,706.3 L1157.9,706.5 L1158.9,706.7 L1159.9,707.0 L1160.9,707.2 L1161.8,707.4 L1162.8,707.6 L1163.8,707.8 L1164.8,708.0 L1165.8,708.2 L1166.7,708.4 L1167.7,708.6 L1168.7,708.8 L1169.7,709.0 L1170.7,709.2 L1171.7,709.4 L1172.7,709.5 L1173.6,709.7 L1174.6,709.8 L1175.6,710.0 L1176.6,710.1 L1177.6,710.2 L1178.6,710.4 L1179.6,710.5 L1180.6,710.6 L1181.6,710.6 L1182.6,710.7 L1183.6,710.8 L1184.6,710.9 L1185.5,711.0 L1186.5,711.1 L1187.5,711.2 L1188.5,711.2 L1189.5,711.3 L1190.5,711.4 L1191.5,711.5 L1192.5,711.5 L1193.5,711.6 L1194.5,711.7 L1195.5,711.7 L1196.5,711.8 L1197.5,711.8 L1198.5,711.9 L1199.5,711.9 L1200.5,711.9 L1201.5,712.0 L1202.5,712.0 L1203.5,712.0 L1204.5,712.0 L1205.5,712.0 L1206.5,712.0 L1207.5,712.0 L1208.5,712.0 L1209.5,712.0 L1210.5,712.0 L1211.5,712.0 L1212.5,712.0 L1213.5,712.0 L1214.5,712.0 L1215.5,712.0 L1216.5,712.0 L1217.5,712.0 L1218.5,712.0 L1219.5,712.0 L1220.5,712.0 L1221.5,712.0 L1222.5,712.0 L1223.5,712.0 L1224.5,712.0 L1225.5,712.0 L1226.5,712.0 L1227.5,712.0 L1228.5,712.0 L1229.5,712.0 L1230.5,712.0 L1231.5,712.0 L1232.5,712.0 L1233.5,712.0 L1234.5,712.0 L1235.5,712.0 L1236.5,712.0 L1237.5,712.0 L1238.5,712.0 L1239.5,712.0 L1240.5,712.0 L1241.5,712.0 L1242.5,712.0 L1243.5,712.0 L1244.5,712.0 L1245.5,712.0 L1246.5,711.9 L1247.5,711.9 L1248.5,711.9 L1249.5,711.8 L1250.5,711.8 L1251.5,711.7 L1252.5,711.7 L1253.5,711.6 L1254.5,711.5 L1255.5,711.5 L1256.5,711.4 L1257.5,711.3 L1258.5,711.2 L1259.5,711.2 L1260.5,711.1 L1261.5,711.0 L1262.5,710.9 L1263.5,710.8 L1264.5,710.8 L1265.5,710.7 L1266.5,710.6 L1267.5,710.5 L1268.5,710.4 L1269.5,710.3 L1270.5,710.2 L1271.5,710.1 L1272.5,710.0 L1273.5,709.9 L1274.5,709.8 L1275.4,709.7 L1276.4,709.5 L1277.4,709.4 L1278.4,709.3 L1279.4,709.1 L1280.4,709.0 L1281.4,708.8 L1282.4,708.7 L1283.4,708.5 L1284.4,708.4 L1285.4,708.2 L1286.3,708.1 L1287.3,707.9 L1288.3,707.7 L1289.3,707.6 L1290.3,707.4 L1291.3,707.2 L1292.3,707.0 L1293.2,706.9 L1294.2,706.7 L1295.2,706.5 L1296.2,706.3 L1297.2,706.1 L1298.1,705.9 L1299.1,705.7 L1300.1,705.4 L1301.1,705.2 L1302.1,705.0 L1303.0,704.7 L1304.0,704.5 L1305.0,704.2 L1306.0,704.0 L1306.9,703.7 L1307.9,703.4 L1308.8,703.1 L1309.8,702.9 L1310.7,702.6 L1311.7,702.3 L1312.6,701.9 L1313.6,701.6 L1314.5,701.3 L1315.4,700.9 L1316.3,700.6 L1317.3,700.2 L1318.2,699.8 L1319.1,699.4 L1320.0,698.9 L1320.9,698.5 L1321.8,698.1 L1322.7,697.6 L1323.6,697.2 L1324.5,696.7 L1325.4,696.2 L1326.3,695.8 L1327.2,695.3 L1328.1,694.8 L1328.9,694.3 L1329.8,693.8 L1330.7,693.4 L1331.5,692.9 L1332.4,692.4 L1333.2,691.8 L1334.1,691.3 L1334.9,690.7 L1335.8,690.2 L1336.6,689.6 L1337.4,689.1 L1338.3,688.5 L1339.1,687.9 L1339.9,687.4 L1340.7,686.8 L1341.6,686.2 L1342.4,685.7 L1343.2,685.1 L1344.1,684.6 L1344.9,684.0 L1345.8,683.5 L1346.6,683.0 L1347.5,682.5 L1348.4,682.0 L1349.2,681.5 L1350.1,681.0 L1351.0,680.5 L1351.8,680.0 L1352.7,679.5 L1353.6,679.0 L1354.5,678.5 L1355.4,678.0 L1356.3,677.5 L1357.2,677.1 L1358.1,676.6 L1359.0,676.2 L1359.9,675.9 L1360.8,675.5 L1361.8,675.2 L1362.7,675.0 L1363.7,674.7 L1364.6,674.4 L1365.6,674.2 L1366.6,673.9 L1367.5,673.7 L1368.5,673.5 L1369.5,673.3 L1370.5,673.1 L1371.5,672.9 L1372.5,672.8 L1373.5,672.7 L1374.5,672.6 L1375.5,672.5 L1376.5,672.5 L1377.5,672.6 L1378.4,672.7 L1379.4,672.8 L1380.4,673.0 L1381.4,673.3 L1382.4,673.5 L1383.3,673.8 L1384.3,674.1 L1385.3,674.5 L1386.2,674.8 L1387.2,675.2 L1388.1,675.5 L1389.1,675.9 L1390.0,676.3 L1390.9,676.6 L1391.8,677.0 L1392.7,677.4 L1393.6,677.9 L1394.4,678.4 L1395.3,678.9 L1396.2,679.4 L1397.1,679.9 L1397.9,680.4 L1398.8,681.0 L1399.6,681.5 L1400.5,682.1 L1401.3,682.6 L1402.2,683.1 L1403.0,683.6 L1403.9,684.2 L1404.7,684.7 L1405.6,685.3 L1406.4,685.8 L1407.2,686.4 L1408.0,687.0 L1408.9,687.5 L1409.7,688.1 L1410.5,688.7 L1411.3,689.2 L1412.2,689.8 L1413.0,690.3 L1413.8,690.9 L1414.7,691.4 L1415.5,692.0 L1416.4,692.5 L1417.2,693.0 L1418.1,693.5 L1418.9,694.0 L1419.8,694.5 L1420.7,695.0 L1421.5,695.5 L1422.4,696.0 L1423.3,696.5 L1424.2,697.0 L1425.1,697.5 L1425.9,697.9 L1426.8,698.4 L1427.7,698.9 L1428.6,699.3 L1429.5,699.7 L1430.4,700.2 L1431.3,700.6 L1432.2,701.0 L1433.2,701.4 L1434.1,701.8 L1435.0,702.1 L1435.9,702.5 L1436.8,702.9 L1437.8,703.2 L1438.7,703.6 L1439.7,703.9 L1440.6,704.3 L1441.5,704.6 L1442.5,704.9 L1443.4,705.2 L1444.4,705.6 L1445.3,705.9 L1446.3,706.2 L1447.3,706.5 L1448.2,706.8 L1449.2,707.1 L1450.1,707.3 L1451.1,707.6 L1452.1,707.9 L1453.0,708.1 L1454.0,708.4 L1455.0,708.6 L1455.9,708.9 L1456.9,709.1 L1457.9,709.4 L1458.8,709.6 L1459.8,709.8 L1460.8,710.1 L1461.8,710.3 L1462.7,710.5 L1463.7,710.7 L1464.7,710.9 L1465.7,711.1 L1466.7,711.3 L1467.6,711.5 L1468.6,711.7 L1469.6,711.9 L1470.6,712.1 L1471.6,712.3 L1472.6,712.5 L1473.5,712.7 L1474.5,712.9 L1475.5,713.0 L1476.5,713.2 L1477.5,713.4 L1478.5,713.6 L1479.4,713.8 L1480.4,713.9 L1481.4,714.1 L1482.4,714.3 L1483.4,714.5 L1484.4,714.6 L1485.3,714.8 L1486.3,715.0 L1487.3,715.2 L1488.3,715.3 L1489.3,715.5 L1490.3,715.7 L1491.3,715.8 L1492.3,716.0 L1493.2,716.1 L1494.2,716.3 L1495.2,716.4 L1496.2,716.6 L1497.2,716.7 L1498.2,716.8 L1499.2,717.0 L1500.2,717.1 L1501.2,717.2 L1502.2,717.3 L1503.2,717.5 L1504.1,717.6 L1505.1,717.7 L1506.1,717.8 L1507.1,717.9 L1508.1,718.0 L1509.1,718.1 L1510.1,718.2 L1511.1,718.3 L1512.1,718.3 L1513.1,718.4 L1514.1,718.5 L1515.1,718.6 L1516.1,718.7 L1517.1,718.8 L1518.1,718.8 L1519.1,718.9 L1520.1,719.0 L1521.1,719.1 L1522.1,719.2 L1523.1,719.2 L1524.1,719.3 L1525.1,719.4 L1526.1,719.4 L1527.1,719.5 L1528.1,719.6 L1529.1,719.7 L1530.1,719.7 L1531.1,719.8 L1532.1,719.9 L1533.0,719.9 L1534.0,720.0 L1535.0,720.1 L1536.0,720.1 L1537.0,720.2 L1538.0,720.3 L1539.0,720.4 L1540.0,720.4 L1541.0,720.5 L1542.0,720.6 L1543.0,720.6 L1544.0,720.7 L1545.0,720.8 L1546.0,720.9 L1547.0,720.9 L1548.0,721.0 L1549.0,721.1 L1550.0,721.2 L1551.0,721.2 L1552.0,721.3 L1553.0,721.4 L1554.0,721.5 L1555.0,721.5 L1556.0,721.6 L1557.0,721.7 L1558.0,721.8 L1559.0,721.8 L1560.0,721.9 L1561.0,722.0 L1562.0,722.0 L1563.0,722.1 L1564.0,722.2 L1565.0,722.2 L1566.0,722.3 L1567.0,722.4 L1568.0,722.4 L1569.0,722.5 L1570.0,722.6 L1571.0,722.6 L1572.0,722.7 L1573.0,722.7 L1574.0,722.8 L1575.0,722.8 L1576.0,722.9 L1577.0,722.9 L1577.9,723.0 L1578.9,723.0 L1579.9,723.1 L1580.9,723.1 L1581.9,723.2 L1582.9,723.2 L1583.9,723.2 L1584.9,723.3 L1585.9,723.3 L1586.9,723.4 L1587.9,723.4 L1588.9,723.5 L1589.9,723.5 L1590.9,723.5 L1591.9,723.6 L1592.9,723.6 L1593.9,723.7 L1594.9,723.7 L1595.9,723.7 L1596.9,723.8 L1597.9,723.8 L1598.9,723.9 L1599.9,723.9 L1600.9,723.9 L1601.9,724.0 L1602.9,724.0 L1603.9,724.0 L1604.9,724.0 L1605.9,724.1 L1606.9,724.1 L1607.9,724.1 L1608.9,724.1 L1609.9,724.2 L1610.9,724.2 L1611.9,724.2 L1612.9,724.2 L1613.9,724.2 L1614.9,724.2 L1615.9,724.2 L1616.9,724.3 L1617.9,724.3 L1618.9,724.3 L1619.9,724.3 L1620.9,724.3 L1621.9,724.3 L1622.9,724.3 L1623.9,724.3 L1624.9,724.3 L1625.9,724.3 L1626.9,724.3 L1627.9,724.3 L1628.9,724.4 L1629.9,724.4 L1630.9,724.4 L1631.9,724.4 L1632.9,724.4 L1633.9,724.4 L1634.9,724.4 L1635.9,724.4 L1636.9,724.4 L1637.9,724.4 L1638.9,724.4 L1639.9,724.4 L1640.9,724.4 L1641.9,724.4 L1642.9,724.4 L1643.9,724.4 L1644.9,724.5 L1645.9,724.5 L1646.9,724.5 L1647.9,724.5 L1648.9,724.5 L1649.9,724.5 L1650.9,724.5 L1651.9,724.5 L1652.9,724.5 L1653.9,724.5 L1654.9,724.5 L1655.9,724.5 L1656.9,724.5 L1657.9,724.5 L1658.9,724.5 L1659.9,724.5 L1660.9,724.5 L1661.9,724.5 L1662.9,724.5 L1663.9,724.5 L1664.9,724.5 L1665.9,724.5 L1666.9,724.5 L1667.9,724.5 L1668.9,724.5 L1669.9,724.5 L1670.9,724.5 L1671.9,724.4 L1672.9,724.4 L1673.9,724.4 L1674.9,724.4 L1675.9,724.4 L1676.9,724.3 L1677.9,724.3 L1678.9,724.3 L1679.9,724.3 L1680.9,724.2 L1681.9,724.2 L1682.9,724.2 L1683.9,724.1 L1684.9,724.1 L1685.9,724.1 L1686.9,724.1 L1687.9,724.0 L1688.9,724.0 L1689.9,724.0 L1690.9,723.9 L1691.9,723.9 L1692.9,723.9 L1693.9,723.9 L1694.9,723.9 L1695.9,723.8 L1696.9,723.8 L1697.9,723.8 L1698.9,723.8 L1699.9,723.8 L1700.9,723.8 L1701.9,723.8 L1702.9,723.8 L1703.9,723.8 L1704.9,723.8 L1705.9,723.8 L1706.9,723.8 L1707.9,723.8 L1708.9,723.8 L1709.9,723.8 L1710.9,723.8 L1711.9,723.8 L1712.9,723.8 L1713.9,723.8 L1714.9,723.8 L1715.9,723.8 L1716.9,723.8 L1717.9,723.8 L1718.9,723.8 L1719.9,723.8 L1720.9,723.8 L1721.9,723.8 L1722.9,723.8 L1723.9,723.8 L1724.9,723.8 L1725.9,723.8 L1726.9,723.8 L1727.9,723.8 L1728.8,723.8 L1729.5,723.8 L1729.9,723.8" stroke="#009300"/>
</g>
<g fill="#000">
<rect x="147" y="25" width="6" height="1280"/>
<rect x="1725" y="25" width="7" height="1280"/>
<rect x="147" y="25" width="1585" height="7"/>
<rect x="147" y="1299" width="1585" height="6"/>
<rect x="418.0" y="1304" width="5" height="23"/>
<rect x="854.0" y="1304" width="5" height="23"/>
<rect x="1290.0" y="1304" width="5" height="23"/>
<rect x="1726.0" y="1304" width="5" height="23"/>
<rect x="201" y="1304" width="4" height="10"/>
<rect x="637" y="1304" width="4" height="10"/>
<rect x="1073" y="1304" width="4" height="10"/>
<rect x="1509" y="1304" width="4" height="10"/>
</g>
<g font-family="'Liberation Serif', serif" font-weight="bold" font-size="56" text-anchor="middle" fill="#000">
<text x="420.5" y="1385">200</text>
<text x="856.5" y="1385">400</text>
<text x="1292.5" y="1385">600</text>
<text x="1728.5" y="1385">800</text>
</g>
<text x="652.8" y="1463.5" font-family="'Liberation Serif', serif" font-weight="bold" font-size="66.5" fill="#000">Wavenumber (cm<tspan font-size="44.4" dy="-26.5">-1</tspan><tspan dy="26.5">)</tspan></text>
<text transform="translate(63,665.4) rotate(-90)" text-anchor="middle" font-family="'Liberation Serif', serif" font-weight="bold" font-size="66.67" fill="#000">Intensity (a.u.)</text>
<line x1="1243" y1="82.0" x2="1390" y2="82.0" stroke="#009300" stroke-width="6" stroke-linecap="round"/>
<text x="1404.0" y="103.8" font-family="'Liberation Serif', serif" font-weight="bold" font-size="54.4" fill="#000">Cu-Fe-TiO<tspan dy="18">2</tspan></text>
<line x1="1243" y1="181.2" x2="1390" y2="181.2" stroke="#ff0000" stroke-width="6" stroke-linecap="round"/>
<text x="1404.0" y="203.0" font-family="'Liberation Serif', serif" font-weight="bold" font-size="54.4" fill="#000">Cu-TiO<tspan dy="18">2</tspan></text>
<line x1="1243" y1="280.4" x2="1390" y2="280.4" stroke="#ff8000" stroke-width="6" stroke-linecap="round"/>
<text x="1405.3" y="302.2" font-family="'Liberation Serif', serif" font-weight="bold" font-size="54.4" fill="#000">Fe-TiO<tspan dy="18">2</tspan></text>
<line x1="1243" y1="379.6" x2="1390" y2="379.6" stroke="#2038ff" stroke-width="6" stroke-linecap="round"/>
<text x="1405.3" y="401.4" font-family="'Liberation Serif', serif" font-weight="bold" font-size="54.4" fill="#000">Pure-TiO<tspan dy="18">2</tspan></text>
<rect x="546" y="69" width="311" height="497" fill="#fff" stroke="none"/>
<g clip-path="url(#ci)" shape-rendering="crispEdges" fill="none" stroke-width="5.6" stroke-linejoin="round">
<path d="M546.4,506.5 L547.0,506.2 L547.8,505.9 L548.7,505.5 L549.7,505.1 L550.6,504.7 L551.5,504.2 L552.4,503.8 L553.3,503.4 L554.2,503.0 L555.1,502.6 L556.1,502.2 L557.0,501.8 L557.9,501.3 L558.7,500.9 L559.6,500.4 L560.5,499.9 L561.4,499.4 L562.2,498.9 L563.1,498.4 L563.9,497.9 L564.8,497.3 L565.6,496.8 L566.5,496.2 L567.3,495.7 L568.1,495.1 L568.9,494.5 L569.7,493.9 L570.5,493.3 L571.3,492.7 L572.1,492.1 L572.9,491.5 L573.6,490.8 L574.3,490.2 L575.1,489.5 L575.8,488.8 L576.5,488.1 L577.2,487.4 L577.9,486.7 L578.6,485.9 L579.3,485.2 L580.0,484.5 L580.7,483.8 L581.4,483.0 L582.1,482.3 L582.8,481.6 L583.5,480.8 L584.2,480.1 L584.9,479.4 L585.6,478.7 L586.3,478.0 L587.0,477.3 L587.7,476.5 L588.3,475.8 L589.0,475.1 L589.7,474.4 L590.4,473.6 L591.1,472.9 L591.8,472.2 L592.5,471.5 L593.2,470.8 L593.9,470.0 L594.6,469.3 L595.3,468.6 L596.0,467.9 L596.7,467.2 L597.4,466.5 L598.1,465.8 L598.8,465.0 L599.5,464.3 L600.2,463.6 L600.9,462.9 L601.6,462.1 L602.3,461.4 L603.0,460.7 L603.7,460.0 L604.5,459.3 L605.2,458.7 L605.9,458.0 L606.7,457.4 L607.5,456.7 L608.2,456.1 L609.0,455.5 L609.8,454.9 L610.6,454.4 L611.5,453.8 L612.3,453.2 L613.2,452.7 L614.0,452.2 L614.9,451.6 L615.7,451.1 L616.6,450.6 L617.5,450.1 L618.3,449.7 L619.2,449.2 L620.1,448.7 L621.0,448.2 L621.9,447.8 L622.8,447.3 L623.7,446.9 L624.6,446.5 L625.5,446.1 L626.5,445.7 L627.4,445.4 L628.3,445.0 L629.3,444.7 L630.2,444.4 L631.2,444.1 L632.2,443.8 L633.1,443.6 L634.1,443.3 L635.1,443.1 L636.1,442.9 L637.1,442.8 L638.1,442.7 L639.0,442.7 L640.0,442.6 L641.0,442.6 L642.0,442.6 L643.0,442.5 L644.0,442.5 L645.0,442.5 L646.0,442.5 L647.0,442.5 L648.0,442.5 L649.0,442.5 L650.0,442.5 L651.0,442.5 L652.0,442.5 L653.0,442.5 L654.0,442.5 L655.0,442.5 L656.0,442.5 L657.0,442.5 L658.0,442.5 L659.0,442.5 L660.0,442.5 L661.0,442.5 L662.0,442.5 L663.0,442.5 L664.0,442.5 L665.0,442.5 L666.0,442.5 L667.0,442.5 L668.0,442.5 L669.0,442.5 L670.0,442.5 L671.0,442.5 L672.0,442.5 L673.0,442.5 L674.0,442.5 L675.0,442.5 L676.0,442.5 L677.0,442.5 L678.0,442.5 L679.0,442.5 L680.0,442.5 L681.0,442.5 L682.1,442.5 L683.1,442.5 L684.1,442.5 L685.1,442.5 L686.1,442.5 L687.1,442.5 L688.1,442.5 L689.1,442.5 L690.1,442.5 L691.1,442.5 L692.1,442.5 L693.1,442.5 L694.1,442.5 L695.1,442.5 L696.1,442.5 L697.1,442.5 L698.1,442.5 L699.1,442.5 L700.1,442.5 L701.1,442.5 L702.1,442.5 L703.1,442.5 L704.1,442.5 L705.1,442.5 L706.1,442.5 L707.1,442.5 L708.1,442.5 L709.1,442.5 L710.0,442.5 L711.0,442.6 L712.0,442.7 L713.0,442.8 L714.0,443.0 L715.0,443.2 L716.0,443.5 L716.9,443.7 L717.9,444.0 L718.8,444.3 L719.8,444.7 L720.7,445.0 L721.6,445.4 L722.5,445.9 L723.4,446.4 L724.3,446.9 L725.1,447.4 L726.0,447.9 L726.9,448.4 L727.7,448.9 L728.6,449.4 L729.4,450.0 L730.3,450.5 L731.1,451.0 L732.0,451.6 L732.8,452.2 L733.6,452.7 L734.4,453.3 L735.2,453.9 L736.0,454.5 L736.8,455.1 L737.6,455.7 L738.4,456.4 L739.2,457.0 L739.9,457.6 L740.7,458.3 L741.5,458.9 L742.2,459.6 L743.0,460.2 L743.7,460.9 L744.4,461.6 L745.2,462.3 L745.9,463.0 L746.6,463.6 L747.4,464.3 L748.1,465.0 L748.8,465.7 L749.5,466.4 L750.3,467.1 L751.0,467.8 L751.7,468.5 L752.4,469.2 L753.1,470.0 L753.8,470.7 L754.5,471.4 L755.2,472.1 L755.9,472.8 L756.6,473.5 L757.3,474.2 L758.0,474.9 L758.7,475.6 L759.5,476.3 L760.2,477.0 L760.9,477.6 L761.7,478.3 L762.4,479.0 L763.1,479.7 L763.9,480.3 L764.6,481.0 L765.4,481.7 L766.1,482.3 L766.9,483.0 L767.6,483.6 L768.4,484.3 L769.2,484.9 L769.9,485.6 L770.7,486.3 L771.4,487.0 L772.2,487.6 L772.9,488.3 L773.7,489.0 L774.4,489.6 L775.2,490.3 L776.0,490.9 L776.7,491.5 L777.5,492.2 L778.3,492.8 L779.1,493.3 L779.9,493.9 L780.7,494.5 L781.6,495.0 L782.4,495.5 L783.3,496.1 L784.1,496.6 L785.0,497.1 L785.9,497.6 L786.7,498.0 L787.6,498.5 L788.5,499.0 L789.4,499.4 L790.3,499.9 L791.2,500.3 L792.1,500.8 L793.0,501.2 L793.9,501.6 L794.8,502.0 L795.7,502.4 L796.6,502.9 L797.6,503.3 L798.5,503.7 L799.4,504.0 L800.3,504.4 L801.3,504.8 L802.2,505.2 L803.1,505.5 L804.1,505.9 L805.0,506.3 L805.9,506.6 L806.9,507.0 L807.8,507.3 L808.7,507.6 L809.7,508.0 L810.6,508.3 L811.6,508.6 L812.5,509.0 L813.5,509.3 L814.4,509.6 L815.4,509.9 L816.3,510.2 L817.3,510.5 L818.2,510.8 L819.2,511.1 L820.1,511.4 L821.1,511.7 L822.1,512.0 L823.0,512.2 L824.0,512.5 L824.9,512.8 L825.9,513.1 L826.9,513.3 L827.8,513.6 L828.8,513.9 L829.8,514.1 L830.7,514.4 L831.7,514.7 L832.7,514.9 L833.6,515.2 L834.6,515.4 L835.6,515.7 L836.5,515.9 L837.5,516.1 L838.5,516.4 L839.5,516.6 L840.4,516.8 L841.4,517.0 L842.4,517.2 L843.4,517.4 L844.4,517.6 L845.3,517.7 L846.3,517.9 L847.3,518.1 L848.3,518.2 L849.3,518.4 L850.3,518.5 L851.3,518.7 L852.3,518.8 L853.3,519.0 L854.2,519.1 L855.2,519.3 L856.0,519.4 L856.6,519.4" stroke="#2038ff"/>
<path d="M546.4,413.3 L547.1,413.2 L548.0,413.1 L549.0,413.0 L550.0,412.9 L551.0,412.8 L552.0,412.7 L553.0,412.6 L554.0,412.5 L555.0,412.3 L555.9,412.2 L556.9,412.1 L557.9,412.0 L558.9,411.9 L559.9,411.8 L560.9,411.7 L561.9,411.5 L562.9,411.4 L563.9,411.3 L564.9,411.2 L565.9,411.1 L566.9,410.9 L567.9,410.8 L568.8,410.7 L569.8,410.5 L570.8,410.4 L571.8,410.2 L572.8,410.1 L573.8,410.0 L574.8,409.8 L575.8,409.7 L576.8,409.5 L577.8,409.3 L578.7,409.2 L579.7,409.0 L580.7,408.9 L581.7,408.7 L582.7,408.5 L583.7,408.3 L584.7,408.2 L585.6,408.0 L586.6,407.8 L587.6,407.6 L588.6,407.4 L589.6,407.2 L590.5,407.0 L591.5,406.8 L592.5,406.6 L593.5,406.4 L594.4,406.1 L595.4,405.9 L596.4,405.7 L597.4,405.4 L598.3,405.2 L599.3,404.9 L600.3,404.7 L601.2,404.4 L602.2,404.1 L603.2,403.8 L604.1,403.6 L605.1,403.3 L606.0,403.0 L607.0,402.7 L608.0,402.4 L608.9,402.1 L609.8,401.8 L610.8,401.5 L611.7,401.1 L612.7,400.8 L613.6,400.5 L614.6,400.1 L615.5,399.8 L616.4,399.4 L617.4,399.0 L618.3,398.6 L619.2,398.2 L620.1,397.8 L621.1,397.4 L622.0,397.0 L622.9,396.6 L623.8,396.2 L624.7,395.8 L625.6,395.3 L626.5,394.9 L627.4,394.5 L628.2,394.0 L629.1,393.5 L630.0,393.0 L630.8,392.5 L631.7,392.0 L632.6,391.5 L633.4,390.9 L634.3,390.4 L635.1,389.9 L636.0,389.3 L636.8,388.8 L637.7,388.3 L638.5,387.8 L639.4,387.3 L640.2,386.7 L641.1,386.3 L642.0,385.8 L642.9,385.3 L643.7,384.8 L644.6,384.3 L645.5,383.8 L646.4,383.3 L647.3,382.9 L648.2,382.4 L649.0,381.9 L649.9,381.4 L650.8,381.0 L651.7,380.5 L652.6,380.1 L653.5,379.6 L654.4,379.2 L655.3,378.8 L656.3,378.4 L657.2,378.1 L658.1,377.7 L659.0,377.4 L660.0,377.1 L660.9,376.8 L661.9,376.5 L662.9,376.2 L663.8,375.9 L664.8,375.6 L665.8,375.3 L666.7,375.1 L667.7,374.9 L668.7,374.7 L669.7,374.6 L670.7,374.5 L671.7,374.4 L672.6,374.3 L673.6,374.2 L674.6,374.1 L675.6,374.0 L676.7,373.9 L677.7,373.9 L678.7,373.8 L679.7,373.8 L680.7,373.7 L681.6,373.7 L682.6,373.7 L683.6,373.8 L684.6,373.9 L685.6,374.0 L686.6,374.2 L687.6,374.4 L688.6,374.6 L689.6,374.8 L690.5,375.1 L691.5,375.4 L692.5,375.6 L693.4,375.9 L694.4,376.2 L695.3,376.5 L696.3,376.8 L697.2,377.1 L698.2,377.4 L699.1,377.8 L700.0,378.2 L700.9,378.6 L701.9,379.0 L702.8,379.5 L703.7,379.9 L704.6,380.3 L705.5,380.8 L706.4,381.2 L707.3,381.6 L708.2,382.1 L709.0,382.6 L709.9,383.0 L710.8,383.5 L711.7,384.0 L712.5,384.5 L713.4,385.0 L714.2,385.6 L715.1,386.1 L716.0,386.6 L716.8,387.1 L717.7,387.6 L718.5,388.1 L719.4,388.6 L720.3,389.1 L721.1,389.6 L722.0,390.2 L722.9,390.7 L723.7,391.2 L724.6,391.7 L725.4,392.2 L726.3,392.8 L727.2,393.3 L728.0,393.8 L728.9,394.3 L729.7,394.8 L730.6,395.3 L731.5,395.8 L732.4,396.2 L733.3,396.6 L734.2,397.1 L735.1,397.5 L736.0,397.9 L736.9,398.3 L737.8,398.7 L738.7,399.0 L739.7,399.4 L740.6,399.8 L741.5,400.1 L742.5,400.5 L743.4,400.8 L744.4,401.2 L745.3,401.5 L746.3,401.8 L747.2,402.1 L748.2,402.4 L749.1,402.7 L750.1,403.0 L751.0,403.3 L752.0,403.6 L753.0,403.9 L753.9,404.2 L754.9,404.4 L755.8,404.7 L756.8,405.0 L757.8,405.2 L758.7,405.5 L759.7,405.7 L760.7,406.0 L761.7,406.2 L762.6,406.5 L763.6,406.7 L764.6,406.9 L765.6,407.1 L766.5,407.3 L767.5,407.5 L768.5,407.7 L769.5,407.9 L770.5,408.1 L771.4,408.3 L772.4,408.5 L773.4,408.7 L774.4,408.8 L775.4,409.0 L776.4,409.1 L777.4,409.3 L778.3,409.5 L779.3,409.6 L780.3,409.8 L781.3,409.9 L782.3,410.0 L783.3,410.2 L784.3,410.3 L785.3,410.4 L786.3,410.6 L787.3,410.7 L788.3,410.8 L789.2,411.0 L790.2,411.1 L791.2,411.2 L792.2,411.3 L793.2,411.5 L794.2,411.6 L795.2,411.7 L796.2,411.8 L797.2,412.0 L798.2,412.1 L799.2,412.2 L800.2,412.3 L801.2,412.4 L802.2,412.6 L803.1,412.7 L804.1,412.8 L805.1,412.9 L806.1,413.0 L807.1,413.1 L808.1,413.2 L809.1,413.3 L810.1,413.4 L811.1,413.5 L812.1,413.5 L813.1,413.6 L814.1,413.7 L815.1,413.8 L816.1,413.8 L817.1,413.9 L818.1,414.0 L819.1,414.0 L820.1,414.1 L821.1,414.1 L822.1,414.2 L823.1,414.3 L824.1,414.3 L825.1,414.4 L826.1,414.4 L827.1,414.5 L828.1,414.5 L829.1,414.6 L830.1,414.6 L831.1,414.7 L832.1,414.7 L833.1,414.7 L834.1,414.8 L835.1,414.8 L836.1,414.8 L837.1,414.9 L838.1,414.9 L839.1,414.9 L840.1,414.9 L841.1,414.9 L842.1,415.0 L843.1,415.0 L844.1,415.0 L845.1,415.0 L846.1,415.0 L847.1,415.0 L848.1,415.1 L849.1,415.1 L850.1,415.1 L851.1,415.1 L852.1,415.1 L853.1,415.1 L854.1,415.1 L855.0,415.1 L855.9,415.1 L856.6,415.1" stroke="#ff8000"/>
<path d="M546.4,336.4 L547.1,336.2 L547.9,335.9 L548.9,335.6 L549.8,335.3 L550.8,335.0 L551.7,334.8 L552.7,334.5 L553.7,334.2 L554.6,333.9 L555.6,333.6 L556.5,333.3 L557.5,333.0 L558.5,332.7 L559.4,332.3 L560.4,332.0 L561.3,331.7 L562.2,331.4 L563.2,331.0 L564.1,330.7 L565.0,330.3 L565.9,329.9 L566.9,329.5 L567.8,329.1 L568.7,328.7 L569.6,328.3 L570.5,327.9 L571.4,327.4 L572.3,327.0 L573.2,326.5 L574.1,326.1 L575.0,325.6 L575.9,325.1 L576.8,324.6 L577.6,324.1 L578.5,323.6 L579.3,323.0 L580.2,322.5 L581.0,322.0 L581.8,321.4 L582.6,320.8 L583.4,320.3 L584.2,319.7 L585.0,319.0 L585.8,318.4 L586.5,317.8 L587.3,317.1 L588.0,316.4 L588.8,315.7 L589.5,315.0 L590.2,314.3 L590.9,313.6 L591.6,312.9 L592.3,312.2 L593.0,311.4 L593.7,310.7 L594.4,310.0 L595.0,309.2 L595.7,308.5 L596.3,307.7 L596.9,307.0 L597.6,306.2 L598.2,305.4 L598.8,304.6 L599.4,303.8 L600.0,303.0 L600.6,302.2 L601.2,301.4 L601.7,300.5 L602.3,299.7 L602.9,298.9 L603.5,298.1 L604.0,297.2 L604.6,296.4 L605.2,295.6 L605.7,294.7 L606.3,293.9 L606.8,293.1 L607.4,292.3 L608.0,291.4 L608.5,290.6 L609.0,289.7 L609.6,288.9 L610.1,288.1 L610.6,287.2 L611.2,286.4 L611.7,285.5 L612.2,284.7 L612.7,283.8 L613.3,282.9 L613.8,282.1 L614.3,281.2 L614.8,280.4 L615.3,279.5 L615.8,278.7 L616.3,277.8 L616.8,276.9 L617.3,276.1 L617.8,275.2 L618.3,274.3 L618.8,273.4 L619.3,272.6 L619.8,271.7 L620.2,270.8 L620.7,269.9 L621.2,269.0 L621.7,268.2 L622.1,267.3 L622.6,266.4 L623.1,265.5 L623.6,264.6 L624.1,263.8 L624.5,262.9 L625.0,262.0 L625.5,261.2 L626.0,260.3 L626.5,259.4 L627.1,258.6 L627.6,257.7 L628.1,256.9 L628.6,256.0 L629.1,255.1 L629.6,254.3 L630.1,253.4 L630.6,252.5 L631.2,251.7 L631.7,250.8 L632.2,250.0 L632.8,249.1 L633.3,248.3 L633.8,247.5 L634.4,246.6 L635.0,245.8 L635.5,245.0 L636.1,244.2 L636.7,243.4 L637.3,242.6 L637.9,241.8 L638.5,241.0 L639.1,240.2 L639.7,239.4 L640.4,238.6 L641.0,237.8 L641.6,237.0 L642.3,236.3 L643.0,235.5 L643.6,234.8 L644.3,234.1 L645.0,233.3 L645.7,232.6 L646.4,231.9 L647.1,231.2 L647.8,230.5 L648.6,229.8 L649.3,229.2 L650.1,228.5 L650.9,227.8 L651.6,227.2 L652.4,226.5 L653.2,225.9 L654.1,225.4 L654.9,224.9 L655.7,224.4 L656.6,223.9 L657.5,223.5 L658.4,223.0 L659.3,222.6 L660.2,222.2 L661.2,221.9 L662.1,221.5 L663.1,221.2 L664.1,220.9 L665.1,220.7 L666.0,220.6 L667.0,220.4 L668.0,220.3 L669.0,220.2 L670.0,220.1 L671.0,220.0 L672.0,219.9 L673.0,219.9 L674.0,219.8 L675.0,219.8 L676.0,219.7 L677.0,219.7 L678.0,219.7 L679.0,219.8 L680.0,219.9 L681.0,220.0 L682.0,220.2 L683.0,220.4 L684.0,220.6 L684.9,220.8 L685.9,221.1 L686.9,221.3 L687.8,221.6 L688.8,221.9 L689.7,222.2 L690.6,222.6 L691.6,222.9 L692.5,223.4 L693.4,223.8 L694.3,224.3 L695.2,224.8 L696.0,225.3 L696.9,225.8 L697.8,226.3 L698.6,226.9 L699.4,227.4 L700.2,228.0 L701.0,228.6 L701.8,229.2 L702.6,229.9 L703.3,230.5 L704.1,231.2 L704.8,231.9 L705.6,232.6 L706.3,233.3 L707.0,234.0 L707.7,234.7 L708.4,235.4 L709.1,236.1 L709.7,236.9 L710.4,237.6 L711.0,238.4 L711.6,239.2 L712.3,240.0 L712.9,240.8 L713.5,241.6 L714.1,242.4 L714.7,243.2 L715.3,244.0 L715.8,244.8 L716.4,245.6 L717.0,246.5 L717.6,247.3 L718.1,248.1 L718.7,248.9 L719.3,249.8 L719.8,250.6 L720.3,251.4 L720.9,252.3 L721.4,253.1 L722.0,254.0 L722.5,254.8 L723.0,255.7 L723.5,256.5 L724.0,257.4 L724.6,258.2 L725.1,259.1 L725.6,259.9 L726.1,260.8 L726.6,261.7 L727.2,262.5 L727.7,263.4 L728.2,264.2 L728.7,265.1 L729.3,265.9 L729.8,266.8 L730.3,267.6 L730.8,268.5 L731.4,269.3 L731.9,270.2 L732.4,271.0 L732.9,271.9 L733.5,272.7 L734.0,273.6 L734.5,274.4 L735.1,275.3 L735.6,276.1 L736.1,277.0 L736.7,277.8 L737.2,278.6 L737.7,279.5 L738.3,280.3 L738.8,281.2 L739.4,282.0 L739.9,282.8 L740.5,283.7 L741.0,284.5 L741.5,285.4 L742.1,286.2 L742.6,287.0 L743.2,287.9 L743.7,288.7 L744.3,289.6 L744.9,290.4 L745.4,291.2 L746.0,292.0 L746.6,292.8 L747.2,293.6 L747.7,294.4 L748.3,295.2 L748.9,296.0 L749.5,296.8 L750.2,297.6 L750.8,298.4 L751.4,299.2 L752.0,300.0 L752.7,300.8 L753.3,301.6 L753.9,302.3 L754.6,303.1 L755.2,303.9 L755.9,304.6 L756.6,305.4 L757.2,306.1 L757.9,306.8 L758.6,307.6 L759.3,308.3 L760.0,309.0 L760.7,309.7 L761.4,310.4 L762.1,311.1 L762.9,311.7 L763.6,312.4 L764.4,313.1 L765.1,313.7 L765.9,314.4 L766.7,315.0 L767.4,315.7 L768.2,316.3 L769.0,316.9 L769.8,317.5 L770.6,318.1 L771.4,318.7 L772.2,319.3 L773.1,319.8 L773.9,320.4 L774.7,320.9 L775.6,321.4 L776.4,321.9 L777.3,322.5 L778.2,323.0 L779.0,323.5 L779.9,324.0 L780.8,324.4 L781.7,324.9 L782.6,325.4 L783.5,325.8 L784.3,326.3 L785.2,326.8 L786.1,327.2 L787.0,327.7 L787.9,328.1 L788.8,328.5 L789.7,329.0 L790.6,329.4 L791.5,329.8 L792.4,330.2 L793.4,330.6 L794.3,331.0 L795.2,331.4 L796.1,331.8 L797.0,332.2 L798.0,332.6 L798.9,333.0 L799.8,333.3 L800.8,333.7 L801.7,334.1 L802.6,334.4 L803.6,334.8 L804.5,335.1 L805.4,335.5 L806.4,335.8 L807.3,336.2 L808.2,336.5 L809.2,336.9 L810.1,337.2 L811.1,337.5 L812.0,337.8 L813.0,338.2 L813.9,338.5 L814.9,338.8 L815.8,339.1 L816.8,339.3 L817.8,339.6 L818.7,339.9 L819.7,340.1 L820.7,340.4 L821.6,340.6 L822.6,340.9 L823.6,341.1 L824.5,341.3 L825.5,341.5 L826.5,341.7 L827.5,341.9 L828.5,342.1 L829.4,342.3 L830.4,342.5 L831.4,342.7 L832.4,342.9 L833.4,343.1 L834.4,343.2 L835.3,343.4 L836.3,343.6 L837.3,343.7 L838.3,343.9 L839.3,344.0 L840.3,344.2 L841.3,344.3 L842.3,344.4 L843.3,344.6 L844.3,344.7 L845.2,344.8 L846.2,345.0 L847.2,345.1 L848.2,345.2 L849.2,345.3 L850.2,345.4 L851.2,345.5 L852.2,345.6 L853.2,345.7 L854.2,345.8 L855.2,345.9 L856.0,346.0 L856.6,346.1" stroke="#ff0000"/>
<path d="M546.4,250.8 L547.1,250.7 L548.0,250.6 L549.0,250.4 L549.9,250.2 L550.9,250.0 L551.9,249.7 L552.8,249.5 L553.8,249.2 L554.8,249.0 L555.7,248.7 L556.7,248.4 L557.7,248.1 L558.6,247.8 L559.6,247.5 L560.5,247.1 L561.5,246.8 L562.4,246.5 L563.4,246.1 L564.3,245.8 L565.2,245.5 L566.2,245.1 L567.1,244.8 L568.0,244.4 L569.0,244.1 L569.9,243.7 L570.9,243.4 L571.8,243.0 L572.7,242.6 L573.7,242.2 L574.6,241.8 L575.5,241.4 L576.4,241.0 L577.3,240.6 L578.2,240.1 L579.1,239.7 L580.0,239.3 L580.9,238.8 L581.8,238.3 L582.6,237.8 L583.5,237.3 L584.3,236.8 L585.2,236.3 L586.0,235.8 L586.8,235.2 L587.7,234.6 L588.5,234.1 L589.3,233.5 L590.1,232.9 L590.9,232.3 L591.7,231.7 L592.5,231.0 L593.3,230.4 L594.1,229.8 L594.9,229.1 L595.6,228.5 L596.4,227.9 L597.1,227.2 L597.9,226.6 L598.6,225.9 L599.4,225.2 L600.1,224.5 L600.8,223.8 L601.5,223.1 L602.3,222.4 L603.0,221.7 L603.7,221.0 L604.4,220.3 L605.1,219.6 L605.8,218.8 L606.4,218.1 L607.1,217.4 L607.8,216.6 L608.5,215.9 L609.1,215.1 L609.8,214.4 L610.4,213.6 L611.1,212.8 L611.7,212.1 L612.3,211.3 L612.9,210.5 L613.6,209.7 L614.2,208.9 L614.8,208.1 L615.4,207.3 L616.0,206.5 L616.6,205.7 L617.1,204.9 L617.7,204.1 L618.3,203.3 L618.9,202.5 L619.5,201.7 L620.1,200.8 L620.6,200.0 L621.2,199.2 L621.8,198.4 L622.4,197.6 L622.9,196.7 L623.5,195.9 L624.1,195.1 L624.6,194.3 L625.2,193.4 L625.7,192.6 L626.3,191.8 L626.8,190.9 L627.4,190.1 L627.9,189.3 L628.5,188.4 L629.0,187.6 L629.6,186.7 L630.1,185.9 L630.7,185.1 L631.2,184.2 L631.8,183.4 L632.3,182.6 L632.9,181.7 L633.4,180.9 L634.0,180.1 L634.6,179.3 L635.1,178.4 L635.7,177.6 L636.3,176.8 L636.8,176.0 L637.4,175.1 L638.0,174.3 L638.5,173.5 L639.1,172.6 L639.7,171.8 L640.3,171.0 L640.9,170.2 L641.5,169.4 L642.1,168.6 L642.7,167.8 L643.3,167.1 L643.9,166.3 L644.6,165.5 L645.2,164.8 L645.9,164.0 L646.6,163.3 L647.3,162.5 L647.9,161.8 L648.6,161.1 L649.3,160.3 L650.1,159.6 L650.8,158.9 L651.5,158.3 L652.3,157.6 L653.0,157.0 L653.8,156.3 L654.6,155.8 L655.4,155.2 L656.2,154.6 L657.0,154.0 L657.9,153.5 L658.7,153.0 L659.6,152.5 L660.5,152.0 L661.4,151.5 L662.3,151.0 L663.2,150.6 L664.1,150.2 L665.0,149.7 L665.9,149.3 L666.8,148.9 L667.7,148.5 L668.7,148.1 L669.6,147.8 L670.6,147.4 L671.5,147.1 L672.5,146.9 L673.5,146.7 L674.4,146.5 L675.4,146.3 L676.4,146.2 L677.4,146.1 L678.3,146.0 L679.3,145.9 L680.3,145.8 L681.3,145.7 L682.3,145.7 L683.3,145.6 L684.4,145.5 L685.4,145.4 L686.4,145.4 L687.4,145.3 L688.4,145.2 L689.4,145.2 L690.4,145.1 L691.4,145.0 L692.4,144.9 L693.4,144.8 L694.4,144.7 L695.4,144.6 L696.4,144.5 L697.3,144.5 L698.3,144.4 L699.3,144.3 L700.3,144.2 L701.3,144.2 L702.3,144.1 L703.3,144.1 L704.3,144.1 L705.3,144.1 L706.3,144.1 L707.4,144.1 L708.4,144.2 L709.4,144.2 L710.4,144.2 L711.4,144.3 L712.4,144.3 L713.4,144.3 L714.4,144.4 L715.3,144.5 L716.3,144.5 L717.3,144.7 L718.3,144.9 L719.2,145.1 L720.2,145.4 L721.2,145.8 L722.1,146.1 L723.1,146.6 L724.0,147.0 L724.9,147.4 L725.8,147.9 L726.6,148.3 L727.5,148.8 L728.3,149.4 L729.1,149.9 L729.9,150.5 L730.7,151.1 L731.5,151.8 L732.2,152.5 L733.0,153.1 L733.8,153.8 L734.5,154.5 L735.2,155.2 L736.0,155.9 L736.7,156.6 L737.4,157.3 L738.1,158.0 L738.8,158.7 L739.5,159.4 L740.2,160.1 L740.9,160.9 L741.6,161.6 L742.2,162.4 L742.9,163.1 L743.5,163.9 L744.2,164.6 L744.9,165.4 L745.5,166.2 L746.1,166.9 L746.8,167.7 L747.4,168.5 L748.0,169.2 L748.7,170.0 L749.3,170.8 L749.9,171.6 L750.5,172.4 L751.1,173.2 L751.7,174.0 L752.3,174.8 L752.9,175.6 L753.5,176.4 L754.1,177.2 L754.7,178.0 L755.3,178.8 L755.9,179.6 L756.5,180.4 L757.1,181.2 L757.7,182.0 L758.3,182.8 L758.9,183.6 L759.4,184.4 L760.0,185.2 L760.6,186.1 L761.2,186.9 L761.8,187.7 L762.3,188.5 L762.9,189.3 L763.5,190.1 L764.1,191.0 L764.7,191.8 L765.2,192.6 L765.8,193.4 L766.4,194.2 L767.0,195.0 L767.5,195.9 L768.1,196.7 L768.7,197.5 L769.2,198.3 L769.8,199.2 L770.4,200.0 L771.0,200.8 L771.5,201.6 L772.1,202.5 L772.7,203.3 L773.3,204.1 L773.8,204.9 L774.4,205.7 L775.0,206.5 L775.7,207.3 L776.3,208.1 L776.9,208.8 L777.5,209.6 L778.2,210.4 L778.8,211.1 L779.5,211.9 L780.1,212.6 L780.8,213.4 L781.5,214.1 L782.2,214.9 L782.9,215.6 L783.5,216.3 L784.2,217.1 L784.9,217.8 L785.6,218.5 L786.3,219.2 L787.1,219.9 L787.8,220.6 L788.5,221.3 L789.2,222.0 L789.9,222.6 L790.7,223.3 L791.4,224.0 L792.2,224.6 L792.9,225.3 L793.7,226.0 L794.5,226.6 L795.2,227.2 L796.0,227.9 L796.8,228.5 L797.6,229.1 L798.4,229.7 L799.2,230.3 L800.0,230.9 L800.8,231.5 L801.6,232.1 L802.4,232.7 L803.2,233.3 L804.0,233.8 L804.9,234.4 L805.7,234.9 L806.5,235.5 L807.4,236.0 L808.2,236.6 L809.1,237.1 L809.9,237.6 L810.8,238.2 L811.6,238.7 L812.5,239.2 L813.4,239.7 L814.2,240.2 L815.1,240.7 L816.0,241.1 L816.9,241.6 L817.7,242.1 L818.6,242.6 L819.5,243.0 L820.4,243.5 L821.3,243.9 L822.2,244.4 L823.1,244.8 L824.0,245.3 L824.9,245.7 L825.8,246.1 L826.7,246.6 L827.6,247.0 L828.5,247.4 L829.4,247.8 L830.4,248.2 L831.3,248.6 L832.2,248.9 L833.1,249.3 L834.1,249.7 L835.0,250.0 L835.9,250.4 L836.9,250.7 L837.8,251.0 L838.8,251.4 L839.7,251.7 L840.7,252.0 L841.6,252.3 L842.6,252.6 L843.5,253.0 L844.5,253.2 L845.4,253.5 L846.4,253.8 L847.3,254.1 L848.3,254.4 L849.3,254.7 L850.2,254.9 L851.2,255.2 L852.2,255.5 L853.1,255.7 L854.1,256.0 L855.0,256.3 L855.9,256.5 L856.6,256.7 L856.9,256.8" stroke="#009300"/>
</g>
<rect x="546" y="69" width="311" height="497" fill="none" stroke="#000" stroke-width="4"/>
<rect x="674" y="105" width="4" height="460" fill="#ff0080"/>
<g fill="#000">
<rect x="544.70" y="567" width="1.6" height="6"/>
<rect x="570.88" y="567" width="1.2" height="3.2"/>
<rect x="596.65" y="567" width="1.6" height="6"/>
<rect x="648.60" y="567" width="1.6" height="6"/>
<rect x="674.77" y="567" width="1.2" height="3.2"/>
<rect x="700.55" y="567" width="1.6" height="6"/>
<rect x="726.73" y="567" width="1.2" height="3.2"/>
<rect x="752.50" y="567" width="1.6" height="6"/>
<rect x="804.45" y="567" width="1.6" height="6"/>
<rect x="830.62" y="567" width="1.2" height="3.2"/>
<rect x="856.40" y="567" width="1.6" height="6"/>
</g>
<g font-family="'Liberation Serif', serif" font-weight="bold" font-size="27.6" text-anchor="middle" fill="#000">
<text x="546.0" y="599">120</text>
<text x="598.0" y="599">130</text>
<text x="650.0" y="599">140</text>
<text x="702.0" y="599">150</text>
<text x="754.0" y="599">160</text>
<text x="806.0" y="599">170</text>
<text x="858.0" y="599">180</text>
</g>
<text x="558.3" y="138" font-family="'Liberation Serif', serif" font-size="58" fill="#000">E<tspan font-size="38" dy="15">1g</tspan></text>
<path d="M342.1,299.4 L342.9,301.8 L343.6,304.2 L344.3,306.6 L345.0,308.9 L345.7,311.3 L346.4,313.7 L347.0,316.1 L347.7,318.5 L348.3,320.9 L348.9,323.2 L349.5,325.6 L350.1,328.0 L350.6,330.4 M357.2,361.3 L357.6,363.7 L358.1,366.1 L358.5,368.5 L358.9,370.9 L359.4,373.3 L359.8,375.7 L360.2,378.2 L360.6,380.6 L361.0,383.0 L361.4,385.4 L361.8,387.8 L362.2,390.2 L362.5,392.6 M367.0,424.1 L367.4,426.7 L367.7,429.3 L368.0,431.9 L368.3,434.5 L368.7,437.1 L369.0,439.7 L369.3,442.4 L369.6,445.0 L369.9,447.6 L370.2,450.2 L370.5,452.8 L370.8,455.4 L371.0,458.0 M374.1,488.5 L374.3,491.1 L374.5,493.6 L374.8,496.2 L375.0,498.7 L375.2,501.3 L375.4,503.9 L375.6,506.4 L375.8,509.0 L376.0,511.6 L376.2,514.1 L376.4,516.7 L376.6,519.2 L376.8,521.8 M379.0,554.1 L379.2,556.6 L379.4,559.1 L379.5,561.6 L379.6,564.1 L379.8,566.6 L379.9,569.1 L380.1,571.7 L380.2,574.2 L380.3,576.7 L380.5,579.2 L380.6,581.7 L380.7,584.2 L380.8,586.7 M382.2,618.5 L382.3,621.0 L382.4,623.4 L382.5,625.9 L382.6,628.4 L382.6,630.8 L382.7,633.3 L382.8,635.8 L382.9,638.3 L382.9,640.7 L383.0,643.2 L383.1,645.7 L383.1,648.1 L383.2,650.6 M383.9,682.4 L383.9,687.6 L384.0,692.8 L384.1,697.9 L384.1,703.1 L384.1,708.3 L384.2,713.5 L384.2,718.6 L384.2,723.8 L384.2,729.0 L384.2,734.2 L384.2,739.3 L384.2,744.5 L384.1,749.7 M383.7,780.2 L383.7,782.8 L383.7,785.3 L383.6,787.9 L383.5,790.5 L383.5,793.0 L383.4,795.6 L383.4,798.2 L383.3,800.8 L383.3,803.3 L383.2,805.9 L383.1,808.5 L383.0,811.0 L383.0,813.6 M381.8,846.3 L381.7,848.8 L381.6,851.3 L381.5,853.8 L381.4,856.2 L381.3,858.7 L381.2,861.2 L381.1,863.7 L381.0,866.2 L380.8,868.7 L380.7,871.1 L380.6,873.6 L380.5,876.1 L380.3,878.6 M378.5,910.3 L378.3,912.8 L378.2,915.3 L378.0,917.8 L377.8,920.3 L377.6,922.8 L377.5,925.3 L377.3,927.8 L377.1,930.3 L376.9,932.8 L376.7,935.3 L376.5,937.8 L376.3,940.3 L376.1,942.8 M373.4,974.3 L373.2,976.8 L372.9,979.3 L372.7,981.8 L372.4,984.3 L372.2,986.8 L371.9,989.3 L371.7,991.7 L371.4,994.2 L371.1,996.7 L370.9,999.2 L370.6,1001.7 L370.3,1004.2 L370.0,1006.7 M366.1,1038.5 L365.7,1041.0 L365.4,1043.6 L365.0,1046.1 L364.7,1048.7 L364.3,1051.2 L363.9,1053.7 L363.6,1056.3 L363.2,1058.8 L362.8,1061.3 L362.4,1063.9 L362.0,1066.4 L361.6,1069.0 L361.2,1071.5 M355.6,1102.4 L355.1,1104.9 L354.6,1107.4 L354.1,1109.9 L353.5,1112.3 L353.0,1114.8 L352.4,1117.3 L351.9,1119.8 L351.3,1122.3 L350.7,1124.8 L350.1,1127.2 L349.5,1129.7 L348.9,1132.2 L348.3,1134.7 M338.9,1165.4 L338.1,1167.7 L337.2,1170.1 L336.2,1172.4 L335.3,1174.8 L334.3,1177.1 L333.2,1179.4 L332.1,1181.8 L330.9,1184.1 L329.6,1186.4 L328.3,1188.8 L326.8,1191.1 L325.2,1193.5 L323.5,1195.8 M283.7,279.3 L282.7,281.7 L281.8,284.0 L280.8,286.4 L280.0,288.7 L279.1,291.1 L278.3,293.5 L277.4,295.8 L276.7,298.2 L275.9,300.6 L275.2,302.9 L274.4,305.3 L273.7,307.6 L273.1,310.0 M265.3,341.2 L264.8,343.7 L264.2,346.2 L263.7,348.7 L263.2,351.1 L262.7,353.6 L262.2,356.1 L261.7,358.6 L261.3,361.1 L260.8,363.6 L260.3,366.0 L259.9,368.5 L259.4,371.0 L259.0,373.5 M254.0,404.8 L253.7,407.4 L253.3,410.0 L252.9,412.5 L252.6,415.1 L252.2,417.7 L251.9,420.3 L251.5,422.8 L251.2,425.4 L250.9,428.0 L250.6,430.6 L250.2,433.1 L249.9,435.7 L249.6,438.3 M246.2,469.2 L245.9,471.8 L245.7,474.3 L245.4,476.9 L245.2,479.4 L244.9,482.0 L244.7,484.6 L244.5,487.1 L244.2,489.7 L244.0,492.3 L243.8,494.8 L243.5,497.4 L243.3,499.9 L243.1,502.5 M240.7,534.3 L240.5,536.8 L240.3,539.3 L240.1,541.8 L240.0,544.2 L239.8,546.7 L239.7,549.2 L239.5,551.7 L239.3,554.2 L239.2,556.7 L239.0,559.1 L238.9,561.6 L238.8,564.1 L238.6,566.6 M237.0,598.4 L236.9,600.9 L236.8,603.4 L236.7,605.8 L236.6,608.3 L236.5,610.8 L236.4,613.3 L236.3,615.7 L236.2,618.2 L236.1,620.7 L236.0,623.2 L235.9,625.6 L235.9,628.1 L235.8,630.6 M234.9,662.4 L234.9,664.9 L234.8,667.4 L234.8,669.9 L234.7,672.4 L234.7,674.9 L234.6,677.4 L234.6,680.0 L234.5,682.5 L234.5,685.0 L234.5,687.5 L234.4,690.0 L234.4,692.5 L234.4,695.0 M234.2,727.3 L234.2,729.9 L234.2,732.5 L234.2,735.1 L234.2,737.6 L234.2,740.2 L234.2,742.8 L234.3,745.4 L234.3,748.0 L234.3,750.6 L234.3,753.1 L234.3,755.7 L234.4,758.3 L234.4,760.9 M234.9,791.5 L234.9,794.0 L235.0,796.6 L235.0,799.1 L235.1,801.7 L235.2,804.2 L235.2,806.7 L235.3,809.3 L235.4,811.8 L235.4,814.3 L235.5,816.9 L235.6,819.4 L235.7,822.0 L235.8,824.5 M237.0,856.3 L237.1,858.8 L237.2,861.3 L237.3,863.8 L237.4,866.2 L237.6,868.7 L237.7,871.2 L237.8,873.7 L237.9,876.2 L238.1,878.7 L238.2,881.1 L238.3,883.6 L238.5,886.1 L238.6,888.6 M240.7,921.2 L240.8,923.7 L241.0,926.2 L241.2,928.7 L241.4,931.2 L241.6,933.7 L241.7,936.2 L241.9,938.7 L242.1,941.2 L242.3,943.7 L242.5,946.2 L242.7,948.7 L242.9,951.2 L243.2,953.7 M246.0,984.6 L246.3,987.1 L246.5,989.6 L246.8,992.0 L247.0,994.5 L247.3,997.0 L247.6,999.5 L247.8,1001.9 L248.1,1004.4 L248.4,1006.9 L248.7,1009.4 L249.0,1011.8 L249.3,1014.3 L249.6,1016.8 M253.8,1048.9 L254.1,1051.4 L254.5,1053.9 L254.9,1056.5 L255.3,1059.0 L255.6,1061.5 L256.0,1064.0 L256.4,1066.6 L256.8,1069.1 L257.2,1071.6 L257.7,1074.1 L258.1,1076.7 L258.5,1079.2 L259.0,1081.7 M264.7,1111.7 L265.3,1114.2 L265.8,1116.7 L266.4,1119.1 L266.9,1121.6 L267.5,1124.1 L268.1,1126.6 L268.7,1129.0 L269.3,1131.5 L269.9,1134.0 L270.6,1136.5 L271.2,1138.9 L271.9,1141.4 L272.6,1143.9 M282.3,1172.7 L283.2,1174.8 L284.1,1177.0 L285.1,1179.1 L286.1,1181.3 L287.1,1183.4 L288.3,1185.5 L289.4,1187.7 L290.7,1189.8 L292.1,1191.9 L293.6,1194.1 L295.3,1196.2 L297.2,1198.4 L299.5,1200.5 M303.9,250.9 L314.5,250.9 L317.0,252.9 L319.4,255.1 L322.6,258.7 L324.9,261.3 L326.9,264.0 L328.8,267.5 L330.6,271.8" fill="none" stroke="#ff0080" stroke-width="6.2" stroke-linecap="butt" stroke-linejoin="round"/>
<line x1="403.3" y1="551.7" x2="507" y2="505.2" stroke="#ff0080" stroke-width="5.5"/>
<polygon points="544,488 499.8,496.1 510,516.1" fill="#ff0080"/>
</svg>
</body></html>
